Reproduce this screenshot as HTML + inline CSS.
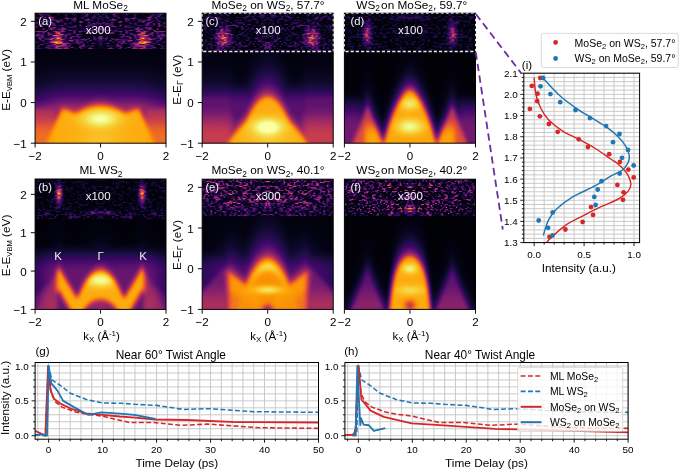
<!DOCTYPE html>
<html><head><meta charset="utf-8"><style>
html,body{margin:0;padding:0;background:#fff;}
#w{position:relative;width:685px;height:470px;overflow:hidden;background:#fff;}
#cv{position:absolute;left:0;top:0;width:685px;height:470px;}
#sv{position:absolute;left:0;top:0;}
text{font-family:"Liberation Sans",sans-serif;}
</style></head><body><div id="w">
<svg id="fb" width="685" height="470" viewBox="0 0 685 470" style="position:absolute;left:0;top:0">
<defs><filter id="fbb" x="-5%" y="-5%" width="110%" height="110%"><feGaussianBlur stdDeviation="2.2"/></filter>
<clipPath id="fca"><rect x="35.1" y="13.2" width="130.9" height="130.0"/></clipPath>
<clipPath id="fcc"><rect x="202.2" y="13.2" width="131.0" height="130.0"/></clipPath>
<clipPath id="fcd"><rect x="344.4" y="13.2" width="131.1" height="130.0"/></clipPath>
<clipPath id="fcb"><rect x="35.1" y="179.0" width="130.9" height="130.4"/></clipPath>
<clipPath id="fce"><rect x="202.2" y="179.2" width="131.0" height="130.2"/></clipPath>
<clipPath id="fcf"><rect x="344.4" y="179.2" width="131.1" height="130.2"/></clipPath>
</defs>
<g clip-path="url(#fca)"><g filter="url(#fbb)">
<rect x="32.1" y="10.2" width="11.5" height="11.4" fill="#16082f"/>
<rect x="43.3" y="10.2" width="8.5" height="11.4" fill="#280b45"/>
<rect x="51.5" y="10.2" width="8.5" height="11.4" fill="#230936"/>
<rect x="59.6" y="10.2" width="8.5" height="11.4" fill="#1c0832"/>
<rect x="67.8" y="10.2" width="8.5" height="11.4" fill="#220936"/>
<rect x="76.0" y="10.2" width="8.5" height="11.4" fill="#0d0522"/>
<rect x="84.2" y="10.2" width="8.5" height="11.4" fill="#280940"/>
<rect x="92.4" y="10.2" width="8.5" height="11.4" fill="#1a0937"/>
<rect x="100.6" y="10.2" width="8.5" height="11.4" fill="#1b0939"/>
<rect x="108.7" y="10.2" width="8.5" height="11.4" fill="#290940"/>
<rect x="116.9" y="10.2" width="8.5" height="11.4" fill="#0d0521"/>
<rect x="125.1" y="10.2" width="8.5" height="11.4" fill="#220836"/>
<rect x="133.3" y="10.2" width="8.5" height="11.4" fill="#1c0832"/>
<rect x="141.5" y="10.2" width="8.5" height="11.4" fill="#220935"/>
<rect x="149.6" y="10.2" width="8.5" height="11.4" fill="#280b46"/>
<rect x="157.8" y="10.2" width="11.5" height="11.4" fill="#15082e"/>
<rect x="32.1" y="21.3" width="11.5" height="8.4" fill="#250a36"/>
<rect x="43.3" y="21.3" width="8.5" height="8.4" fill="#1c0835"/>
<rect x="51.5" y="21.3" width="8.5" height="8.4" fill="#310c44"/>
<rect x="59.6" y="21.3" width="8.5" height="8.4" fill="#21093a"/>
<rect x="67.8" y="21.3" width="8.5" height="8.4" fill="#1a0935"/>
<rect x="76.0" y="21.3" width="8.5" height="8.4" fill="#1b0930"/>
<rect x="84.2" y="21.3" width="8.5" height="8.4" fill="#210a38"/>
<rect x="92.4" y="21.3" width="8.5" height="8.4" fill="#290a40"/>
<rect x="100.6" y="21.3" width="8.5" height="8.4" fill="#270a3d"/>
<rect x="108.7" y="21.3" width="8.5" height="8.4" fill="#210a38"/>
<rect x="116.9" y="21.3" width="8.5" height="8.4" fill="#1b092f"/>
<rect x="125.1" y="21.3" width="8.5" height="8.4" fill="#1a0936"/>
<rect x="133.3" y="21.3" width="8.5" height="8.4" fill="#20093a"/>
<rect x="141.5" y="21.3" width="8.5" height="8.4" fill="#310c44"/>
<rect x="149.6" y="21.3" width="8.5" height="8.4" fill="#1c0835"/>
<rect x="157.8" y="21.3" width="11.5" height="8.4" fill="#260a38"/>
<rect x="32.1" y="29.4" width="11.5" height="8.4" fill="#3e0e51"/>
<rect x="43.3" y="29.4" width="8.5" height="8.4" fill="#2e0c43"/>
<rect x="51.5" y="29.4" width="8.5" height="8.4" fill="#6a1f52"/>
<rect x="59.6" y="29.4" width="8.5" height="8.4" fill="#4c1355"/>
<rect x="67.8" y="29.4" width="8.5" height="8.4" fill="#280a41"/>
<rect x="76.0" y="29.4" width="8.5" height="8.4" fill="#200937"/>
<rect x="84.2" y="29.4" width="8.5" height="8.4" fill="#1c082e"/>
<rect x="92.4" y="29.4" width="8.5" height="8.4" fill="#200935"/>
<rect x="100.6" y="29.4" width="8.5" height="8.4" fill="#1d0832"/>
<rect x="108.7" y="29.4" width="8.5" height="8.4" fill="#1d082e"/>
<rect x="116.9" y="29.4" width="8.5" height="8.4" fill="#1f0936"/>
<rect x="125.1" y="29.4" width="8.5" height="8.4" fill="#280b42"/>
<rect x="133.3" y="29.4" width="8.5" height="8.4" fill="#4a1354"/>
<rect x="141.5" y="29.4" width="8.5" height="8.4" fill="#6b1f53"/>
<rect x="149.6" y="29.4" width="8.5" height="8.4" fill="#2e0c43"/>
<rect x="157.8" y="29.4" width="11.5" height="8.4" fill="#3c0e4e"/>
<rect x="32.1" y="37.6" width="11.5" height="8.4" fill="#200937"/>
<rect x="43.3" y="37.6" width="8.5" height="8.4" fill="#2c0c47"/>
<rect x="51.5" y="37.6" width="8.5" height="8.4" fill="#a03b50"/>
<rect x="59.6" y="37.6" width="8.5" height="8.4" fill="#6f2057"/>
<rect x="67.8" y="37.6" width="8.5" height="8.4" fill="#2d0c42"/>
<rect x="76.0" y="37.6" width="8.5" height="8.4" fill="#350c4d"/>
<rect x="84.2" y="37.6" width="8.5" height="8.4" fill="#1b0832"/>
<rect x="92.4" y="37.6" width="8.5" height="8.4" fill="#20093a"/>
<rect x="100.6" y="37.6" width="8.5" height="8.4" fill="#1c0936"/>
<rect x="108.7" y="37.6" width="8.5" height="8.4" fill="#1b0831"/>
<rect x="116.9" y="37.6" width="8.5" height="8.4" fill="#350c4d"/>
<rect x="125.1" y="37.6" width="8.5" height="8.4" fill="#2d0c42"/>
<rect x="133.3" y="37.6" width="8.5" height="8.4" fill="#6d2057"/>
<rect x="141.5" y="37.6" width="8.5" height="8.4" fill="#a03b50"/>
<rect x="149.6" y="37.6" width="8.5" height="8.4" fill="#2d0c47"/>
<rect x="157.8" y="37.6" width="11.5" height="8.4" fill="#1e0934"/>
<rect x="32.1" y="45.7" width="11.5" height="8.4" fill="#0b041d"/>
<rect x="43.3" y="45.7" width="8.5" height="8.4" fill="#130524"/>
<rect x="51.5" y="45.7" width="8.5" height="8.4" fill="#280a2d"/>
<rect x="59.6" y="45.7" width="8.5" height="8.4" fill="#2a0b31"/>
<rect x="67.8" y="45.7" width="8.5" height="8.4" fill="#0f051f"/>
<rect x="76.0" y="45.7" width="8.5" height="8.4" fill="#110522"/>
<rect x="84.2" y="45.7" width="8.5" height="8.4" fill="#100620"/>
<rect x="92.4" y="45.7" width="8.5" height="8.4" fill="#070317"/>
<rect x="100.6" y="45.7" width="8.5" height="8.4" fill="#070317"/>
<rect x="108.7" y="45.7" width="8.5" height="8.4" fill="#100620"/>
<rect x="116.9" y="45.7" width="8.5" height="8.4" fill="#120522"/>
<rect x="125.1" y="45.7" width="8.5" height="8.4" fill="#0e051f"/>
<rect x="133.3" y="45.7" width="8.5" height="8.4" fill="#2a0b31"/>
<rect x="141.5" y="45.7" width="8.5" height="8.4" fill="#280b2d"/>
<rect x="149.6" y="45.7" width="8.5" height="8.4" fill="#130625"/>
<rect x="157.8" y="45.7" width="11.5" height="8.4" fill="#0a041c"/>
<rect x="32.1" y="53.8" width="11.5" height="8.4" fill="#030210"/>
<rect x="43.3" y="53.8" width="8.5" height="8.4" fill="#030211"/>
<rect x="51.5" y="53.8" width="8.5" height="8.4" fill="#040312"/>
<rect x="59.6" y="53.8" width="8.5" height="8.4" fill="#040312"/>
<rect x="67.8" y="53.8" width="8.5" height="8.4" fill="#040312"/>
<rect x="76.0" y="53.8" width="8.5" height="8.4" fill="#040312"/>
<rect x="84.2" y="53.8" width="8.5" height="8.4" fill="#040312"/>
<rect x="92.4" y="53.8" width="8.5" height="8.4" fill="#040312"/>
<rect x="100.6" y="53.8" width="8.5" height="8.4" fill="#040312"/>
<rect x="108.7" y="53.8" width="8.5" height="8.4" fill="#040312"/>
<rect x="116.9" y="53.8" width="8.5" height="8.4" fill="#040312"/>
<rect x="125.1" y="53.8" width="8.5" height="8.4" fill="#040312"/>
<rect x="133.3" y="53.8" width="8.5" height="8.4" fill="#040312"/>
<rect x="141.5" y="53.8" width="8.5" height="8.4" fill="#040312"/>
<rect x="149.6" y="53.8" width="8.5" height="8.4" fill="#030211"/>
<rect x="157.8" y="53.8" width="11.5" height="8.4" fill="#030210"/>
<rect x="32.1" y="62.0" width="11.5" height="8.4" fill="#040315"/>
<rect x="43.3" y="62.0" width="8.5" height="8.4" fill="#050416"/>
<rect x="51.5" y="62.0" width="8.5" height="8.4" fill="#060418"/>
<rect x="59.6" y="62.0" width="8.5" height="8.4" fill="#06041a"/>
<rect x="67.8" y="62.0" width="8.5" height="8.4" fill="#06041a"/>
<rect x="76.0" y="62.0" width="8.5" height="8.4" fill="#06041a"/>
<rect x="84.2" y="62.0" width="8.5" height="8.4" fill="#06041a"/>
<rect x="92.4" y="62.0" width="8.5" height="8.4" fill="#06041a"/>
<rect x="100.6" y="62.0" width="8.5" height="8.4" fill="#06041a"/>
<rect x="108.7" y="62.0" width="8.5" height="8.4" fill="#06041a"/>
<rect x="116.9" y="62.0" width="8.5" height="8.4" fill="#06041a"/>
<rect x="125.1" y="62.0" width="8.5" height="8.4" fill="#06041a"/>
<rect x="133.3" y="62.0" width="8.5" height="8.4" fill="#06041a"/>
<rect x="141.5" y="62.0" width="8.5" height="8.4" fill="#060418"/>
<rect x="149.6" y="62.0" width="8.5" height="8.4" fill="#050416"/>
<rect x="157.8" y="62.0" width="11.5" height="8.4" fill="#040315"/>
<rect x="32.1" y="70.1" width="11.5" height="8.4" fill="#08051d"/>
<rect x="43.3" y="70.1" width="8.5" height="8.4" fill="#09061f"/>
<rect x="51.5" y="70.1" width="8.5" height="8.4" fill="#0a0723"/>
<rect x="59.6" y="70.1" width="8.5" height="8.4" fill="#0b0724"/>
<rect x="67.8" y="70.1" width="8.5" height="8.4" fill="#0b0724"/>
<rect x="76.0" y="70.1" width="8.5" height="8.4" fill="#0b0724"/>
<rect x="84.2" y="70.1" width="8.5" height="8.4" fill="#0b0724"/>
<rect x="92.4" y="70.1" width="8.5" height="8.4" fill="#0b0724"/>
<rect x="100.6" y="70.1" width="8.5" height="8.4" fill="#0b0724"/>
<rect x="108.7" y="70.1" width="8.5" height="8.4" fill="#0b0724"/>
<rect x="116.9" y="70.1" width="8.5" height="8.4" fill="#0b0724"/>
<rect x="125.1" y="70.1" width="8.5" height="8.4" fill="#0b0724"/>
<rect x="133.3" y="70.1" width="8.5" height="8.4" fill="#0b0724"/>
<rect x="141.5" y="70.1" width="8.5" height="8.4" fill="#0a0723"/>
<rect x="149.6" y="70.1" width="8.5" height="8.4" fill="#09061f"/>
<rect x="157.8" y="70.1" width="11.5" height="8.4" fill="#08051d"/>
<rect x="32.1" y="78.2" width="11.5" height="8.4" fill="#0f092b"/>
<rect x="43.3" y="78.2" width="8.5" height="8.4" fill="#110a2f"/>
<rect x="51.5" y="78.2" width="8.5" height="8.4" fill="#140b35"/>
<rect x="59.6" y="78.2" width="8.5" height="8.4" fill="#160b39"/>
<rect x="67.8" y="78.2" width="8.5" height="8.4" fill="#160b39"/>
<rect x="76.0" y="78.2" width="8.5" height="8.4" fill="#160b39"/>
<rect x="84.2" y="78.2" width="8.5" height="8.4" fill="#160b39"/>
<rect x="92.4" y="78.2" width="8.5" height="8.4" fill="#160b39"/>
<rect x="100.6" y="78.2" width="8.5" height="8.4" fill="#160b39"/>
<rect x="108.7" y="78.2" width="8.5" height="8.4" fill="#160b39"/>
<rect x="116.9" y="78.2" width="8.5" height="8.4" fill="#160b39"/>
<rect x="125.1" y="78.2" width="8.5" height="8.4" fill="#160b39"/>
<rect x="133.3" y="78.2" width="8.5" height="8.4" fill="#160b39"/>
<rect x="141.5" y="78.2" width="8.5" height="8.4" fill="#140b35"/>
<rect x="149.6" y="78.2" width="8.5" height="8.4" fill="#110a2f"/>
<rect x="157.8" y="78.2" width="11.5" height="8.4" fill="#0f092b"/>
<rect x="32.1" y="86.3" width="11.5" height="8.4" fill="#1d0c44"/>
<rect x="43.3" y="86.3" width="8.5" height="8.4" fill="#220c4b"/>
<rect x="51.5" y="86.3" width="8.5" height="8.4" fill="#290b53"/>
<rect x="59.6" y="86.3" width="8.5" height="8.4" fill="#2d0b58"/>
<rect x="67.8" y="86.3" width="8.5" height="8.4" fill="#2e0a58"/>
<rect x="76.0" y="86.3" width="8.5" height="8.4" fill="#2e0a58"/>
<rect x="84.2" y="86.3" width="8.5" height="8.4" fill="#2e0a58"/>
<rect x="92.4" y="86.3" width="8.5" height="8.4" fill="#2e0a59"/>
<rect x="100.6" y="86.3" width="8.5" height="8.4" fill="#2e0a59"/>
<rect x="108.7" y="86.3" width="8.5" height="8.4" fill="#2e0a58"/>
<rect x="116.9" y="86.3" width="8.5" height="8.4" fill="#2e0a58"/>
<rect x="125.1" y="86.3" width="8.5" height="8.4" fill="#2e0a58"/>
<rect x="133.3" y="86.3" width="8.5" height="8.4" fill="#2d0b58"/>
<rect x="141.5" y="86.3" width="8.5" height="8.4" fill="#290b53"/>
<rect x="149.6" y="86.3" width="8.5" height="8.4" fill="#220c4b"/>
<rect x="157.8" y="86.3" width="11.5" height="8.4" fill="#1d0c44"/>
<rect x="32.1" y="94.5" width="11.5" height="8.4" fill="#3d0b64"/>
<rect x="43.3" y="94.5" width="8.5" height="8.4" fill="#460c68"/>
<rect x="51.5" y="94.5" width="8.5" height="8.4" fill="#520f6b"/>
<rect x="59.6" y="94.5" width="8.5" height="8.4" fill="#59116c"/>
<rect x="67.8" y="94.5" width="8.5" height="8.4" fill="#59116c"/>
<rect x="76.0" y="94.5" width="8.5" height="8.4" fill="#5a116c"/>
<rect x="84.2" y="94.5" width="8.5" height="8.4" fill="#5e136c"/>
<rect x="92.4" y="94.5" width="8.5" height="8.4" fill="#6a176b"/>
<rect x="100.6" y="94.5" width="8.5" height="8.4" fill="#6a176b"/>
<rect x="108.7" y="94.5" width="8.5" height="8.4" fill="#5e136c"/>
<rect x="116.9" y="94.5" width="8.5" height="8.4" fill="#5a116c"/>
<rect x="125.1" y="94.5" width="8.5" height="8.4" fill="#59116c"/>
<rect x="133.3" y="94.5" width="8.5" height="8.4" fill="#59116c"/>
<rect x="141.5" y="94.5" width="8.5" height="8.4" fill="#520f6b"/>
<rect x="149.6" y="94.5" width="8.5" height="8.4" fill="#460c68"/>
<rect x="157.8" y="94.5" width="11.5" height="8.4" fill="#3d0b63"/>
<rect x="32.1" y="102.6" width="11.5" height="8.4" fill="#7b1d6b"/>
<rect x="43.3" y="102.6" width="8.5" height="8.4" fill="#811f6a"/>
<rect x="51.5" y="102.6" width="8.5" height="8.4" fill="#8b2369"/>
<rect x="59.6" y="102.6" width="8.5" height="8.4" fill="#b03854"/>
<rect x="67.8" y="102.6" width="8.5" height="8.4" fill="#a22d5e"/>
<rect x="76.0" y="102.6" width="8.5" height="8.4" fill="#ab3557"/>
<rect x="84.2" y="102.6" width="8.5" height="8.4" fill="#d46037"/>
<rect x="92.4" y="102.6" width="8.5" height="8.4" fill="#e9832b"/>
<rect x="100.6" y="102.6" width="8.5" height="8.4" fill="#e9822b"/>
<rect x="108.7" y="102.6" width="8.5" height="8.4" fill="#d46037"/>
<rect x="116.9" y="102.6" width="8.5" height="8.4" fill="#ac3557"/>
<rect x="125.1" y="102.6" width="8.5" height="8.4" fill="#a22d5e"/>
<rect x="133.3" y="102.6" width="8.5" height="8.4" fill="#b03854"/>
<rect x="141.5" y="102.6" width="8.5" height="8.4" fill="#8b2369"/>
<rect x="149.6" y="102.6" width="8.5" height="8.4" fill="#811f6a"/>
<rect x="157.8" y="102.6" width="11.5" height="8.4" fill="#7b1d6b"/>
<rect x="32.1" y="110.7" width="11.5" height="8.4" fill="#b83656"/>
<rect x="43.3" y="110.7" width="8.5" height="8.4" fill="#b83656"/>
<rect x="51.5" y="110.7" width="8.5" height="8.4" fill="#bf3e4e"/>
<rect x="59.6" y="110.7" width="8.5" height="8.4" fill="#fa9c10"/>
<rect x="67.8" y="110.7" width="8.5" height="8.4" fill="#f79816"/>
<rect x="76.0" y="110.7" width="8.5" height="8.4" fill="#f9ac20"/>
<rect x="84.2" y="110.7" width="8.5" height="8.4" fill="#f6d647"/>
<rect x="92.4" y="110.7" width="8.5" height="8.4" fill="#f5ed75"/>
<rect x="100.6" y="110.7" width="8.5" height="8.4" fill="#f5ec74"/>
<rect x="108.7" y="110.7" width="8.5" height="8.4" fill="#f6d748"/>
<rect x="116.9" y="110.7" width="8.5" height="8.4" fill="#f9ad20"/>
<rect x="125.1" y="110.7" width="8.5" height="8.4" fill="#f79816"/>
<rect x="133.3" y="110.7" width="8.5" height="8.4" fill="#fa9c0f"/>
<rect x="141.5" y="110.7" width="8.5" height="8.4" fill="#c03f4d"/>
<rect x="149.6" y="110.7" width="8.5" height="8.4" fill="#b83656"/>
<rect x="157.8" y="110.7" width="11.5" height="8.4" fill="#b83656"/>
<rect x="32.1" y="118.8" width="11.5" height="8.4" fill="#d54a40"/>
<rect x="43.3" y="118.8" width="8.5" height="8.4" fill="#d54a40"/>
<rect x="51.5" y="118.8" width="8.5" height="8.4" fill="#eb7423"/>
<rect x="59.6" y="118.8" width="8.5" height="8.4" fill="#fcac11"/>
<rect x="67.8" y="118.8" width="8.5" height="8.4" fill="#fcb216"/>
<rect x="76.0" y="118.8" width="8.5" height="8.4" fill="#fabf25"/>
<rect x="84.2" y="118.8" width="8.5" height="8.4" fill="#f6d748"/>
<rect x="92.4" y="118.8" width="8.5" height="8.4" fill="#f5ec72"/>
<rect x="100.6" y="118.8" width="8.5" height="8.4" fill="#f4eb71"/>
<rect x="108.7" y="118.8" width="8.5" height="8.4" fill="#f6d748"/>
<rect x="116.9" y="118.8" width="8.5" height="8.4" fill="#fac026"/>
<rect x="125.1" y="118.8" width="8.5" height="8.4" fill="#fcb216"/>
<rect x="133.3" y="118.8" width="8.5" height="8.4" fill="#fcac11"/>
<rect x="141.5" y="118.8" width="8.5" height="8.4" fill="#eb7522"/>
<rect x="149.6" y="118.8" width="8.5" height="8.4" fill="#d54a40"/>
<rect x="157.8" y="118.8" width="11.5" height="8.4" fill="#d54a40"/>
<rect x="32.1" y="127.0" width="11.5" height="8.4" fill="#ea6429"/>
<rect x="43.3" y="127.0" width="8.5" height="8.4" fill="#ec6826"/>
<rect x="51.5" y="127.0" width="8.5" height="8.4" fill="#fa9e0e"/>
<rect x="59.6" y="127.0" width="8.5" height="8.4" fill="#fcac11"/>
<rect x="67.8" y="127.0" width="8.5" height="8.4" fill="#fcaf13"/>
<rect x="76.0" y="127.0" width="8.5" height="8.4" fill="#fcb418"/>
<rect x="84.2" y="127.0" width="8.5" height="8.4" fill="#fbbc21"/>
<rect x="92.4" y="127.0" width="8.5" height="8.4" fill="#fac329"/>
<rect x="100.6" y="127.0" width="8.5" height="8.4" fill="#fac329"/>
<rect x="108.7" y="127.0" width="8.5" height="8.4" fill="#fbbc21"/>
<rect x="116.9" y="127.0" width="8.5" height="8.4" fill="#fcb418"/>
<rect x="125.1" y="127.0" width="8.5" height="8.4" fill="#fcaf13"/>
<rect x="133.3" y="127.0" width="8.5" height="8.4" fill="#fcac11"/>
<rect x="141.5" y="127.0" width="8.5" height="8.4" fill="#fa9e0e"/>
<rect x="149.6" y="127.0" width="8.5" height="8.4" fill="#ec6826"/>
<rect x="157.8" y="127.0" width="11.5" height="8.4" fill="#ea6429"/>
<rect x="32.1" y="135.1" width="11.5" height="11.4" fill="#ef6c23"/>
<rect x="43.3" y="135.1" width="8.5" height="11.4" fill="#f47e16"/>
<rect x="51.5" y="135.1" width="8.5" height="11.4" fill="#fca80e"/>
<rect x="59.6" y="135.1" width="8.5" height="11.4" fill="#fcac11"/>
<rect x="67.8" y="135.1" width="8.5" height="11.4" fill="#fcaf13"/>
<rect x="76.0" y="135.1" width="8.5" height="11.4" fill="#fcb317"/>
<rect x="84.2" y="135.1" width="8.5" height="11.4" fill="#fbb91e"/>
<rect x="92.4" y="135.1" width="8.5" height="11.4" fill="#fbbf24"/>
<rect x="100.6" y="135.1" width="8.5" height="11.4" fill="#fbbf24"/>
<rect x="108.7" y="135.1" width="8.5" height="11.4" fill="#fbba1e"/>
<rect x="116.9" y="135.1" width="8.5" height="11.4" fill="#fcb317"/>
<rect x="125.1" y="135.1" width="8.5" height="11.4" fill="#fcaf13"/>
<rect x="133.3" y="135.1" width="8.5" height="11.4" fill="#fcac11"/>
<rect x="141.5" y="135.1" width="8.5" height="11.4" fill="#fca80e"/>
<rect x="149.6" y="135.1" width="8.5" height="11.4" fill="#f57f15"/>
<rect x="157.8" y="135.1" width="11.5" height="11.4" fill="#ef6c23"/>
</g></g>
<g clip-path="url(#fcc)"><g filter="url(#fbb)">
<rect x="199.2" y="10.2" width="11.5" height="11.4" fill="#150831"/>
<rect x="210.4" y="10.2" width="8.5" height="11.4" fill="#1a0734"/>
<rect x="218.6" y="10.2" width="8.5" height="11.4" fill="#12062a"/>
<rect x="226.8" y="10.2" width="8.5" height="11.4" fill="#09051c"/>
<rect x="234.9" y="10.2" width="8.5" height="11.4" fill="#0c051f"/>
<rect x="243.1" y="10.2" width="8.5" height="11.4" fill="#160730"/>
<rect x="251.3" y="10.2" width="8.5" height="11.4" fill="#110629"/>
<rect x="259.5" y="10.2" width="8.5" height="11.4" fill="#1a0837"/>
<rect x="267.7" y="10.2" width="8.5" height="11.4" fill="#190735"/>
<rect x="275.9" y="10.2" width="8.5" height="11.4" fill="#11072a"/>
<rect x="284.1" y="10.2" width="8.5" height="11.4" fill="#160730"/>
<rect x="292.3" y="10.2" width="8.5" height="11.4" fill="#0c0520"/>
<rect x="300.4" y="10.2" width="8.5" height="11.4" fill="#0a051e"/>
<rect x="308.6" y="10.2" width="8.5" height="11.4" fill="#13062b"/>
<rect x="316.8" y="10.2" width="8.5" height="11.4" fill="#190733"/>
<rect x="325.0" y="10.2" width="11.5" height="11.4" fill="#14072f"/>
<rect x="199.2" y="21.3" width="11.5" height="8.4" fill="#100728"/>
<rect x="210.4" y="21.3" width="8.5" height="8.4" fill="#0d0522"/>
<rect x="218.6" y="21.3" width="8.5" height="8.4" fill="#210a41"/>
<rect x="226.8" y="21.3" width="8.5" height="8.4" fill="#1c0835"/>
<rect x="234.9" y="21.3" width="8.5" height="8.4" fill="#1b0835"/>
<rect x="243.1" y="21.3" width="8.5" height="8.4" fill="#0e0624"/>
<rect x="251.3" y="21.3" width="8.5" height="8.4" fill="#0b041d"/>
<rect x="259.5" y="21.3" width="8.5" height="8.4" fill="#0b0620"/>
<rect x="267.7" y="21.3" width="8.5" height="8.4" fill="#0b0620"/>
<rect x="275.9" y="21.3" width="8.5" height="8.4" fill="#0c051e"/>
<rect x="284.1" y="21.3" width="8.5" height="8.4" fill="#0e0522"/>
<rect x="292.3" y="21.3" width="8.5" height="8.4" fill="#1a0834"/>
<rect x="300.4" y="21.3" width="8.5" height="8.4" fill="#1e0938"/>
<rect x="308.6" y="21.3" width="8.5" height="8.4" fill="#1e0a3e"/>
<rect x="316.8" y="21.3" width="8.5" height="8.4" fill="#0d0522"/>
<rect x="325.0" y="21.3" width="11.5" height="8.4" fill="#0f0626"/>
<rect x="199.2" y="29.4" width="11.5" height="8.4" fill="#0a051f"/>
<rect x="210.4" y="29.4" width="8.5" height="8.4" fill="#260b3b"/>
<rect x="218.6" y="29.4" width="8.5" height="8.4" fill="#832460"/>
<rect x="226.8" y="29.4" width="8.5" height="8.4" fill="#340d48"/>
<rect x="234.9" y="29.4" width="8.5" height="8.4" fill="#0c0520"/>
<rect x="243.1" y="29.4" width="8.5" height="8.4" fill="#0d0624"/>
<rect x="251.3" y="29.4" width="8.5" height="8.4" fill="#120629"/>
<rect x="259.5" y="29.4" width="8.5" height="8.4" fill="#160830"/>
<rect x="267.7" y="29.4" width="8.5" height="8.4" fill="#15082f"/>
<rect x="275.9" y="29.4" width="8.5" height="8.4" fill="#13072b"/>
<rect x="284.1" y="29.4" width="8.5" height="8.4" fill="#0d0623"/>
<rect x="292.3" y="29.4" width="8.5" height="8.4" fill="#0d0521"/>
<rect x="300.4" y="29.4" width="8.5" height="8.4" fill="#370e47"/>
<rect x="308.6" y="29.4" width="8.5" height="8.4" fill="#822460"/>
<rect x="316.8" y="29.4" width="8.5" height="8.4" fill="#220a3a"/>
<rect x="325.0" y="29.4" width="11.5" height="8.4" fill="#0a051f"/>
<rect x="199.2" y="37.6" width="11.5" height="8.4" fill="#100626"/>
<rect x="210.4" y="37.6" width="8.5" height="8.4" fill="#2c0c45"/>
<rect x="218.6" y="37.6" width="8.5" height="8.4" fill="#8f295e"/>
<rect x="226.8" y="37.6" width="8.5" height="8.4" fill="#360c4d"/>
<rect x="234.9" y="37.6" width="8.5" height="8.4" fill="#15072d"/>
<rect x="243.1" y="37.6" width="8.5" height="8.4" fill="#0e0626"/>
<rect x="251.3" y="37.6" width="8.5" height="8.4" fill="#130627"/>
<rect x="259.5" y="37.6" width="8.5" height="8.4" fill="#1d0836"/>
<rect x="267.7" y="37.6" width="8.5" height="8.4" fill="#1e0838"/>
<rect x="275.9" y="37.6" width="8.5" height="8.4" fill="#120627"/>
<rect x="284.1" y="37.6" width="8.5" height="8.4" fill="#0f0627"/>
<rect x="292.3" y="37.6" width="8.5" height="8.4" fill="#14072c"/>
<rect x="300.4" y="37.6" width="8.5" height="8.4" fill="#390d4e"/>
<rect x="308.6" y="37.6" width="8.5" height="8.4" fill="#8e295d"/>
<rect x="316.8" y="37.6" width="8.5" height="8.4" fill="#280b43"/>
<rect x="325.0" y="37.6" width="11.5" height="8.4" fill="#100627"/>
<rect x="199.2" y="45.7" width="11.5" height="8.4" fill="#0a041c"/>
<rect x="210.4" y="45.7" width="8.5" height="8.4" fill="#17062d"/>
<rect x="218.6" y="45.7" width="8.5" height="8.4" fill="#1f0837"/>
<rect x="226.8" y="45.7" width="8.5" height="8.4" fill="#0e0624"/>
<rect x="234.9" y="45.7" width="8.5" height="8.4" fill="#0c051d"/>
<rect x="243.1" y="45.7" width="8.5" height="8.4" fill="#0c041c"/>
<rect x="251.3" y="45.7" width="8.5" height="8.4" fill="#0c041e"/>
<rect x="259.5" y="45.7" width="8.5" height="8.4" fill="#17072d"/>
<rect x="267.7" y="45.7" width="8.5" height="8.4" fill="#15072b"/>
<rect x="275.9" y="45.7" width="8.5" height="8.4" fill="#0c051e"/>
<rect x="284.1" y="45.7" width="8.5" height="8.4" fill="#0c041d"/>
<rect x="292.3" y="45.7" width="8.5" height="8.4" fill="#0c041d"/>
<rect x="300.4" y="45.7" width="8.5" height="8.4" fill="#0d0623"/>
<rect x="308.6" y="45.7" width="8.5" height="8.4" fill="#220839"/>
<rect x="316.8" y="45.7" width="8.5" height="8.4" fill="#16062c"/>
<rect x="325.0" y="45.7" width="11.5" height="8.4" fill="#09041b"/>
<rect x="199.2" y="53.8" width="11.5" height="8.4" fill="#030211"/>
<rect x="210.4" y="53.8" width="8.5" height="8.4" fill="#030211"/>
<rect x="218.6" y="53.8" width="8.5" height="8.4" fill="#030211"/>
<rect x="226.8" y="53.8" width="8.5" height="8.4" fill="#030210"/>
<rect x="234.9" y="53.8" width="8.5" height="8.4" fill="#02020e"/>
<rect x="243.1" y="53.8" width="8.5" height="8.4" fill="#030210"/>
<rect x="251.3" y="53.8" width="8.5" height="8.4" fill="#060418"/>
<rect x="259.5" y="53.8" width="8.5" height="8.4" fill="#090620"/>
<rect x="267.7" y="53.8" width="8.5" height="8.4" fill="#090620"/>
<rect x="275.9" y="53.8" width="8.5" height="8.4" fill="#060418"/>
<rect x="284.1" y="53.8" width="8.5" height="8.4" fill="#030210"/>
<rect x="292.3" y="53.8" width="8.5" height="8.4" fill="#02020d"/>
<rect x="300.4" y="53.8" width="8.5" height="8.4" fill="#030210"/>
<rect x="308.6" y="53.8" width="8.5" height="8.4" fill="#030211"/>
<rect x="316.8" y="53.8" width="8.5" height="8.4" fill="#030211"/>
<rect x="325.0" y="53.8" width="11.5" height="8.4" fill="#030211"/>
<rect x="199.2" y="62.0" width="11.5" height="8.4" fill="#050416"/>
<rect x="210.4" y="62.0" width="8.5" height="8.4" fill="#050416"/>
<rect x="218.6" y="62.0" width="8.5" height="8.4" fill="#050416"/>
<rect x="226.8" y="62.0" width="8.5" height="8.4" fill="#040314"/>
<rect x="234.9" y="62.0" width="8.5" height="8.4" fill="#030210"/>
<rect x="243.1" y="62.0" width="8.5" height="8.4" fill="#040314"/>
<rect x="251.3" y="62.0" width="8.5" height="8.4" fill="#0a0722"/>
<rect x="259.5" y="62.0" width="8.5" height="8.4" fill="#110a2f"/>
<rect x="267.7" y="62.0" width="8.5" height="8.4" fill="#10092f"/>
<rect x="275.9" y="62.0" width="8.5" height="8.4" fill="#0a0722"/>
<rect x="284.1" y="62.0" width="8.5" height="8.4" fill="#040314"/>
<rect x="292.3" y="62.0" width="8.5" height="8.4" fill="#030210"/>
<rect x="300.4" y="62.0" width="8.5" height="8.4" fill="#040314"/>
<rect x="308.6" y="62.0" width="8.5" height="8.4" fill="#050416"/>
<rect x="316.8" y="62.0" width="8.5" height="8.4" fill="#050416"/>
<rect x="325.0" y="62.0" width="11.5" height="8.4" fill="#050416"/>
<rect x="199.2" y="70.1" width="11.5" height="8.4" fill="#09061e"/>
<rect x="210.4" y="70.1" width="8.5" height="8.4" fill="#09061e"/>
<rect x="218.6" y="70.1" width="8.5" height="8.4" fill="#09061e"/>
<rect x="226.8" y="70.1" width="8.5" height="8.4" fill="#07051c"/>
<rect x="234.9" y="70.1" width="8.5" height="8.4" fill="#040314"/>
<rect x="243.1" y="70.1" width="8.5" height="8.4" fill="#07051b"/>
<rect x="251.3" y="70.1" width="8.5" height="8.4" fill="#130a33"/>
<rect x="259.5" y="70.1" width="8.5" height="8.4" fill="#210c49"/>
<rect x="267.7" y="70.1" width="8.5" height="8.4" fill="#200c48"/>
<rect x="275.9" y="70.1" width="8.5" height="8.4" fill="#120a32"/>
<rect x="284.1" y="70.1" width="8.5" height="8.4" fill="#07051c"/>
<rect x="292.3" y="70.1" width="8.5" height="8.4" fill="#040314"/>
<rect x="300.4" y="70.1" width="8.5" height="8.4" fill="#07051c"/>
<rect x="308.6" y="70.1" width="8.5" height="8.4" fill="#09061e"/>
<rect x="316.8" y="70.1" width="8.5" height="8.4" fill="#09061e"/>
<rect x="325.0" y="70.1" width="11.5" height="8.4" fill="#09061e"/>
<rect x="199.2" y="78.2" width="11.5" height="8.4" fill="#110a2f"/>
<rect x="210.4" y="78.2" width="8.5" height="8.4" fill="#110a2f"/>
<rect x="218.6" y="78.2" width="8.5" height="8.4" fill="#110a2f"/>
<rect x="226.8" y="78.2" width="8.5" height="8.4" fill="#0e082a"/>
<rect x="234.9" y="78.2" width="8.5" height="8.4" fill="#09061f"/>
<rect x="243.1" y="78.2" width="8.5" height="8.4" fill="#0d0828"/>
<rect x="251.3" y="78.2" width="8.5" height="8.4" fill="#250b4d"/>
<rect x="259.5" y="78.2" width="8.5" height="8.4" fill="#400b65"/>
<rect x="267.7" y="78.2" width="8.5" height="8.4" fill="#3e0b64"/>
<rect x="275.9" y="78.2" width="8.5" height="8.4" fill="#240b4d"/>
<rect x="284.1" y="78.2" width="8.5" height="8.4" fill="#0e0829"/>
<rect x="292.3" y="78.2" width="8.5" height="8.4" fill="#09061e"/>
<rect x="300.4" y="78.2" width="8.5" height="8.4" fill="#0e082a"/>
<rect x="308.6" y="78.2" width="8.5" height="8.4" fill="#110a2f"/>
<rect x="316.8" y="78.2" width="8.5" height="8.4" fill="#110a2f"/>
<rect x="325.0" y="78.2" width="11.5" height="8.4" fill="#110a2f"/>
<rect x="199.2" y="86.3" width="11.5" height="8.4" fill="#260b50"/>
<rect x="210.4" y="86.3" width="8.5" height="8.4" fill="#260b50"/>
<rect x="218.6" y="86.3" width="8.5" height="8.4" fill="#260b50"/>
<rect x="226.8" y="86.3" width="8.5" height="8.4" fill="#220b4a"/>
<rect x="234.9" y="86.3" width="8.5" height="8.4" fill="#1f0b46"/>
<rect x="243.1" y="86.3" width="8.5" height="8.4" fill="#220b49"/>
<rect x="251.3" y="86.3" width="8.5" height="8.4" fill="#460d65"/>
<rect x="259.5" y="86.3" width="8.5" height="8.4" fill="#771c6b"/>
<rect x="267.7" y="86.3" width="8.5" height="8.4" fill="#751b6c"/>
<rect x="275.9" y="86.3" width="8.5" height="8.4" fill="#460d66"/>
<rect x="284.1" y="86.3" width="8.5" height="8.4" fill="#220b4a"/>
<rect x="292.3" y="86.3" width="8.5" height="8.4" fill="#1f0b46"/>
<rect x="300.4" y="86.3" width="8.5" height="8.4" fill="#220b4b"/>
<rect x="308.6" y="86.3" width="8.5" height="8.4" fill="#260b50"/>
<rect x="316.8" y="86.3" width="8.5" height="8.4" fill="#260b50"/>
<rect x="325.0" y="86.3" width="11.5" height="8.4" fill="#260b50"/>
<rect x="199.2" y="94.5" width="11.5" height="8.4" fill="#520f6c"/>
<rect x="210.4" y="94.5" width="8.5" height="8.4" fill="#520f6c"/>
<rect x="218.6" y="94.5" width="8.5" height="8.4" fill="#520f6c"/>
<rect x="226.8" y="94.5" width="8.5" height="8.4" fill="#4b0c6a"/>
<rect x="234.9" y="94.5" width="8.5" height="8.4" fill="#450b68"/>
<rect x="243.1" y="94.5" width="8.5" height="8.4" fill="#480c69"/>
<rect x="251.3" y="94.5" width="8.5" height="8.4" fill="#8e285f"/>
<rect x="259.5" y="94.5" width="8.5" height="8.4" fill="#e26e29"/>
<rect x="267.7" y="94.5" width="8.5" height="8.4" fill="#e06a2c"/>
<rect x="275.9" y="94.5" width="8.5" height="8.4" fill="#8d2761"/>
<rect x="284.1" y="94.5" width="8.5" height="8.4" fill="#490c69"/>
<rect x="292.3" y="94.5" width="8.5" height="8.4" fill="#450b68"/>
<rect x="300.4" y="94.5" width="8.5" height="8.4" fill="#4b0c6a"/>
<rect x="308.6" y="94.5" width="8.5" height="8.4" fill="#520f6c"/>
<rect x="316.8" y="94.5" width="8.5" height="8.4" fill="#520f6c"/>
<rect x="325.0" y="94.5" width="11.5" height="8.4" fill="#520f6c"/>
<rect x="199.2" y="102.6" width="11.5" height="8.4" fill="#64156e"/>
<rect x="210.4" y="102.6" width="8.5" height="8.4" fill="#64156e"/>
<rect x="218.6" y="102.6" width="8.5" height="8.4" fill="#64156e"/>
<rect x="226.8" y="102.6" width="8.5" height="8.4" fill="#5c126e"/>
<rect x="234.9" y="102.6" width="8.5" height="8.4" fill="#58106e"/>
<rect x="243.1" y="102.6" width="8.5" height="8.4" fill="#6e196b"/>
<rect x="251.3" y="102.6" width="8.5" height="8.4" fill="#e67725"/>
<rect x="259.5" y="102.6" width="8.5" height="8.4" fill="#fcac10"/>
<rect x="267.7" y="102.6" width="8.5" height="8.4" fill="#fcab10"/>
<rect x="275.9" y="102.6" width="8.5" height="8.4" fill="#e77724"/>
<rect x="284.1" y="102.6" width="8.5" height="8.4" fill="#721a6a"/>
<rect x="292.3" y="102.6" width="8.5" height="8.4" fill="#58106e"/>
<rect x="300.4" y="102.6" width="8.5" height="8.4" fill="#5c126e"/>
<rect x="308.6" y="102.6" width="8.5" height="8.4" fill="#64156e"/>
<rect x="316.8" y="102.6" width="8.5" height="8.4" fill="#64156e"/>
<rect x="325.0" y="102.6" width="11.5" height="8.4" fill="#64156e"/>
<rect x="199.2" y="110.7" width="11.5" height="8.4" fill="#801f6c"/>
<rect x="210.4" y="110.7" width="8.5" height="8.4" fill="#801f6c"/>
<rect x="218.6" y="110.7" width="8.5" height="8.4" fill="#801f6c"/>
<rect x="226.8" y="110.7" width="8.5" height="8.4" fill="#70196d"/>
<rect x="234.9" y="110.7" width="8.5" height="8.4" fill="#61136e"/>
<rect x="243.1" y="110.7" width="8.5" height="8.4" fill="#b4424b"/>
<rect x="251.3" y="110.7" width="8.5" height="8.4" fill="#fbb019"/>
<rect x="259.5" y="110.7" width="8.5" height="8.4" fill="#fabd23"/>
<rect x="267.7" y="110.7" width="8.5" height="8.4" fill="#fabc23"/>
<rect x="275.9" y="110.7" width="8.5" height="8.4" fill="#fbb118"/>
<rect x="284.1" y="110.7" width="8.5" height="8.4" fill="#bb4847"/>
<rect x="292.3" y="110.7" width="8.5" height="8.4" fill="#62146e"/>
<rect x="300.4" y="110.7" width="8.5" height="8.4" fill="#70196d"/>
<rect x="308.6" y="110.7" width="8.5" height="8.4" fill="#801f6c"/>
<rect x="316.8" y="110.7" width="8.5" height="8.4" fill="#801f6c"/>
<rect x="325.0" y="110.7" width="11.5" height="8.4" fill="#801f6c"/>
<rect x="199.2" y="118.8" width="11.5" height="8.4" fill="#a52c60"/>
<rect x="210.4" y="118.8" width="8.5" height="8.4" fill="#a52c60"/>
<rect x="218.6" y="118.8" width="8.5" height="8.4" fill="#a52c60"/>
<rect x="226.8" y="118.8" width="8.5" height="8.4" fill="#902567"/>
<rect x="234.9" y="118.8" width="8.5" height="8.4" fill="#9d2e5d"/>
<rect x="243.1" y="118.8" width="8.5" height="8.4" fill="#f29a22"/>
<rect x="251.3" y="118.8" width="8.5" height="8.4" fill="#f5dd54"/>
<rect x="259.5" y="118.8" width="8.5" height="8.4" fill="#f8f58a"/>
<rect x="267.7" y="118.8" width="8.5" height="8.4" fill="#f7f589"/>
<rect x="275.9" y="118.8" width="8.5" height="8.4" fill="#f5dc52"/>
<rect x="284.1" y="118.8" width="8.5" height="8.4" fill="#f49f22"/>
<rect x="292.3" y="118.8" width="8.5" height="8.4" fill="#a2315a"/>
<rect x="300.4" y="118.8" width="8.5" height="8.4" fill="#912567"/>
<rect x="308.6" y="118.8" width="8.5" height="8.4" fill="#a52c60"/>
<rect x="316.8" y="118.8" width="8.5" height="8.4" fill="#a52c60"/>
<rect x="325.0" y="118.8" width="11.5" height="8.4" fill="#a52c60"/>
<rect x="199.2" y="127.0" width="11.5" height="8.4" fill="#be3852"/>
<rect x="210.4" y="127.0" width="8.5" height="8.4" fill="#be3852"/>
<rect x="218.6" y="127.0" width="8.5" height="8.4" fill="#be3952"/>
<rect x="226.8" y="127.0" width="8.5" height="8.4" fill="#b83755"/>
<rect x="234.9" y="127.0" width="8.5" height="8.4" fill="#ee841f"/>
<rect x="243.1" y="127.0" width="8.5" height="8.4" fill="#fabf25"/>
<rect x="251.3" y="127.0" width="8.5" height="8.4" fill="#f5e059"/>
<rect x="259.5" y="127.0" width="8.5" height="8.4" fill="#f8f891"/>
<rect x="267.7" y="127.0" width="8.5" height="8.4" fill="#f8f88f"/>
<rect x="275.9" y="127.0" width="8.5" height="8.4" fill="#f5e058"/>
<rect x="284.1" y="127.0" width="8.5" height="8.4" fill="#fac127"/>
<rect x="292.3" y="127.0" width="8.5" height="8.4" fill="#f0891d"/>
<rect x="300.4" y="127.0" width="8.5" height="8.4" fill="#ba3854"/>
<rect x="308.6" y="127.0" width="8.5" height="8.4" fill="#be3952"/>
<rect x="316.8" y="127.0" width="8.5" height="8.4" fill="#be3852"/>
<rect x="325.0" y="127.0" width="11.5" height="8.4" fill="#be3852"/>
<rect x="199.2" y="135.1" width="11.5" height="11.4" fill="#c43c4e"/>
<rect x="210.4" y="135.1" width="8.5" height="11.4" fill="#c43c4e"/>
<rect x="218.6" y="135.1" width="8.5" height="11.4" fill="#c53d4d"/>
<rect x="226.8" y="135.1" width="8.5" height="11.4" fill="#e66c28"/>
<rect x="234.9" y="135.1" width="8.5" height="11.4" fill="#fcaf14"/>
<rect x="243.1" y="135.1" width="8.5" height="11.4" fill="#fbb91e"/>
<rect x="251.3" y="135.1" width="8.5" height="11.4" fill="#fac52d"/>
<rect x="259.5" y="135.1" width="8.5" height="11.4" fill="#f7d03c"/>
<rect x="267.7" y="135.1" width="8.5" height="11.4" fill="#f7d03c"/>
<rect x="275.9" y="135.1" width="8.5" height="11.4" fill="#fac52d"/>
<rect x="284.1" y="135.1" width="8.5" height="11.4" fill="#fbba1e"/>
<rect x="292.3" y="135.1" width="8.5" height="11.4" fill="#fcb015"/>
<rect x="300.4" y="135.1" width="8.5" height="11.4" fill="#e56b29"/>
<rect x="308.6" y="135.1" width="8.5" height="11.4" fill="#c53c4e"/>
<rect x="316.8" y="135.1" width="8.5" height="11.4" fill="#c43c4e"/>
<rect x="325.0" y="135.1" width="11.5" height="11.4" fill="#c43c4e"/>
</g></g>
<g clip-path="url(#fcd)"><g filter="url(#fbb)">
<rect x="341.4" y="10.2" width="11.5" height="11.4" fill="#0c0621"/>
<rect x="352.6" y="10.2" width="8.5" height="11.4" fill="#080419"/>
<rect x="360.8" y="10.2" width="8.5" height="11.4" fill="#0f0728"/>
<rect x="369.0" y="10.2" width="8.5" height="11.4" fill="#0e0624"/>
<rect x="377.2" y="10.2" width="8.5" height="11.4" fill="#080418"/>
<rect x="385.4" y="10.2" width="8.5" height="11.4" fill="#0d0522"/>
<rect x="393.6" y="10.2" width="8.5" height="11.4" fill="#150935"/>
<rect x="401.8" y="10.2" width="8.5" height="11.4" fill="#180937"/>
<rect x="409.9" y="10.2" width="8.5" height="11.4" fill="#180937"/>
<rect x="418.1" y="10.2" width="8.5" height="11.4" fill="#150935"/>
<rect x="426.3" y="10.2" width="8.5" height="11.4" fill="#0d0522"/>
<rect x="434.5" y="10.2" width="8.5" height="11.4" fill="#080419"/>
<rect x="442.7" y="10.2" width="8.5" height="11.4" fill="#0e0625"/>
<rect x="450.9" y="10.2" width="8.5" height="11.4" fill="#0e0727"/>
<rect x="459.1" y="10.2" width="8.5" height="11.4" fill="#08041a"/>
<rect x="467.3" y="10.2" width="11.5" height="11.4" fill="#0c0622"/>
<rect x="341.4" y="21.3" width="11.5" height="8.4" fill="#050313"/>
<rect x="352.6" y="21.3" width="8.5" height="8.4" fill="#070418"/>
<rect x="360.8" y="21.3" width="8.5" height="8.4" fill="#300c4f"/>
<rect x="369.0" y="21.3" width="8.5" height="8.4" fill="#170832"/>
<rect x="377.2" y="21.3" width="8.5" height="8.4" fill="#050313"/>
<rect x="385.4" y="21.3" width="8.5" height="8.4" fill="#070418"/>
<rect x="393.6" y="21.3" width="8.5" height="8.4" fill="#08051a"/>
<rect x="401.8" y="21.3" width="8.5" height="8.4" fill="#050415"/>
<rect x="409.9" y="21.3" width="8.5" height="8.4" fill="#050415"/>
<rect x="418.1" y="21.3" width="8.5" height="8.4" fill="#08051a"/>
<rect x="426.3" y="21.3" width="8.5" height="8.4" fill="#070418"/>
<rect x="434.5" y="21.3" width="8.5" height="8.4" fill="#050313"/>
<rect x="442.7" y="21.3" width="8.5" height="8.4" fill="#180833"/>
<rect x="450.9" y="21.3" width="8.5" height="8.4" fill="#2f0c4e"/>
<rect x="459.1" y="21.3" width="8.5" height="8.4" fill="#070418"/>
<rect x="467.3" y="21.3" width="11.5" height="8.4" fill="#050313"/>
<rect x="341.4" y="29.4" width="11.5" height="8.4" fill="#070418"/>
<rect x="352.6" y="29.4" width="8.5" height="8.4" fill="#0e0726"/>
<rect x="360.8" y="29.4" width="8.5" height="8.4" fill="#661b5a"/>
<rect x="369.0" y="29.4" width="8.5" height="8.4" fill="#22093c"/>
<rect x="377.2" y="29.4" width="8.5" height="8.4" fill="#0a051d"/>
<rect x="385.4" y="29.4" width="8.5" height="8.4" fill="#09051c"/>
<rect x="393.6" y="29.4" width="8.5" height="8.4" fill="#0b0620"/>
<rect x="401.8" y="29.4" width="8.5" height="8.4" fill="#0b0620"/>
<rect x="409.9" y="29.4" width="8.5" height="8.4" fill="#0b0620"/>
<rect x="418.1" y="29.4" width="8.5" height="8.4" fill="#0b0620"/>
<rect x="426.3" y="29.4" width="8.5" height="8.4" fill="#09051c"/>
<rect x="434.5" y="29.4" width="8.5" height="8.4" fill="#0a051d"/>
<rect x="442.7" y="29.4" width="8.5" height="8.4" fill="#240a3d"/>
<rect x="450.9" y="29.4" width="8.5" height="8.4" fill="#651a59"/>
<rect x="459.1" y="29.4" width="8.5" height="8.4" fill="#0e0726"/>
<rect x="467.3" y="29.4" width="11.5" height="8.4" fill="#070418"/>
<rect x="341.4" y="37.6" width="11.5" height="8.4" fill="#09051c"/>
<rect x="352.6" y="37.6" width="8.5" height="8.4" fill="#060416"/>
<rect x="360.8" y="37.6" width="8.5" height="8.4" fill="#370d50"/>
<rect x="369.0" y="37.6" width="8.5" height="8.4" fill="#1d0939"/>
<rect x="377.2" y="37.6" width="8.5" height="8.4" fill="#070417"/>
<rect x="385.4" y="37.6" width="8.5" height="8.4" fill="#050314"/>
<rect x="393.6" y="37.6" width="8.5" height="8.4" fill="#09051d"/>
<rect x="401.8" y="37.6" width="8.5" height="8.4" fill="#070416"/>
<rect x="409.9" y="37.6" width="8.5" height="8.4" fill="#070416"/>
<rect x="418.1" y="37.6" width="8.5" height="8.4" fill="#09051d"/>
<rect x="426.3" y="37.6" width="8.5" height="8.4" fill="#050314"/>
<rect x="434.5" y="37.6" width="8.5" height="8.4" fill="#070417"/>
<rect x="442.7" y="37.6" width="8.5" height="8.4" fill="#1e093a"/>
<rect x="450.9" y="37.6" width="8.5" height="8.4" fill="#360d4f"/>
<rect x="459.1" y="37.6" width="8.5" height="8.4" fill="#060416"/>
<rect x="467.3" y="37.6" width="11.5" height="8.4" fill="#09051c"/>
<rect x="341.4" y="45.7" width="11.5" height="8.4" fill="#080419"/>
<rect x="352.6" y="45.7" width="8.5" height="8.4" fill="#070315"/>
<rect x="360.8" y="45.7" width="8.5" height="8.4" fill="#08041a"/>
<rect x="369.0" y="45.7" width="8.5" height="8.4" fill="#080418"/>
<rect x="377.2" y="45.7" width="8.5" height="8.4" fill="#070416"/>
<rect x="385.4" y="45.7" width="8.5" height="8.4" fill="#060313"/>
<rect x="393.6" y="45.7" width="8.5" height="8.4" fill="#060315"/>
<rect x="401.8" y="45.7" width="8.5" height="8.4" fill="#040312"/>
<rect x="409.9" y="45.7" width="8.5" height="8.4" fill="#040312"/>
<rect x="418.1" y="45.7" width="8.5" height="8.4" fill="#060315"/>
<rect x="426.3" y="45.7" width="8.5" height="8.4" fill="#060314"/>
<rect x="434.5" y="45.7" width="8.5" height="8.4" fill="#070416"/>
<rect x="442.7" y="45.7" width="8.5" height="8.4" fill="#080418"/>
<rect x="450.9" y="45.7" width="8.5" height="8.4" fill="#08041a"/>
<rect x="459.1" y="45.7" width="8.5" height="8.4" fill="#070416"/>
<rect x="467.3" y="45.7" width="11.5" height="8.4" fill="#080419"/>
<rect x="341.4" y="53.8" width="11.5" height="8.4" fill="#010108"/>
<rect x="352.6" y="53.8" width="8.5" height="8.4" fill="#010108"/>
<rect x="360.8" y="53.8" width="8.5" height="8.4" fill="#020109"/>
<rect x="369.0" y="53.8" width="8.5" height="8.4" fill="#010109"/>
<rect x="377.2" y="53.8" width="8.5" height="8.4" fill="#010108"/>
<rect x="385.4" y="53.8" width="8.5" height="8.4" fill="#010108"/>
<rect x="393.6" y="53.8" width="8.5" height="8.4" fill="#02010a"/>
<rect x="401.8" y="53.8" width="8.5" height="8.4" fill="#03020f"/>
<rect x="409.9" y="53.8" width="8.5" height="8.4" fill="#02020f"/>
<rect x="418.1" y="53.8" width="8.5" height="8.4" fill="#02010a"/>
<rect x="426.3" y="53.8" width="8.5" height="8.4" fill="#010108"/>
<rect x="434.5" y="53.8" width="8.5" height="8.4" fill="#010108"/>
<rect x="442.7" y="53.8" width="8.5" height="8.4" fill="#010109"/>
<rect x="450.9" y="53.8" width="8.5" height="8.4" fill="#020109"/>
<rect x="459.1" y="53.8" width="8.5" height="8.4" fill="#010108"/>
<rect x="467.3" y="53.8" width="11.5" height="8.4" fill="#010108"/>
<rect x="341.4" y="62.0" width="11.5" height="8.4" fill="#010108"/>
<rect x="352.6" y="62.0" width="8.5" height="8.4" fill="#010108"/>
<rect x="360.8" y="62.0" width="8.5" height="8.4" fill="#02010a"/>
<rect x="369.0" y="62.0" width="8.5" height="8.4" fill="#02010a"/>
<rect x="377.2" y="62.0" width="8.5" height="8.4" fill="#010108"/>
<rect x="385.4" y="62.0" width="8.5" height="8.4" fill="#010109"/>
<rect x="393.6" y="62.0" width="8.5" height="8.4" fill="#02020d"/>
<rect x="401.8" y="62.0" width="8.5" height="8.4" fill="#060417"/>
<rect x="409.9" y="62.0" width="8.5" height="8.4" fill="#060417"/>
<rect x="418.1" y="62.0" width="8.5" height="8.4" fill="#02020d"/>
<rect x="426.3" y="62.0" width="8.5" height="8.4" fill="#010109"/>
<rect x="434.5" y="62.0" width="8.5" height="8.4" fill="#010108"/>
<rect x="442.7" y="62.0" width="8.5" height="8.4" fill="#02010a"/>
<rect x="450.9" y="62.0" width="8.5" height="8.4" fill="#02010a"/>
<rect x="459.1" y="62.0" width="8.5" height="8.4" fill="#010108"/>
<rect x="467.3" y="62.0" width="11.5" height="8.4" fill="#010108"/>
<rect x="341.4" y="70.1" width="11.5" height="8.4" fill="#010108"/>
<rect x="352.6" y="70.1" width="8.5" height="8.4" fill="#020109"/>
<rect x="360.8" y="70.1" width="8.5" height="8.4" fill="#02020d"/>
<rect x="369.0" y="70.1" width="8.5" height="8.4" fill="#02010b"/>
<rect x="377.2" y="70.1" width="8.5" height="8.4" fill="#010108"/>
<rect x="385.4" y="70.1" width="8.5" height="8.4" fill="#02010a"/>
<rect x="393.6" y="70.1" width="8.5" height="8.4" fill="#040314"/>
<rect x="401.8" y="70.1" width="8.5" height="8.4" fill="#10092d"/>
<rect x="409.9" y="70.1" width="8.5" height="8.4" fill="#10092d"/>
<rect x="418.1" y="70.1" width="8.5" height="8.4" fill="#040314"/>
<rect x="426.3" y="70.1" width="8.5" height="8.4" fill="#02010a"/>
<rect x="434.5" y="70.1" width="8.5" height="8.4" fill="#010108"/>
<rect x="442.7" y="70.1" width="8.5" height="8.4" fill="#02020b"/>
<rect x="450.9" y="70.1" width="8.5" height="8.4" fill="#02020d"/>
<rect x="459.1" y="70.1" width="8.5" height="8.4" fill="#020109"/>
<rect x="467.3" y="70.1" width="11.5" height="8.4" fill="#010108"/>
<rect x="341.4" y="78.2" width="11.5" height="8.4" fill="#010108"/>
<rect x="352.6" y="78.2" width="8.5" height="8.4" fill="#02010a"/>
<rect x="360.8" y="78.2" width="8.5" height="8.4" fill="#040312"/>
<rect x="369.0" y="78.2" width="8.5" height="8.4" fill="#03020e"/>
<rect x="377.2" y="78.2" width="8.5" height="8.4" fill="#020109"/>
<rect x="385.4" y="78.2" width="8.5" height="8.4" fill="#02020c"/>
<rect x="393.6" y="78.2" width="8.5" height="8.4" fill="#0c0725"/>
<rect x="401.8" y="78.2" width="8.5" height="8.4" fill="#340c59"/>
<rect x="409.9" y="78.2" width="8.5" height="8.4" fill="#330c58"/>
<rect x="418.1" y="78.2" width="8.5" height="8.4" fill="#0c0725"/>
<rect x="426.3" y="78.2" width="8.5" height="8.4" fill="#02020c"/>
<rect x="434.5" y="78.2" width="8.5" height="8.4" fill="#020109"/>
<rect x="442.7" y="78.2" width="8.5" height="8.4" fill="#03020f"/>
<rect x="450.9" y="78.2" width="8.5" height="8.4" fill="#040312"/>
<rect x="459.1" y="78.2" width="8.5" height="8.4" fill="#02010a"/>
<rect x="467.3" y="78.2" width="11.5" height="8.4" fill="#010108"/>
<rect x="341.4" y="86.3" width="11.5" height="8.4" fill="#02010b"/>
<rect x="352.6" y="86.3" width="8.5" height="8.4" fill="#02020d"/>
<rect x="360.8" y="86.3" width="8.5" height="8.4" fill="#08051c"/>
<rect x="369.0" y="86.3" width="8.5" height="8.4" fill="#050416"/>
<rect x="377.2" y="86.3" width="8.5" height="8.4" fill="#02010b"/>
<rect x="385.4" y="86.3" width="8.5" height="8.4" fill="#040312"/>
<rect x="393.6" y="86.3" width="8.5" height="8.4" fill="#280b48"/>
<rect x="401.8" y="86.3" width="8.5" height="8.4" fill="#9d3257"/>
<rect x="409.9" y="86.3" width="8.5" height="8.4" fill="#9b3157"/>
<rect x="418.1" y="86.3" width="8.5" height="8.4" fill="#260b47"/>
<rect x="426.3" y="86.3" width="8.5" height="8.4" fill="#040312"/>
<rect x="434.5" y="86.3" width="8.5" height="8.4" fill="#02010b"/>
<rect x="442.7" y="86.3" width="8.5" height="8.4" fill="#050416"/>
<rect x="450.9" y="86.3" width="8.5" height="8.4" fill="#08051c"/>
<rect x="459.1" y="86.3" width="8.5" height="8.4" fill="#02020d"/>
<rect x="467.3" y="86.3" width="11.5" height="8.4" fill="#02010b"/>
<rect x="341.4" y="94.5" width="11.5" height="8.4" fill="#0d0726"/>
<rect x="352.6" y="94.5" width="8.5" height="8.4" fill="#0c0725"/>
<rect x="360.8" y="94.5" width="8.5" height="8.4" fill="#160a38"/>
<rect x="369.0" y="94.5" width="8.5" height="8.4" fill="#0d0727"/>
<rect x="377.2" y="94.5" width="8.5" height="8.4" fill="#02020e"/>
<rect x="385.4" y="94.5" width="8.5" height="8.4" fill="#0b0621"/>
<rect x="393.6" y="94.5" width="8.5" height="8.4" fill="#7e2856"/>
<rect x="401.8" y="94.5" width="8.5" height="8.4" fill="#f5ae2a"/>
<rect x="409.9" y="94.5" width="8.5" height="8.4" fill="#f5ad2a"/>
<rect x="418.1" y="94.5" width="8.5" height="8.4" fill="#7b2756"/>
<rect x="426.3" y="94.5" width="8.5" height="8.4" fill="#0b0621"/>
<rect x="434.5" y="94.5" width="8.5" height="8.4" fill="#02020e"/>
<rect x="442.7" y="94.5" width="8.5" height="8.4" fill="#0d0727"/>
<rect x="450.9" y="94.5" width="8.5" height="8.4" fill="#160a37"/>
<rect x="459.1" y="94.5" width="8.5" height="8.4" fill="#0c0725"/>
<rect x="467.3" y="94.5" width="11.5" height="8.4" fill="#0d0726"/>
<rect x="341.4" y="102.6" width="11.5" height="8.4" fill="#2e0b58"/>
<rect x="352.6" y="102.6" width="8.5" height="8.4" fill="#2b0b54"/>
<rect x="360.8" y="102.6" width="8.5" height="8.4" fill="#470f61"/>
<rect x="369.0" y="102.6" width="8.5" height="8.4" fill="#270b47"/>
<rect x="377.2" y="102.6" width="8.5" height="8.4" fill="#040314"/>
<rect x="385.4" y="102.6" width="8.5" height="8.4" fill="#250b3f"/>
<rect x="393.6" y="102.6" width="8.5" height="8.4" fill="#db722e"/>
<rect x="401.8" y="102.6" width="8.5" height="8.4" fill="#f8ce3b"/>
<rect x="409.9" y="102.6" width="8.5" height="8.4" fill="#f8ce3a"/>
<rect x="418.1" y="102.6" width="8.5" height="8.4" fill="#d9702f"/>
<rect x="426.3" y="102.6" width="8.5" height="8.4" fill="#240a3e"/>
<rect x="434.5" y="102.6" width="8.5" height="8.4" fill="#050315"/>
<rect x="442.7" y="102.6" width="8.5" height="8.4" fill="#290b48"/>
<rect x="450.9" y="102.6" width="8.5" height="8.4" fill="#470f61"/>
<rect x="459.1" y="102.6" width="8.5" height="8.4" fill="#2b0b54"/>
<rect x="467.3" y="102.6" width="11.5" height="8.4" fill="#2e0b58"/>
<rect x="341.4" y="110.7" width="11.5" height="8.4" fill="#530f6c"/>
<rect x="352.6" y="110.7" width="8.5" height="8.4" fill="#500e6c"/>
<rect x="360.8" y="110.7" width="8.5" height="8.4" fill="#912662"/>
<rect x="369.0" y="110.7" width="8.5" height="8.4" fill="#60185f"/>
<rect x="377.2" y="110.7" width="8.5" height="8.4" fill="#0b0724"/>
<rect x="385.4" y="110.7" width="8.5" height="8.4" fill="#611e4d"/>
<rect x="393.6" y="110.7" width="8.5" height="8.4" fill="#fa9f11"/>
<rect x="401.8" y="110.7" width="8.5" height="8.4" fill="#fcb318"/>
<rect x="409.9" y="110.7" width="8.5" height="8.4" fill="#fcb318"/>
<rect x="418.1" y="110.7" width="8.5" height="8.4" fill="#f99e12"/>
<rect x="426.3" y="110.7" width="8.5" height="8.4" fill="#5e1d4d"/>
<rect x="434.5" y="110.7" width="8.5" height="8.4" fill="#0b0724"/>
<rect x="442.7" y="110.7" width="8.5" height="8.4" fill="#62185f"/>
<rect x="450.9" y="110.7" width="8.5" height="8.4" fill="#8f2563"/>
<rect x="459.1" y="110.7" width="8.5" height="8.4" fill="#500e6c"/>
<rect x="467.3" y="110.7" width="11.5" height="8.4" fill="#530f6c"/>
<rect x="341.4" y="118.8" width="11.5" height="8.4" fill="#6a176e"/>
<rect x="352.6" y="118.8" width="8.5" height="8.4" fill="#741a6c"/>
<rect x="360.8" y="118.8" width="8.5" height="8.4" fill="#cb4546"/>
<rect x="369.0" y="118.8" width="8.5" height="8.4" fill="#b63c4d"/>
<rect x="377.2" y="118.8" width="8.5" height="8.4" fill="#270c4a"/>
<rect x="385.4" y="118.8" width="8.5" height="8.4" fill="#a94b40"/>
<rect x="393.6" y="118.8" width="8.5" height="8.4" fill="#f9c42c"/>
<rect x="401.8" y="118.8" width="8.5" height="8.4" fill="#f5e25d"/>
<rect x="409.9" y="118.8" width="8.5" height="8.4" fill="#f5e15c"/>
<rect x="418.1" y="118.8" width="8.5" height="8.4" fill="#f9c32b"/>
<rect x="426.3" y="118.8" width="8.5" height="8.4" fill="#a74a41"/>
<rect x="434.5" y="118.8" width="8.5" height="8.4" fill="#280c4a"/>
<rect x="442.7" y="118.8" width="8.5" height="8.4" fill="#b73d4d"/>
<rect x="450.9" y="118.8" width="8.5" height="8.4" fill="#ca4546"/>
<rect x="459.1" y="118.8" width="8.5" height="8.4" fill="#731a6c"/>
<rect x="467.3" y="118.8" width="11.5" height="8.4" fill="#6a176e"/>
<rect x="341.4" y="127.0" width="11.5" height="8.4" fill="#71196e"/>
<rect x="352.6" y="127.0" width="8.5" height="8.4" fill="#9d2c5f"/>
<rect x="360.8" y="127.0" width="8.5" height="8.4" fill="#ea6b25"/>
<rect x="369.0" y="127.0" width="8.5" height="8.4" fill="#f48214"/>
<rect x="377.2" y="127.0" width="8.5" height="8.4" fill="#781f61"/>
<rect x="385.4" y="127.0" width="8.5" height="8.4" fill="#dd772a"/>
<rect x="393.6" y="127.0" width="8.5" height="8.4" fill="#fac128"/>
<rect x="401.8" y="127.0" width="8.5" height="8.4" fill="#f5db52"/>
<rect x="409.9" y="127.0" width="8.5" height="8.4" fill="#f5db52"/>
<rect x="418.1" y="127.0" width="8.5" height="8.4" fill="#fac128"/>
<rect x="426.3" y="127.0" width="8.5" height="8.4" fill="#dc762b"/>
<rect x="434.5" y="127.0" width="8.5" height="8.4" fill="#792061"/>
<rect x="442.7" y="127.0" width="8.5" height="8.4" fill="#f48314"/>
<rect x="450.9" y="127.0" width="8.5" height="8.4" fill="#ea6a25"/>
<rect x="459.1" y="127.0" width="8.5" height="8.4" fill="#9c2b5f"/>
<rect x="467.3" y="127.0" width="11.5" height="8.4" fill="#71196e"/>
<rect x="341.4" y="135.1" width="11.5" height="11.4" fill="#751b6d"/>
<rect x="352.6" y="135.1" width="8.5" height="11.4" fill="#c33f4c"/>
<rect x="360.8" y="135.1" width="8.5" height="11.4" fill="#ef761d"/>
<rect x="369.0" y="135.1" width="8.5" height="11.4" fill="#fca008"/>
<rect x="377.2" y="135.1" width="8.5" height="11.4" fill="#d35838"/>
<rect x="385.4" y="135.1" width="8.5" height="11.4" fill="#f79312"/>
<rect x="393.6" y="135.1" width="8.5" height="11.4" fill="#fca90e"/>
<rect x="401.8" y="135.1" width="8.5" height="11.4" fill="#fcad12"/>
<rect x="409.9" y="135.1" width="8.5" height="11.4" fill="#fcad12"/>
<rect x="418.1" y="135.1" width="8.5" height="11.4" fill="#fca90e"/>
<rect x="426.3" y="135.1" width="8.5" height="11.4" fill="#f69213"/>
<rect x="434.5" y="135.1" width="8.5" height="11.4" fill="#d45937"/>
<rect x="442.7" y="135.1" width="8.5" height="11.4" fill="#fca008"/>
<rect x="450.9" y="135.1" width="8.5" height="11.4" fill="#ef751e"/>
<rect x="459.1" y="135.1" width="8.5" height="11.4" fill="#c23e4d"/>
<rect x="467.3" y="135.1" width="11.5" height="11.4" fill="#751b6d"/>
</g></g>
<g clip-path="url(#fcb)"><g filter="url(#fbb)">
<rect x="32.1" y="176.0" width="11.5" height="11.5" fill="#08051c"/>
<rect x="43.3" y="176.0" width="8.5" height="11.5" fill="#0a061f"/>
<rect x="51.5" y="176.0" width="8.5" height="11.5" fill="#1a0933"/>
<rect x="59.6" y="176.0" width="8.5" height="11.5" fill="#0f0625"/>
<rect x="67.8" y="176.0" width="8.5" height="11.5" fill="#040311"/>
<rect x="76.0" y="176.0" width="8.5" height="11.5" fill="#0a051e"/>
<rect x="84.2" y="176.0" width="8.5" height="11.5" fill="#050313"/>
<rect x="92.4" y="176.0" width="8.5" height="11.5" fill="#060315"/>
<rect x="100.6" y="176.0" width="8.5" height="11.5" fill="#050314"/>
<rect x="108.7" y="176.0" width="8.5" height="11.5" fill="#050313"/>
<rect x="116.9" y="176.0" width="8.5" height="11.5" fill="#0a061f"/>
<rect x="125.1" y="176.0" width="8.5" height="11.5" fill="#040311"/>
<rect x="133.3" y="176.0" width="8.5" height="11.5" fill="#0f0624"/>
<rect x="141.5" y="176.0" width="8.5" height="11.5" fill="#1a0933"/>
<rect x="149.6" y="176.0" width="8.5" height="11.5" fill="#09061e"/>
<rect x="157.8" y="176.0" width="11.5" height="11.5" fill="#09051c"/>
<rect x="32.1" y="187.2" width="11.5" height="8.5" fill="#09051b"/>
<rect x="43.3" y="187.2" width="8.5" height="8.5" fill="#050313"/>
<rect x="51.5" y="187.2" width="8.5" height="8.5" fill="#4e1d38"/>
<rect x="59.6" y="187.2" width="8.5" height="8.5" fill="#2d0e34"/>
<rect x="67.8" y="187.2" width="8.5" height="8.5" fill="#060416"/>
<rect x="76.0" y="187.2" width="8.5" height="8.5" fill="#050313"/>
<rect x="84.2" y="187.2" width="8.5" height="8.5" fill="#09051e"/>
<rect x="92.4" y="187.2" width="8.5" height="8.5" fill="#080419"/>
<rect x="100.6" y="187.2" width="8.5" height="8.5" fill="#08041a"/>
<rect x="108.7" y="187.2" width="8.5" height="8.5" fill="#09061e"/>
<rect x="116.9" y="187.2" width="8.5" height="8.5" fill="#050313"/>
<rect x="125.1" y="187.2" width="8.5" height="8.5" fill="#060416"/>
<rect x="133.3" y="187.2" width="8.5" height="8.5" fill="#2b0d33"/>
<rect x="141.5" y="187.2" width="8.5" height="8.5" fill="#501d39"/>
<rect x="149.6" y="187.2" width="8.5" height="8.5" fill="#050313"/>
<rect x="157.8" y="187.2" width="11.5" height="8.5" fill="#09051c"/>
<rect x="32.1" y="195.3" width="11.5" height="8.4" fill="#060415"/>
<rect x="43.3" y="195.3" width="8.5" height="8.4" fill="#050313"/>
<rect x="51.5" y="195.3" width="8.5" height="8.4" fill="#461447"/>
<rect x="59.6" y="195.3" width="8.5" height="8.4" fill="#200932"/>
<rect x="67.8" y="195.3" width="8.5" height="8.4" fill="#040310"/>
<rect x="76.0" y="195.3" width="8.5" height="8.4" fill="#070418"/>
<rect x="84.2" y="195.3" width="8.5" height="8.4" fill="#060416"/>
<rect x="92.4" y="195.3" width="8.5" height="8.4" fill="#040312"/>
<rect x="100.6" y="195.3" width="8.5" height="8.4" fill="#040312"/>
<rect x="108.7" y="195.3" width="8.5" height="8.4" fill="#060417"/>
<rect x="116.9" y="195.3" width="8.5" height="8.4" fill="#070418"/>
<rect x="125.1" y="195.3" width="8.5" height="8.4" fill="#040310"/>
<rect x="133.3" y="195.3" width="8.5" height="8.4" fill="#1f0931"/>
<rect x="141.5" y="195.3" width="8.5" height="8.4" fill="#481548"/>
<rect x="149.6" y="195.3" width="8.5" height="8.4" fill="#050313"/>
<rect x="157.8" y="195.3" width="11.5" height="8.4" fill="#060415"/>
<rect x="32.1" y="203.4" width="11.5" height="8.5" fill="#08041a"/>
<rect x="43.3" y="203.4" width="8.5" height="8.5" fill="#080419"/>
<rect x="51.5" y="203.4" width="8.5" height="8.5" fill="#15072f"/>
<rect x="59.6" y="203.4" width="8.5" height="8.5" fill="#0c0623"/>
<rect x="67.8" y="203.4" width="8.5" height="8.5" fill="#08051a"/>
<rect x="76.0" y="203.4" width="8.5" height="8.5" fill="#070417"/>
<rect x="84.2" y="203.4" width="8.5" height="8.5" fill="#09041a"/>
<rect x="92.4" y="203.4" width="8.5" height="8.5" fill="#0d0520"/>
<rect x="100.6" y="203.4" width="8.5" height="8.5" fill="#0e0521"/>
<rect x="108.7" y="203.4" width="8.5" height="8.5" fill="#09041b"/>
<rect x="116.9" y="203.4" width="8.5" height="8.5" fill="#070417"/>
<rect x="125.1" y="203.4" width="8.5" height="8.5" fill="#08051a"/>
<rect x="133.3" y="203.4" width="8.5" height="8.5" fill="#0c0622"/>
<rect x="141.5" y="203.4" width="8.5" height="8.5" fill="#15072f"/>
<rect x="149.6" y="203.4" width="8.5" height="8.5" fill="#08041a"/>
<rect x="157.8" y="203.4" width="11.5" height="8.5" fill="#080419"/>
<rect x="32.1" y="211.6" width="11.5" height="8.5" fill="#0e0624"/>
<rect x="43.3" y="211.6" width="8.5" height="8.5" fill="#130529"/>
<rect x="51.5" y="211.6" width="8.5" height="8.5" fill="#080418"/>
<rect x="59.6" y="211.6" width="8.5" height="8.5" fill="#070417"/>
<rect x="67.8" y="211.6" width="8.5" height="8.5" fill="#1a0837"/>
<rect x="76.0" y="211.6" width="8.5" height="8.5" fill="#0e0522"/>
<rect x="84.2" y="211.6" width="8.5" height="8.5" fill="#15072d"/>
<rect x="92.4" y="211.6" width="8.5" height="8.5" fill="#1a0830"/>
<rect x="100.6" y="211.6" width="8.5" height="8.5" fill="#1a0830"/>
<rect x="108.7" y="211.6" width="8.5" height="8.5" fill="#15072d"/>
<rect x="116.9" y="211.6" width="8.5" height="8.5" fill="#0e0522"/>
<rect x="125.1" y="211.6" width="8.5" height="8.5" fill="#1a0837"/>
<rect x="133.3" y="211.6" width="8.5" height="8.5" fill="#070417"/>
<rect x="141.5" y="211.6" width="8.5" height="8.5" fill="#080418"/>
<rect x="149.6" y="211.6" width="8.5" height="8.5" fill="#13052a"/>
<rect x="157.8" y="211.6" width="11.5" height="8.5" fill="#0d0521"/>
<rect x="32.1" y="219.8" width="11.5" height="8.4" fill="#02010a"/>
<rect x="43.3" y="219.8" width="8.5" height="8.4" fill="#02010a"/>
<rect x="51.5" y="219.8" width="8.5" height="8.4" fill="#02020c"/>
<rect x="59.6" y="219.8" width="8.5" height="8.4" fill="#02020c"/>
<rect x="67.8" y="219.8" width="8.5" height="8.4" fill="#02010a"/>
<rect x="76.0" y="219.8" width="8.5" height="8.4" fill="#02010a"/>
<rect x="84.2" y="219.8" width="8.5" height="8.4" fill="#02020b"/>
<rect x="92.4" y="219.8" width="8.5" height="8.4" fill="#02020c"/>
<rect x="100.6" y="219.8" width="8.5" height="8.4" fill="#02020c"/>
<rect x="108.7" y="219.8" width="8.5" height="8.4" fill="#02020b"/>
<rect x="116.9" y="219.8" width="8.5" height="8.4" fill="#02010a"/>
<rect x="125.1" y="219.8" width="8.5" height="8.4" fill="#02010a"/>
<rect x="133.3" y="219.8" width="8.5" height="8.4" fill="#02020b"/>
<rect x="141.5" y="219.8" width="8.5" height="8.4" fill="#02020c"/>
<rect x="149.6" y="219.8" width="8.5" height="8.4" fill="#02010a"/>
<rect x="157.8" y="219.8" width="11.5" height="8.4" fill="#02010a"/>
<rect x="32.1" y="227.9" width="11.5" height="8.5" fill="#02010a"/>
<rect x="43.3" y="227.9" width="8.5" height="8.5" fill="#02020c"/>
<rect x="51.5" y="227.9" width="8.5" height="8.5" fill="#02020e"/>
<rect x="59.6" y="227.9" width="8.5" height="8.5" fill="#02020e"/>
<rect x="67.8" y="227.9" width="8.5" height="8.5" fill="#02010b"/>
<rect x="76.0" y="227.9" width="8.5" height="8.5" fill="#02010a"/>
<rect x="84.2" y="227.9" width="8.5" height="8.5" fill="#02020d"/>
<rect x="92.4" y="227.9" width="8.5" height="8.5" fill="#030210"/>
<rect x="100.6" y="227.9" width="8.5" height="8.5" fill="#030210"/>
<rect x="108.7" y="227.9" width="8.5" height="8.5" fill="#02020d"/>
<rect x="116.9" y="227.9" width="8.5" height="8.5" fill="#02010a"/>
<rect x="125.1" y="227.9" width="8.5" height="8.5" fill="#02010b"/>
<rect x="133.3" y="227.9" width="8.5" height="8.5" fill="#02020d"/>
<rect x="141.5" y="227.9" width="8.5" height="8.5" fill="#02020e"/>
<rect x="149.6" y="227.9" width="8.5" height="8.5" fill="#02020c"/>
<rect x="157.8" y="227.9" width="11.5" height="8.5" fill="#02010a"/>
<rect x="32.1" y="236.0" width="11.5" height="8.5" fill="#02020c"/>
<rect x="43.3" y="236.0" width="8.5" height="8.5" fill="#02020d"/>
<rect x="51.5" y="236.0" width="8.5" height="8.5" fill="#040313"/>
<rect x="59.6" y="236.0" width="8.5" height="8.5" fill="#040312"/>
<rect x="67.8" y="236.0" width="8.5" height="8.5" fill="#02020d"/>
<rect x="76.0" y="236.0" width="8.5" height="8.5" fill="#02020c"/>
<rect x="84.2" y="236.0" width="8.5" height="8.5" fill="#030210"/>
<rect x="92.4" y="236.0" width="8.5" height="8.5" fill="#050417"/>
<rect x="100.6" y="236.0" width="8.5" height="8.5" fill="#050417"/>
<rect x="108.7" y="236.0" width="8.5" height="8.5" fill="#030211"/>
<rect x="116.9" y="236.0" width="8.5" height="8.5" fill="#02020c"/>
<rect x="125.1" y="236.0" width="8.5" height="8.5" fill="#02020d"/>
<rect x="133.3" y="236.0" width="8.5" height="8.5" fill="#040312"/>
<rect x="141.5" y="236.0" width="8.5" height="8.5" fill="#040313"/>
<rect x="149.6" y="236.0" width="8.5" height="8.5" fill="#02020d"/>
<rect x="157.8" y="236.0" width="11.5" height="8.5" fill="#02020b"/>
<rect x="32.1" y="244.2" width="11.5" height="8.5" fill="#060418"/>
<rect x="43.3" y="244.2" width="8.5" height="8.5" fill="#08051d"/>
<rect x="51.5" y="244.2" width="8.5" height="8.5" fill="#0b0724"/>
<rect x="59.6" y="244.2" width="8.5" height="8.5" fill="#0b0723"/>
<rect x="67.8" y="244.2" width="8.5" height="8.5" fill="#0a0621"/>
<rect x="76.0" y="244.2" width="8.5" height="8.5" fill="#0a0620"/>
<rect x="84.2" y="244.2" width="8.5" height="8.5" fill="#0a0622"/>
<rect x="92.4" y="244.2" width="8.5" height="8.5" fill="#0d0828"/>
<rect x="100.6" y="244.2" width="8.5" height="8.5" fill="#0d0827"/>
<rect x="108.7" y="244.2" width="8.5" height="8.5" fill="#0a0622"/>
<rect x="116.9" y="244.2" width="8.5" height="8.5" fill="#0a0620"/>
<rect x="125.1" y="244.2" width="8.5" height="8.5" fill="#0a0621"/>
<rect x="133.3" y="244.2" width="8.5" height="8.5" fill="#0b0723"/>
<rect x="141.5" y="244.2" width="8.5" height="8.5" fill="#0b0724"/>
<rect x="149.6" y="244.2" width="8.5" height="8.5" fill="#08051d"/>
<rect x="157.8" y="244.2" width="11.5" height="8.5" fill="#060418"/>
<rect x="32.1" y="252.3" width="11.5" height="8.5" fill="#170b3b"/>
<rect x="43.3" y="252.3" width="8.5" height="8.5" fill="#210b48"/>
<rect x="51.5" y="252.3" width="8.5" height="8.5" fill="#290b52"/>
<rect x="59.6" y="252.3" width="8.5" height="8.5" fill="#290b52"/>
<rect x="67.8" y="252.3" width="8.5" height="8.5" fill="#290b52"/>
<rect x="76.0" y="252.3" width="8.5" height="8.5" fill="#290b52"/>
<rect x="84.2" y="252.3" width="8.5" height="8.5" fill="#290b52"/>
<rect x="92.4" y="252.3" width="8.5" height="8.5" fill="#290b52"/>
<rect x="100.6" y="252.3" width="8.5" height="8.5" fill="#290b52"/>
<rect x="108.7" y="252.3" width="8.5" height="8.5" fill="#290b52"/>
<rect x="116.9" y="252.3" width="8.5" height="8.5" fill="#290b52"/>
<rect x="125.1" y="252.3" width="8.5" height="8.5" fill="#290b52"/>
<rect x="133.3" y="252.3" width="8.5" height="8.5" fill="#290b52"/>
<rect x="141.5" y="252.3" width="8.5" height="8.5" fill="#290b52"/>
<rect x="149.6" y="252.3" width="8.5" height="8.5" fill="#210b48"/>
<rect x="157.8" y="252.3" width="11.5" height="8.5" fill="#170b3a"/>
<rect x="32.1" y="260.5" width="11.5" height="8.4" fill="#320a5c"/>
<rect x="43.3" y="260.5" width="8.5" height="8.4" fill="#440b67"/>
<rect x="51.5" y="260.5" width="8.5" height="8.4" fill="#5d126b"/>
<rect x="59.6" y="260.5" width="8.5" height="8.4" fill="#58116c"/>
<rect x="67.8" y="260.5" width="8.5" height="8.4" fill="#510e6c"/>
<rect x="76.0" y="260.5" width="8.5" height="8.4" fill="#510e6c"/>
<rect x="84.2" y="260.5" width="8.5" height="8.4" fill="#520f6c"/>
<rect x="92.4" y="260.5" width="8.5" height="8.4" fill="#6a176a"/>
<rect x="100.6" y="260.5" width="8.5" height="8.4" fill="#69176a"/>
<rect x="108.7" y="260.5" width="8.5" height="8.4" fill="#520f6c"/>
<rect x="116.9" y="260.5" width="8.5" height="8.4" fill="#510e6c"/>
<rect x="125.1" y="260.5" width="8.5" height="8.4" fill="#510e6c"/>
<rect x="133.3" y="260.5" width="8.5" height="8.4" fill="#58116c"/>
<rect x="141.5" y="260.5" width="8.5" height="8.4" fill="#5d126b"/>
<rect x="149.6" y="260.5" width="8.5" height="8.4" fill="#440b67"/>
<rect x="157.8" y="260.5" width="11.5" height="8.4" fill="#310a5c"/>
<rect x="32.1" y="268.6" width="11.5" height="8.4" fill="#400a66"/>
<rect x="43.3" y="268.6" width="8.5" height="8.4" fill="#540f6d"/>
<rect x="51.5" y="268.6" width="8.5" height="8.4" fill="#a53753"/>
<rect x="59.6" y="268.6" width="8.5" height="8.4" fill="#a33556"/>
<rect x="67.8" y="268.6" width="8.5" height="8.4" fill="#64156e"/>
<rect x="76.0" y="268.6" width="8.5" height="8.4" fill="#65156e"/>
<rect x="84.2" y="268.6" width="8.5" height="8.4" fill="#922b5f"/>
<rect x="92.4" y="268.6" width="8.5" height="8.4" fill="#e88d34"/>
<rect x="100.6" y="268.6" width="8.5" height="8.4" fill="#e78b34"/>
<rect x="108.7" y="268.6" width="8.5" height="8.4" fill="#932c5e"/>
<rect x="116.9" y="268.6" width="8.5" height="8.4" fill="#65156e"/>
<rect x="125.1" y="268.6" width="8.5" height="8.4" fill="#64156e"/>
<rect x="133.3" y="268.6" width="8.5" height="8.4" fill="#a13457"/>
<rect x="141.5" y="268.6" width="8.5" height="8.4" fill="#a63852"/>
<rect x="149.6" y="268.6" width="8.5" height="8.4" fill="#540f6d"/>
<rect x="157.8" y="268.6" width="11.5" height="8.4" fill="#3f0a66"/>
<rect x="32.1" y="276.8" width="11.5" height="8.5" fill="#410a67"/>
<rect x="43.3" y="276.8" width="8.5" height="8.5" fill="#5d126d"/>
<rect x="51.5" y="276.8" width="8.5" height="8.5" fill="#c54f40"/>
<rect x="59.6" y="276.8" width="8.5" height="8.5" fill="#ea7d1f"/>
<rect x="67.8" y="276.8" width="8.5" height="8.5" fill="#791d6a"/>
<rect x="76.0" y="276.8" width="8.5" height="8.5" fill="#761c6b"/>
<rect x="84.2" y="276.8" width="8.5" height="8.5" fill="#e88f32"/>
<rect x="92.4" y="276.8" width="8.5" height="8.5" fill="#f3ef77"/>
<rect x="100.6" y="276.8" width="8.5" height="8.5" fill="#f3ee76"/>
<rect x="108.7" y="276.8" width="8.5" height="8.5" fill="#e89132"/>
<rect x="116.9" y="276.8" width="8.5" height="8.5" fill="#771c6b"/>
<rect x="125.1" y="276.8" width="8.5" height="8.5" fill="#781c6a"/>
<rect x="133.3" y="276.8" width="8.5" height="8.5" fill="#e97c20"/>
<rect x="141.5" y="276.8" width="8.5" height="8.5" fill="#c6503f"/>
<rect x="149.6" y="276.8" width="8.5" height="8.5" fill="#5e126d"/>
<rect x="157.8" y="276.8" width="11.5" height="8.5" fill="#400a66"/>
<rect x="32.1" y="284.9" width="11.5" height="8.4" fill="#4b0d6a"/>
<rect x="43.3" y="284.9" width="8.5" height="8.4" fill="#7d1e6b"/>
<rect x="51.5" y="284.9" width="8.5" height="8.4" fill="#c44647"/>
<rect x="59.6" y="284.9" width="8.5" height="8.4" fill="#fa9e0d"/>
<rect x="67.8" y="284.9" width="8.5" height="8.4" fill="#c04d43"/>
<rect x="76.0" y="284.9" width="8.5" height="8.4" fill="#af3f4e"/>
<rect x="84.2" y="284.9" width="8.5" height="8.4" fill="#fbae16"/>
<rect x="92.4" y="284.9" width="8.5" height="8.4" fill="#fabd24"/>
<rect x="100.6" y="284.9" width="8.5" height="8.4" fill="#fabd23"/>
<rect x="108.7" y="284.9" width="8.5" height="8.4" fill="#fbaf16"/>
<rect x="116.9" y="284.9" width="8.5" height="8.4" fill="#b1404d"/>
<rect x="125.1" y="284.9" width="8.5" height="8.4" fill="#be4b44"/>
<rect x="133.3" y="284.9" width="8.5" height="8.4" fill="#fa9e0d"/>
<rect x="141.5" y="284.9" width="8.5" height="8.4" fill="#c54647"/>
<rect x="149.6" y="284.9" width="8.5" height="8.4" fill="#7e1e6b"/>
<rect x="157.8" y="284.9" width="11.5" height="8.4" fill="#490c69"/>
<rect x="32.1" y="293.1" width="11.5" height="8.5" fill="#6e186d"/>
<rect x="43.3" y="293.1" width="8.5" height="8.5" fill="#972765"/>
<rect x="51.5" y="293.1" width="8.5" height="8.5" fill="#9a2864"/>
<rect x="59.6" y="293.1" width="8.5" height="8.5" fill="#da672f"/>
<rect x="67.8" y="293.1" width="8.5" height="8.5" fill="#f79612"/>
<rect x="76.0" y="293.1" width="8.5" height="8.5" fill="#f28a18"/>
<rect x="84.2" y="293.1" width="8.5" height="8.5" fill="#fca80f"/>
<rect x="92.4" y="293.1" width="8.5" height="8.5" fill="#f69015"/>
<rect x="100.6" y="293.1" width="8.5" height="8.5" fill="#f69015"/>
<rect x="108.7" y="293.1" width="8.5" height="8.5" fill="#fca80f"/>
<rect x="116.9" y="293.1" width="8.5" height="8.5" fill="#f28b17"/>
<rect x="125.1" y="293.1" width="8.5" height="8.5" fill="#f79513"/>
<rect x="133.3" y="293.1" width="8.5" height="8.5" fill="#db692e"/>
<rect x="141.5" y="293.1" width="8.5" height="8.5" fill="#992864"/>
<rect x="149.6" y="293.1" width="8.5" height="8.5" fill="#982765"/>
<rect x="157.8" y="293.1" width="11.5" height="8.5" fill="#6b176d"/>
<rect x="32.1" y="301.2" width="11.5" height="11.4" fill="#84206b"/>
<rect x="43.3" y="301.2" width="8.5" height="11.4" fill="#a12b62"/>
<rect x="51.5" y="301.2" width="8.5" height="11.4" fill="#952765"/>
<rect x="59.6" y="301.2" width="8.5" height="11.4" fill="#952b5f"/>
<rect x="67.8" y="301.2" width="8.5" height="11.4" fill="#f89911"/>
<rect x="76.0" y="301.2" width="8.5" height="11.4" fill="#fca90f"/>
<rect x="84.2" y="301.2" width="8.5" height="11.4" fill="#de672d"/>
<rect x="92.4" y="301.2" width="8.5" height="11.4" fill="#a52e5e"/>
<rect x="100.6" y="301.2" width="8.5" height="11.4" fill="#a62e5e"/>
<rect x="108.7" y="301.2" width="8.5" height="11.4" fill="#de662e"/>
<rect x="116.9" y="301.2" width="8.5" height="11.4" fill="#fca90f"/>
<rect x="125.1" y="301.2" width="8.5" height="11.4" fill="#f99a11"/>
<rect x="133.3" y="301.2" width="8.5" height="11.4" fill="#962b5e"/>
<rect x="141.5" y="301.2" width="8.5" height="11.4" fill="#942665"/>
<rect x="149.6" y="301.2" width="8.5" height="11.4" fill="#a12b62"/>
<rect x="157.8" y="301.2" width="11.5" height="11.4" fill="#811f6b"/>
</g></g>
<g clip-path="url(#fce)"><g filter="url(#fbb)">
<rect x="199.2" y="176.2" width="11.5" height="11.4" fill="#300e3d"/>
<rect x="210.4" y="176.2" width="8.5" height="11.4" fill="#3f1243"/>
<rect x="218.6" y="176.2" width="8.5" height="11.4" fill="#350d49"/>
<rect x="226.8" y="176.2" width="8.5" height="11.4" fill="#300f3b"/>
<rect x="234.9" y="176.2" width="8.5" height="11.4" fill="#441345"/>
<rect x="243.1" y="176.2" width="8.5" height="11.4" fill="#380f40"/>
<rect x="251.3" y="176.2" width="8.5" height="11.4" fill="#1f0a35"/>
<rect x="259.5" y="176.2" width="8.5" height="11.4" fill="#2f0d39"/>
<rect x="267.7" y="176.2" width="8.5" height="11.4" fill="#2e0e36"/>
<rect x="275.9" y="176.2" width="8.5" height="11.4" fill="#1b0933"/>
<rect x="284.1" y="176.2" width="8.5" height="11.4" fill="#3b1041"/>
<rect x="292.3" y="176.2" width="8.5" height="11.4" fill="#441345"/>
<rect x="300.4" y="176.2" width="8.5" height="11.4" fill="#300e3e"/>
<rect x="308.6" y="176.2" width="8.5" height="11.4" fill="#390e49"/>
<rect x="316.8" y="176.2" width="8.5" height="11.4" fill="#3c1241"/>
<rect x="325.0" y="176.2" width="11.5" height="11.4" fill="#2d0c3b"/>
<rect x="199.2" y="187.3" width="11.5" height="8.4" fill="#310d46"/>
<rect x="210.4" y="187.3" width="8.5" height="8.4" fill="#310c46"/>
<rect x="218.6" y="187.3" width="8.5" height="8.4" fill="#3f1049"/>
<rect x="226.8" y="187.3" width="8.5" height="8.4" fill="#361039"/>
<rect x="234.9" y="187.3" width="8.5" height="8.4" fill="#1c0933"/>
<rect x="243.1" y="187.3" width="8.5" height="8.4" fill="#481349"/>
<rect x="251.3" y="187.3" width="8.5" height="8.4" fill="#2f0d3f"/>
<rect x="259.5" y="187.3" width="8.5" height="8.4" fill="#230a37"/>
<rect x="267.7" y="187.3" width="8.5" height="8.4" fill="#230a37"/>
<rect x="275.9" y="187.3" width="8.5" height="8.4" fill="#2e0d3f"/>
<rect x="284.1" y="187.3" width="8.5" height="8.4" fill="#441347"/>
<rect x="292.3" y="187.3" width="8.5" height="8.4" fill="#1e0933"/>
<rect x="300.4" y="187.3" width="8.5" height="8.4" fill="#371039"/>
<rect x="308.6" y="187.3" width="8.5" height="8.4" fill="#3d1047"/>
<rect x="316.8" y="187.3" width="8.5" height="8.4" fill="#330d48"/>
<rect x="325.0" y="187.3" width="11.5" height="8.4" fill="#2f0d45"/>
<rect x="199.2" y="195.5" width="11.5" height="8.4" fill="#2f0c48"/>
<rect x="210.4" y="195.5" width="8.5" height="8.4" fill="#360d45"/>
<rect x="218.6" y="195.5" width="8.5" height="8.4" fill="#290b3a"/>
<rect x="226.8" y="195.5" width="8.5" height="8.4" fill="#36103e"/>
<rect x="234.9" y="195.5" width="8.5" height="8.4" fill="#360f44"/>
<rect x="243.1" y="195.5" width="8.5" height="8.4" fill="#380f44"/>
<rect x="251.3" y="195.5" width="8.5" height="8.4" fill="#451249"/>
<rect x="259.5" y="195.5" width="8.5" height="8.4" fill="#380f45"/>
<rect x="267.7" y="195.5" width="8.5" height="8.4" fill="#350e42"/>
<rect x="275.9" y="195.5" width="8.5" height="8.4" fill="#461249"/>
<rect x="284.1" y="195.5" width="8.5" height="8.4" fill="#390f46"/>
<rect x="292.3" y="195.5" width="8.5" height="8.4" fill="#370f44"/>
<rect x="300.4" y="195.5" width="8.5" height="8.4" fill="#350f3d"/>
<rect x="308.6" y="195.5" width="8.5" height="8.4" fill="#2b0b3c"/>
<rect x="316.8" y="195.5" width="8.5" height="8.4" fill="#390e46"/>
<rect x="325.0" y="195.5" width="11.5" height="8.4" fill="#2d0c45"/>
<rect x="199.2" y="203.6" width="11.5" height="8.4" fill="#160831"/>
<rect x="210.4" y="203.6" width="8.5" height="8.4" fill="#1b0934"/>
<rect x="218.6" y="203.6" width="8.5" height="8.4" fill="#2d0c43"/>
<rect x="226.8" y="203.6" width="8.5" height="8.4" fill="#300d43"/>
<rect x="234.9" y="203.6" width="8.5" height="8.4" fill="#2b0b42"/>
<rect x="243.1" y="203.6" width="8.5" height="8.4" fill="#23093a"/>
<rect x="251.3" y="203.6" width="8.5" height="8.4" fill="#270a44"/>
<rect x="259.5" y="203.6" width="8.5" height="8.4" fill="#2d0c44"/>
<rect x="267.7" y="203.6" width="8.5" height="8.4" fill="#2c0c43"/>
<rect x="275.9" y="203.6" width="8.5" height="8.4" fill="#2a0a47"/>
<rect x="284.1" y="203.6" width="8.5" height="8.4" fill="#210938"/>
<rect x="292.3" y="203.6" width="8.5" height="8.4" fill="#2b0b43"/>
<rect x="300.4" y="203.6" width="8.5" height="8.4" fill="#300d45"/>
<rect x="308.6" y="203.6" width="8.5" height="8.4" fill="#2c0c43"/>
<rect x="316.8" y="203.6" width="8.5" height="8.4" fill="#1a0832"/>
<rect x="325.0" y="203.6" width="11.5" height="8.4" fill="#170833"/>
<rect x="199.2" y="211.8" width="11.5" height="8.4" fill="#0c051d"/>
<rect x="210.4" y="211.8" width="8.5" height="8.4" fill="#0d051f"/>
<rect x="218.6" y="211.8" width="8.5" height="8.4" fill="#0d0521"/>
<rect x="226.8" y="211.8" width="8.5" height="8.4" fill="#120624"/>
<rect x="234.9" y="211.8" width="8.5" height="8.4" fill="#130626"/>
<rect x="243.1" y="211.8" width="8.5" height="8.4" fill="#19072d"/>
<rect x="251.3" y="211.8" width="8.5" height="8.4" fill="#0f0624"/>
<rect x="259.5" y="211.8" width="8.5" height="8.4" fill="#120728"/>
<rect x="267.7" y="211.8" width="8.5" height="8.4" fill="#120727"/>
<rect x="275.9" y="211.8" width="8.5" height="8.4" fill="#0e0624"/>
<rect x="284.1" y="211.8" width="8.5" height="8.4" fill="#19072d"/>
<rect x="292.3" y="211.8" width="8.5" height="8.4" fill="#120625"/>
<rect x="300.4" y="211.8" width="8.5" height="8.4" fill="#120624"/>
<rect x="308.6" y="211.8" width="8.5" height="8.4" fill="#0d0522"/>
<rect x="316.8" y="211.8" width="8.5" height="8.4" fill="#0e0520"/>
<rect x="325.0" y="211.8" width="11.5" height="8.4" fill="#0c051e"/>
<rect x="199.2" y="219.9" width="11.5" height="8.4" fill="#02020c"/>
<rect x="210.4" y="219.9" width="8.5" height="8.4" fill="#02020d"/>
<rect x="218.6" y="219.9" width="8.5" height="8.4" fill="#03020f"/>
<rect x="226.8" y="219.9" width="8.5" height="8.4" fill="#040312"/>
<rect x="234.9" y="219.9" width="8.5" height="8.4" fill="#030210"/>
<rect x="243.1" y="219.9" width="8.5" height="8.4" fill="#030311"/>
<rect x="251.3" y="219.9" width="8.5" height="8.4" fill="#08051c"/>
<rect x="259.5" y="219.9" width="8.5" height="8.4" fill="#0d0827"/>
<rect x="267.7" y="219.9" width="8.5" height="8.4" fill="#0c0827"/>
<rect x="275.9" y="219.9" width="8.5" height="8.4" fill="#08051c"/>
<rect x="284.1" y="219.9" width="8.5" height="8.4" fill="#030312"/>
<rect x="292.3" y="219.9" width="8.5" height="8.4" fill="#030210"/>
<rect x="300.4" y="219.9" width="8.5" height="8.4" fill="#040312"/>
<rect x="308.6" y="219.9" width="8.5" height="8.4" fill="#03020f"/>
<rect x="316.8" y="219.9" width="8.5" height="8.4" fill="#02020d"/>
<rect x="325.0" y="219.9" width="11.5" height="8.4" fill="#02020c"/>
<rect x="199.2" y="228.0" width="11.5" height="8.4" fill="#02020d"/>
<rect x="210.4" y="228.0" width="8.5" height="8.4" fill="#02020f"/>
<rect x="218.6" y="228.0" width="8.5" height="8.4" fill="#040313"/>
<rect x="226.8" y="228.0" width="8.5" height="8.4" fill="#060418"/>
<rect x="234.9" y="228.0" width="8.5" height="8.4" fill="#040315"/>
<rect x="243.1" y="228.0" width="8.5" height="8.4" fill="#050417"/>
<rect x="251.3" y="228.0" width="8.5" height="8.4" fill="#0e0829"/>
<rect x="259.5" y="228.0" width="8.5" height="8.4" fill="#180b3c"/>
<rect x="267.7" y="228.0" width="8.5" height="8.4" fill="#180b3b"/>
<rect x="275.9" y="228.0" width="8.5" height="8.4" fill="#0e0829"/>
<rect x="284.1" y="228.0" width="8.5" height="8.4" fill="#050417"/>
<rect x="292.3" y="228.0" width="8.5" height="8.4" fill="#040314"/>
<rect x="300.4" y="228.0" width="8.5" height="8.4" fill="#060418"/>
<rect x="308.6" y="228.0" width="8.5" height="8.4" fill="#040313"/>
<rect x="316.8" y="228.0" width="8.5" height="8.4" fill="#02020f"/>
<rect x="325.0" y="228.0" width="11.5" height="8.4" fill="#02020d"/>
<rect x="199.2" y="236.2" width="11.5" height="8.4" fill="#02020f"/>
<rect x="210.4" y="236.2" width="8.5" height="8.4" fill="#040312"/>
<rect x="218.6" y="236.2" width="8.5" height="8.4" fill="#07051a"/>
<rect x="226.8" y="236.2" width="8.5" height="8.4" fill="#0b0723"/>
<rect x="234.9" y="236.2" width="8.5" height="8.4" fill="#08051d"/>
<rect x="243.1" y="236.2" width="8.5" height="8.4" fill="#090620"/>
<rect x="251.3" y="236.2" width="8.5" height="8.4" fill="#1a0b3f"/>
<rect x="259.5" y="236.2" width="8.5" height="8.4" fill="#2f0a5a"/>
<rect x="267.7" y="236.2" width="8.5" height="8.4" fill="#2e0b59"/>
<rect x="275.9" y="236.2" width="8.5" height="8.4" fill="#1a0b3f"/>
<rect x="284.1" y="236.2" width="8.5" height="8.4" fill="#090620"/>
<rect x="292.3" y="236.2" width="8.5" height="8.4" fill="#08051c"/>
<rect x="300.4" y="236.2" width="8.5" height="8.4" fill="#0a0723"/>
<rect x="308.6" y="236.2" width="8.5" height="8.4" fill="#060419"/>
<rect x="316.8" y="236.2" width="8.5" height="8.4" fill="#040312"/>
<rect x="325.0" y="236.2" width="11.5" height="8.4" fill="#02020f"/>
<rect x="199.2" y="244.3" width="11.5" height="8.4" fill="#040313"/>
<rect x="210.4" y="244.3" width="8.5" height="8.4" fill="#060419"/>
<rect x="218.6" y="244.3" width="8.5" height="8.4" fill="#0c0726"/>
<rect x="226.8" y="244.3" width="8.5" height="8.4" fill="#140b35"/>
<rect x="234.9" y="244.3" width="8.5" height="8.4" fill="#0e092b"/>
<rect x="243.1" y="244.3" width="8.5" height="8.4" fill="#11092f"/>
<rect x="251.3" y="244.3" width="8.5" height="8.4" fill="#330b5b"/>
<rect x="259.5" y="244.3" width="8.5" height="8.4" fill="#59116c"/>
<rect x="267.7" y="244.3" width="8.5" height="8.4" fill="#57106c"/>
<rect x="275.9" y="244.3" width="8.5" height="8.4" fill="#330b5b"/>
<rect x="284.1" y="244.3" width="8.5" height="8.4" fill="#120930"/>
<rect x="292.3" y="244.3" width="8.5" height="8.4" fill="#0e082a"/>
<rect x="300.4" y="244.3" width="8.5" height="8.4" fill="#140b35"/>
<rect x="308.6" y="244.3" width="8.5" height="8.4" fill="#0b0724"/>
<rect x="316.8" y="244.3" width="8.5" height="8.4" fill="#060419"/>
<rect x="325.0" y="244.3" width="11.5" height="8.4" fill="#040313"/>
<rect x="199.2" y="252.4" width="11.5" height="8.4" fill="#11092f"/>
<rect x="210.4" y="252.4" width="8.5" height="8.4" fill="#150a36"/>
<rect x="218.6" y="252.4" width="8.5" height="8.4" fill="#1d0b42"/>
<rect x="226.8" y="252.4" width="8.5" height="8.4" fill="#2c0b56"/>
<rect x="234.9" y="252.4" width="8.5" height="8.4" fill="#1f0b47"/>
<rect x="243.1" y="252.4" width="8.5" height="8.4" fill="#240b4c"/>
<rect x="251.3" y="252.4" width="8.5" height="8.4" fill="#661669"/>
<rect x="259.5" y="252.4" width="8.5" height="8.4" fill="#b53d4f"/>
<rect x="267.7" y="252.4" width="8.5" height="8.4" fill="#b23b51"/>
<rect x="275.9" y="252.4" width="8.5" height="8.4" fill="#65166a"/>
<rect x="284.1" y="252.4" width="8.5" height="8.4" fill="#260b4e"/>
<rect x="292.3" y="252.4" width="8.5" height="8.4" fill="#1f0b46"/>
<rect x="300.4" y="252.4" width="8.5" height="8.4" fill="#2b0b55"/>
<rect x="308.6" y="252.4" width="8.5" height="8.4" fill="#1c0b41"/>
<rect x="316.8" y="252.4" width="8.5" height="8.4" fill="#150a36"/>
<rect x="325.0" y="252.4" width="11.5" height="8.4" fill="#11092f"/>
<rect x="199.2" y="260.6" width="11.5" height="8.4" fill="#280b53"/>
<rect x="210.4" y="260.6" width="8.5" height="8.4" fill="#320a5d"/>
<rect x="218.6" y="260.6" width="8.5" height="8.4" fill="#430c66"/>
<rect x="226.8" y="260.6" width="8.5" height="8.4" fill="#5c126c"/>
<rect x="234.9" y="260.6" width="8.5" height="8.4" fill="#430b67"/>
<rect x="243.1" y="260.6" width="8.5" height="8.4" fill="#4b0d68"/>
<rect x="251.3" y="260.6" width="8.5" height="8.4" fill="#c24f42"/>
<rect x="259.5" y="260.6" width="8.5" height="8.4" fill="#f9ba28"/>
<rect x="267.7" y="260.6" width="8.5" height="8.4" fill="#f8b627"/>
<rect x="275.9" y="260.6" width="8.5" height="8.4" fill="#c24d43"/>
<rect x="284.1" y="260.6" width="8.5" height="8.4" fill="#4e0e69"/>
<rect x="292.3" y="260.6" width="8.5" height="8.4" fill="#420b66"/>
<rect x="300.4" y="260.6" width="8.5" height="8.4" fill="#5b126c"/>
<rect x="308.6" y="260.6" width="8.5" height="8.4" fill="#410b65"/>
<rect x="316.8" y="260.6" width="8.5" height="8.4" fill="#320a5c"/>
<rect x="325.0" y="260.6" width="11.5" height="8.4" fill="#280b53"/>
<rect x="199.2" y="268.7" width="11.5" height="8.4" fill="#310a5d"/>
<rect x="210.4" y="268.7" width="8.5" height="8.4" fill="#420b67"/>
<rect x="218.6" y="268.7" width="8.5" height="8.4" fill="#751b6b"/>
<rect x="226.8" y="268.7" width="8.5" height="8.4" fill="#bc3e4e"/>
<rect x="234.9" y="268.7" width="8.5" height="8.4" fill="#7f1f68"/>
<rect x="243.1" y="268.7" width="8.5" height="8.4" fill="#852363"/>
<rect x="251.3" y="268.7" width="8.5" height="8.4" fill="#f69718"/>
<rect x="259.5" y="268.7" width="8.5" height="8.4" fill="#fbaa13"/>
<rect x="267.7" y="268.7" width="8.5" height="8.4" fill="#fbab14"/>
<rect x="275.9" y="268.7" width="8.5" height="8.4" fill="#f79816"/>
<rect x="284.1" y="268.7" width="8.5" height="8.4" fill="#8c2661"/>
<rect x="292.3" y="268.7" width="8.5" height="8.4" fill="#7b1e69"/>
<rect x="300.4" y="268.7" width="8.5" height="8.4" fill="#ba3c50"/>
<rect x="308.6" y="268.7" width="8.5" height="8.4" fill="#70196c"/>
<rect x="316.8" y="268.7" width="8.5" height="8.4" fill="#420a67"/>
<rect x="325.0" y="268.7" width="11.5" height="8.4" fill="#310a5d"/>
<rect x="199.2" y="276.8" width="11.5" height="8.4" fill="#3a0a62"/>
<rect x="210.4" y="276.8" width="8.5" height="8.4" fill="#61146d"/>
<rect x="218.6" y="276.8" width="8.5" height="8.4" fill="#852169"/>
<rect x="226.8" y="276.8" width="8.5" height="8.4" fill="#ee751d"/>
<rect x="234.9" y="276.8" width="8.5" height="8.4" fill="#e36928"/>
<rect x="243.1" y="276.8" width="8.5" height="8.4" fill="#da5f31"/>
<rect x="251.3" y="276.8" width="8.5" height="8.4" fill="#fb9b07"/>
<rect x="259.5" y="276.8" width="8.5" height="8.4" fill="#fa9407"/>
<rect x="267.7" y="276.8" width="8.5" height="8.4" fill="#fa9407"/>
<rect x="275.9" y="276.8" width="8.5" height="8.4" fill="#fb9c07"/>
<rect x="284.1" y="276.8" width="8.5" height="8.4" fill="#dd632e"/>
<rect x="292.3" y="276.8" width="8.5" height="8.4" fill="#e1662b"/>
<rect x="300.4" y="276.8" width="8.5" height="8.4" fill="#eb7121"/>
<rect x="308.6" y="276.8" width="8.5" height="8.4" fill="#801f6b"/>
<rect x="316.8" y="276.8" width="8.5" height="8.4" fill="#61146d"/>
<rect x="325.0" y="276.8" width="11.5" height="8.4" fill="#3a0a62"/>
<rect x="199.2" y="285.0" width="11.5" height="8.4" fill="#6e186c"/>
<rect x="210.4" y="285.0" width="8.5" height="8.4" fill="#801f6c"/>
<rect x="218.6" y="285.0" width="8.5" height="8.4" fill="#8c2368"/>
<rect x="226.8" y="285.0" width="8.5" height="8.4" fill="#eb7120"/>
<rect x="234.9" y="285.0" width="8.5" height="8.4" fill="#fb9706"/>
<rect x="243.1" y="285.0" width="8.5" height="8.4" fill="#fba00a"/>
<rect x="251.3" y="285.0" width="8.5" height="8.4" fill="#fbb319"/>
<rect x="259.5" y="285.0" width="8.5" height="8.4" fill="#f8ca35"/>
<rect x="267.7" y="285.0" width="8.5" height="8.4" fill="#f8c934"/>
<rect x="275.9" y="285.0" width="8.5" height="8.4" fill="#fbb318"/>
<rect x="284.1" y="285.0" width="8.5" height="8.4" fill="#fba10b"/>
<rect x="292.3" y="285.0" width="8.5" height="8.4" fill="#fb9706"/>
<rect x="300.4" y="285.0" width="8.5" height="8.4" fill="#e86f23"/>
<rect x="308.6" y="285.0" width="8.5" height="8.4" fill="#88226a"/>
<rect x="316.8" y="285.0" width="8.5" height="8.4" fill="#801f6c"/>
<rect x="325.0" y="285.0" width="11.5" height="8.4" fill="#6d186c"/>
<rect x="199.2" y="293.1" width="11.5" height="8.4" fill="#992865"/>
<rect x="210.4" y="293.1" width="8.5" height="8.4" fill="#9a2865"/>
<rect x="218.6" y="293.1" width="8.5" height="8.4" fill="#9d2964"/>
<rect x="226.8" y="293.1" width="8.5" height="8.4" fill="#e4622c"/>
<rect x="234.9" y="293.1" width="8.5" height="8.4" fill="#f88b0c"/>
<rect x="243.1" y="293.1" width="8.5" height="8.4" fill="#fb9906"/>
<rect x="251.3" y="293.1" width="8.5" height="8.4" fill="#fb9d08"/>
<rect x="259.5" y="293.1" width="8.5" height="8.4" fill="#fb9b0a"/>
<rect x="267.7" y="293.1" width="8.5" height="8.4" fill="#fb9c0a"/>
<rect x="275.9" y="293.1" width="8.5" height="8.4" fill="#fb9d08"/>
<rect x="284.1" y="293.1" width="8.5" height="8.4" fill="#fb9906"/>
<rect x="292.3" y="293.1" width="8.5" height="8.4" fill="#f98c0b"/>
<rect x="300.4" y="293.1" width="8.5" height="8.4" fill="#e2602e"/>
<rect x="308.6" y="293.1" width="8.5" height="8.4" fill="#9b2864"/>
<rect x="316.8" y="293.1" width="8.5" height="8.4" fill="#9a2865"/>
<rect x="325.0" y="293.1" width="11.5" height="8.4" fill="#992865"/>
<rect x="199.2" y="301.3" width="11.5" height="11.4" fill="#a82e5f"/>
<rect x="210.4" y="301.3" width="8.5" height="11.4" fill="#a82e5f"/>
<rect x="218.6" y="301.3" width="8.5" height="11.4" fill="#a82e5f"/>
<rect x="226.8" y="301.3" width="8.5" height="11.4" fill="#e35f2f"/>
<rect x="234.9" y="301.3" width="8.5" height="11.4" fill="#f78410"/>
<rect x="243.1" y="301.3" width="8.5" height="11.4" fill="#fa9108"/>
<rect x="251.3" y="301.3" width="8.5" height="11.4" fill="#fb9507"/>
<rect x="259.5" y="301.3" width="8.5" height="11.4" fill="#ed731e"/>
<rect x="267.7" y="301.3" width="8.5" height="11.4" fill="#ef771b"/>
<rect x="275.9" y="301.3" width="8.5" height="11.4" fill="#fb9507"/>
<rect x="284.1" y="301.3" width="8.5" height="11.4" fill="#fa9108"/>
<rect x="292.3" y="301.3" width="8.5" height="11.4" fill="#f7850f"/>
<rect x="300.4" y="301.3" width="8.5" height="11.4" fill="#e05d31"/>
<rect x="308.6" y="301.3" width="8.5" height="11.4" fill="#a72d5f"/>
<rect x="316.8" y="301.3" width="8.5" height="11.4" fill="#a82e5f"/>
<rect x="325.0" y="301.3" width="11.5" height="11.4" fill="#a82e5f"/>
</g></g>
<g clip-path="url(#fcf)"><g filter="url(#fbb)">
<rect x="341.4" y="176.2" width="11.5" height="11.4" fill="#24093a"/>
<rect x="352.6" y="176.2" width="8.5" height="11.4" fill="#250a3e"/>
<rect x="360.8" y="176.2" width="8.5" height="11.4" fill="#2c0c3d"/>
<rect x="369.0" y="176.2" width="8.5" height="11.4" fill="#210a32"/>
<rect x="377.2" y="176.2" width="8.5" height="11.4" fill="#290c3c"/>
<rect x="385.4" y="176.2" width="8.5" height="11.4" fill="#300e35"/>
<rect x="393.6" y="176.2" width="8.5" height="11.4" fill="#200930"/>
<rect x="401.8" y="176.2" width="8.5" height="11.4" fill="#210a37"/>
<rect x="409.9" y="176.2" width="8.5" height="11.4" fill="#200936"/>
<rect x="418.1" y="176.2" width="8.5" height="11.4" fill="#20092f"/>
<rect x="426.3" y="176.2" width="8.5" height="11.4" fill="#300e36"/>
<rect x="434.5" y="176.2" width="8.5" height="11.4" fill="#290b3b"/>
<rect x="442.7" y="176.2" width="8.5" height="11.4" fill="#210a33"/>
<rect x="450.9" y="176.2" width="8.5" height="11.4" fill="#2c0c3d"/>
<rect x="459.1" y="176.2" width="8.5" height="11.4" fill="#240a3e"/>
<rect x="467.3" y="176.2" width="11.5" height="11.4" fill="#230939"/>
<rect x="341.4" y="187.3" width="11.5" height="8.4" fill="#370e46"/>
<rect x="352.6" y="187.3" width="8.5" height="8.4" fill="#220a36"/>
<rect x="360.8" y="187.3" width="8.5" height="8.4" fill="#290c3c"/>
<rect x="369.0" y="187.3" width="8.5" height="8.4" fill="#1f0932"/>
<rect x="377.2" y="187.3" width="8.5" height="8.4" fill="#2b0d32"/>
<rect x="385.4" y="187.3" width="8.5" height="8.4" fill="#210a2d"/>
<rect x="393.6" y="187.3" width="8.5" height="8.4" fill="#270c33"/>
<rect x="401.8" y="187.3" width="8.5" height="8.4" fill="#2e0f32"/>
<rect x="409.9" y="187.3" width="8.5" height="8.4" fill="#2d0f31"/>
<rect x="418.1" y="187.3" width="8.5" height="8.4" fill="#270b34"/>
<rect x="426.3" y="187.3" width="8.5" height="8.4" fill="#210a2e"/>
<rect x="434.5" y="187.3" width="8.5" height="8.4" fill="#2a0c32"/>
<rect x="442.7" y="187.3" width="8.5" height="8.4" fill="#1f0832"/>
<rect x="450.9" y="187.3" width="8.5" height="8.4" fill="#290b3c"/>
<rect x="459.1" y="187.3" width="8.5" height="8.4" fill="#230a36"/>
<rect x="467.3" y="187.3" width="11.5" height="8.4" fill="#380e47"/>
<rect x="341.4" y="195.5" width="11.5" height="8.4" fill="#1e092d"/>
<rect x="352.6" y="195.5" width="8.5" height="8.4" fill="#160728"/>
<rect x="360.8" y="195.5" width="8.5" height="8.4" fill="#350e3f"/>
<rect x="369.0" y="195.5" width="8.5" height="8.4" fill="#2a0c37"/>
<rect x="377.2" y="195.5" width="8.5" height="8.4" fill="#2b0d39"/>
<rect x="385.4" y="195.5" width="8.5" height="8.4" fill="#220935"/>
<rect x="393.6" y="195.5" width="8.5" height="8.4" fill="#1d092c"/>
<rect x="401.8" y="195.5" width="8.5" height="8.4" fill="#260a3d"/>
<rect x="409.9" y="195.5" width="8.5" height="8.4" fill="#260a3e"/>
<rect x="418.1" y="195.5" width="8.5" height="8.4" fill="#1d092b"/>
<rect x="426.3" y="195.5" width="8.5" height="8.4" fill="#220936"/>
<rect x="434.5" y="195.5" width="8.5" height="8.4" fill="#2c0d39"/>
<rect x="442.7" y="195.5" width="8.5" height="8.4" fill="#290c37"/>
<rect x="450.9" y="195.5" width="8.5" height="8.4" fill="#350e3f"/>
<rect x="459.1" y="195.5" width="8.5" height="8.4" fill="#170728"/>
<rect x="467.3" y="195.5" width="11.5" height="8.4" fill="#1e0a2d"/>
<rect x="341.4" y="203.6" width="11.5" height="8.4" fill="#13072a"/>
<rect x="352.6" y="203.6" width="8.5" height="8.4" fill="#1b092b"/>
<rect x="360.8" y="203.6" width="8.5" height="8.4" fill="#1a082d"/>
<rect x="369.0" y="203.6" width="8.5" height="8.4" fill="#300d3d"/>
<rect x="377.2" y="203.6" width="8.5" height="8.4" fill="#1a092d"/>
<rect x="385.4" y="203.6" width="8.5" height="8.4" fill="#370f40"/>
<rect x="393.6" y="203.6" width="8.5" height="8.4" fill="#2e0f2d"/>
<rect x="401.8" y="203.6" width="8.5" height="8.4" fill="#57194e"/>
<rect x="409.9" y="203.6" width="8.5" height="8.4" fill="#56184e"/>
<rect x="418.1" y="203.6" width="8.5" height="8.4" fill="#2d0f2c"/>
<rect x="426.3" y="203.6" width="8.5" height="8.4" fill="#370f40"/>
<rect x="434.5" y="203.6" width="8.5" height="8.4" fill="#1a082e"/>
<rect x="442.7" y="203.6" width="8.5" height="8.4" fill="#300d3e"/>
<rect x="450.9" y="203.6" width="8.5" height="8.4" fill="#1b082d"/>
<rect x="459.1" y="203.6" width="8.5" height="8.4" fill="#1b092b"/>
<rect x="467.3" y="203.6" width="11.5" height="8.4" fill="#130729"/>
<rect x="341.4" y="211.8" width="11.5" height="8.4" fill="#070315"/>
<rect x="352.6" y="211.8" width="8.5" height="8.4" fill="#090417"/>
<rect x="360.8" y="211.8" width="8.5" height="8.4" fill="#0d0518"/>
<rect x="369.0" y="211.8" width="8.5" height="8.4" fill="#080310"/>
<rect x="377.2" y="211.8" width="8.5" height="8.4" fill="#0f051c"/>
<rect x="385.4" y="211.8" width="8.5" height="8.4" fill="#1f0926"/>
<rect x="393.6" y="211.8" width="8.5" height="8.4" fill="#140528"/>
<rect x="401.8" y="211.8" width="8.5" height="8.4" fill="#120527"/>
<rect x="409.9" y="211.8" width="8.5" height="8.4" fill="#120526"/>
<rect x="418.1" y="211.8" width="8.5" height="8.4" fill="#140528"/>
<rect x="426.3" y="211.8" width="8.5" height="8.4" fill="#1f0925"/>
<rect x="434.5" y="211.8" width="8.5" height="8.4" fill="#0f051b"/>
<rect x="442.7" y="211.8" width="8.5" height="8.4" fill="#070410"/>
<rect x="450.9" y="211.8" width="8.5" height="8.4" fill="#0e0518"/>
<rect x="459.1" y="211.8" width="8.5" height="8.4" fill="#090417"/>
<rect x="467.3" y="211.8" width="11.5" height="8.4" fill="#070315"/>
<rect x="341.4" y="219.9" width="11.5" height="8.4" fill="#010108"/>
<rect x="352.6" y="219.9" width="8.5" height="8.4" fill="#010108"/>
<rect x="360.8" y="219.9" width="8.5" height="8.4" fill="#020109"/>
<rect x="369.0" y="219.9" width="8.5" height="8.4" fill="#010109"/>
<rect x="377.2" y="219.9" width="8.5" height="8.4" fill="#010108"/>
<rect x="385.4" y="219.9" width="8.5" height="8.4" fill="#010108"/>
<rect x="393.6" y="219.9" width="8.5" height="8.4" fill="#02020c"/>
<rect x="401.8" y="219.9" width="8.5" height="8.4" fill="#040312"/>
<rect x="409.9" y="219.9" width="8.5" height="8.4" fill="#040312"/>
<rect x="418.1" y="219.9" width="8.5" height="8.4" fill="#02020c"/>
<rect x="426.3" y="219.9" width="8.5" height="8.4" fill="#010108"/>
<rect x="434.5" y="219.9" width="8.5" height="8.4" fill="#010108"/>
<rect x="442.7" y="219.9" width="8.5" height="8.4" fill="#010109"/>
<rect x="450.9" y="219.9" width="8.5" height="8.4" fill="#020109"/>
<rect x="459.1" y="219.9" width="8.5" height="8.4" fill="#010108"/>
<rect x="467.3" y="219.9" width="11.5" height="8.4" fill="#010108"/>
<rect x="341.4" y="228.0" width="11.5" height="8.4" fill="#010108"/>
<rect x="352.6" y="228.0" width="8.5" height="8.4" fill="#010108"/>
<rect x="360.8" y="228.0" width="8.5" height="8.4" fill="#02010a"/>
<rect x="369.0" y="228.0" width="8.5" height="8.4" fill="#020109"/>
<rect x="377.2" y="228.0" width="8.5" height="8.4" fill="#010108"/>
<rect x="385.4" y="228.0" width="8.5" height="8.4" fill="#010109"/>
<rect x="393.6" y="228.0" width="8.5" height="8.4" fill="#040312"/>
<rect x="401.8" y="228.0" width="8.5" height="8.4" fill="#08061e"/>
<rect x="409.9" y="228.0" width="8.5" height="8.4" fill="#08061e"/>
<rect x="418.1" y="228.0" width="8.5" height="8.4" fill="#030311"/>
<rect x="426.3" y="228.0" width="8.5" height="8.4" fill="#010109"/>
<rect x="434.5" y="228.0" width="8.5" height="8.4" fill="#010108"/>
<rect x="442.7" y="228.0" width="8.5" height="8.4" fill="#020109"/>
<rect x="450.9" y="228.0" width="8.5" height="8.4" fill="#02010a"/>
<rect x="459.1" y="228.0" width="8.5" height="8.4" fill="#010108"/>
<rect x="467.3" y="228.0" width="11.5" height="8.4" fill="#010108"/>
<rect x="341.4" y="236.2" width="11.5" height="8.4" fill="#010108"/>
<rect x="352.6" y="236.2" width="8.5" height="8.4" fill="#010109"/>
<rect x="360.8" y="236.2" width="8.5" height="8.4" fill="#02020c"/>
<rect x="369.0" y="236.2" width="8.5" height="8.4" fill="#02010b"/>
<rect x="377.2" y="236.2" width="8.5" height="8.4" fill="#010108"/>
<rect x="385.4" y="236.2" width="8.5" height="8.4" fill="#02010a"/>
<rect x="393.6" y="236.2" width="8.5" height="8.4" fill="#08051d"/>
<rect x="401.8" y="236.2" width="8.5" height="8.4" fill="#170b3a"/>
<rect x="409.9" y="236.2" width="8.5" height="8.4" fill="#170b3a"/>
<rect x="418.1" y="236.2" width="8.5" height="8.4" fill="#08051d"/>
<rect x="426.3" y="236.2" width="8.5" height="8.4" fill="#02010a"/>
<rect x="434.5" y="236.2" width="8.5" height="8.4" fill="#010108"/>
<rect x="442.7" y="236.2" width="8.5" height="8.4" fill="#02010b"/>
<rect x="450.9" y="236.2" width="8.5" height="8.4" fill="#02020c"/>
<rect x="459.1" y="236.2" width="8.5" height="8.4" fill="#010109"/>
<rect x="467.3" y="236.2" width="11.5" height="8.4" fill="#010108"/>
<rect x="341.4" y="244.3" width="11.5" height="8.4" fill="#010108"/>
<rect x="352.6" y="244.3" width="8.5" height="8.4" fill="#02010a"/>
<rect x="360.8" y="244.3" width="8.5" height="8.4" fill="#03020f"/>
<rect x="369.0" y="244.3" width="8.5" height="8.4" fill="#02020d"/>
<rect x="377.2" y="244.3" width="8.5" height="8.4" fill="#020109"/>
<rect x="385.4" y="244.3" width="8.5" height="8.4" fill="#02020c"/>
<rect x="393.6" y="244.3" width="8.5" height="8.4" fill="#160936"/>
<rect x="401.8" y="244.3" width="8.5" height="8.4" fill="#430d64"/>
<rect x="409.9" y="244.3" width="8.5" height="8.4" fill="#430d64"/>
<rect x="418.1" y="244.3" width="8.5" height="8.4" fill="#160936"/>
<rect x="426.3" y="244.3" width="8.5" height="8.4" fill="#02020b"/>
<rect x="434.5" y="244.3" width="8.5" height="8.4" fill="#020109"/>
<rect x="442.7" y="244.3" width="8.5" height="8.4" fill="#02020d"/>
<rect x="450.9" y="244.3" width="8.5" height="8.4" fill="#03020f"/>
<rect x="459.1" y="244.3" width="8.5" height="8.4" fill="#02010a"/>
<rect x="467.3" y="244.3" width="11.5" height="8.4" fill="#010108"/>
<rect x="341.4" y="252.4" width="11.5" height="8.4" fill="#010109"/>
<rect x="352.6" y="252.4" width="8.5" height="8.4" fill="#02020c"/>
<rect x="360.8" y="252.4" width="8.5" height="8.4" fill="#060418"/>
<rect x="369.0" y="252.4" width="8.5" height="8.4" fill="#040313"/>
<rect x="377.2" y="252.4" width="8.5" height="8.4" fill="#02010a"/>
<rect x="385.4" y="252.4" width="8.5" height="8.4" fill="#040311"/>
<rect x="393.6" y="252.4" width="8.5" height="8.4" fill="#461158"/>
<rect x="401.8" y="252.4" width="8.5" height="8.4" fill="#bd4a45"/>
<rect x="409.9" y="252.4" width="8.5" height="8.4" fill="#bc4945"/>
<rect x="418.1" y="252.4" width="8.5" height="8.4" fill="#441158"/>
<rect x="426.3" y="252.4" width="8.5" height="8.4" fill="#040310"/>
<rect x="434.5" y="252.4" width="8.5" height="8.4" fill="#02010a"/>
<rect x="442.7" y="252.4" width="8.5" height="8.4" fill="#040313"/>
<rect x="450.9" y="252.4" width="8.5" height="8.4" fill="#060418"/>
<rect x="459.1" y="252.4" width="8.5" height="8.4" fill="#02020c"/>
<rect x="467.3" y="252.4" width="11.5" height="8.4" fill="#010109"/>
<rect x="341.4" y="260.6" width="11.5" height="8.4" fill="#02010a"/>
<rect x="352.6" y="260.6" width="8.5" height="8.4" fill="#03020f"/>
<rect x="360.8" y="260.6" width="8.5" height="8.4" fill="#10082c"/>
<rect x="369.0" y="260.6" width="8.5" height="8.4" fill="#0a0620"/>
<rect x="377.2" y="260.6" width="8.5" height="8.4" fill="#02020c"/>
<rect x="385.4" y="260.6" width="8.5" height="8.4" fill="#0a051d"/>
<rect x="393.6" y="260.6" width="8.5" height="8.4" fill="#a84348"/>
<rect x="401.8" y="260.6" width="8.5" height="8.4" fill="#f8c331"/>
<rect x="409.9" y="260.6" width="8.5" height="8.4" fill="#f8c230"/>
<rect x="418.1" y="260.6" width="8.5" height="8.4" fill="#a64249"/>
<rect x="426.3" y="260.6" width="8.5" height="8.4" fill="#09041c"/>
<rect x="434.5" y="260.6" width="8.5" height="8.4" fill="#02020c"/>
<rect x="442.7" y="260.6" width="8.5" height="8.4" fill="#0a0620"/>
<rect x="450.9" y="260.6" width="8.5" height="8.4" fill="#0f082c"/>
<rect x="459.1" y="260.6" width="8.5" height="8.4" fill="#03020f"/>
<rect x="467.3" y="260.6" width="11.5" height="8.4" fill="#02010a"/>
<rect x="341.4" y="268.7" width="11.5" height="8.4" fill="#02010b"/>
<rect x="352.6" y="268.7" width="8.5" height="8.4" fill="#060417"/>
<rect x="360.8" y="268.7" width="8.5" height="8.4" fill="#2d0b51"/>
<rect x="369.0" y="268.7" width="8.5" height="8.4" fill="#1a093b"/>
<rect x="377.2" y="268.7" width="8.5" height="8.4" fill="#030210"/>
<rect x="385.4" y="268.7" width="8.5" height="8.4" fill="#1b082e"/>
<rect x="393.6" y="268.7" width="8.5" height="8.4" fill="#e57e25"/>
<rect x="401.8" y="268.7" width="8.5" height="8.4" fill="#f9c42f"/>
<rect x="409.9" y="268.7" width="8.5" height="8.4" fill="#f9c42e"/>
<rect x="418.1" y="268.7" width="8.5" height="8.4" fill="#e37c26"/>
<rect x="426.3" y="268.7" width="8.5" height="8.4" fill="#1a072d"/>
<rect x="434.5" y="268.7" width="8.5" height="8.4" fill="#030310"/>
<rect x="442.7" y="268.7" width="8.5" height="8.4" fill="#1b093c"/>
<rect x="450.9" y="268.7" width="8.5" height="8.4" fill="#2c0b51"/>
<rect x="459.1" y="268.7" width="8.5" height="8.4" fill="#050417"/>
<rect x="467.3" y="268.7" width="11.5" height="8.4" fill="#02010b"/>
<rect x="341.4" y="276.8" width="11.5" height="8.4" fill="#02020e"/>
<rect x="352.6" y="276.8" width="8.5" height="8.4" fill="#0e0729"/>
<rect x="360.8" y="276.8" width="8.5" height="8.4" fill="#4e0f69"/>
<rect x="369.0" y="276.8" width="8.5" height="8.4" fill="#380c59"/>
<rect x="377.2" y="276.8" width="8.5" height="8.4" fill="#070419"/>
<rect x="385.4" y="276.8" width="8.5" height="8.4" fill="#3a1139"/>
<rect x="393.6" y="276.8" width="8.5" height="8.4" fill="#f99b12"/>
<rect x="401.8" y="276.8" width="8.5" height="8.4" fill="#fcae12"/>
<rect x="409.9" y="276.8" width="8.5" height="8.4" fill="#fcae12"/>
<rect x="418.1" y="276.8" width="8.5" height="8.4" fill="#f89a13"/>
<rect x="426.3" y="276.8" width="8.5" height="8.4" fill="#381039"/>
<rect x="434.5" y="276.8" width="8.5" height="8.4" fill="#07051a"/>
<rect x="442.7" y="276.8" width="8.5" height="8.4" fill="#390c5a"/>
<rect x="450.9" y="276.8" width="8.5" height="8.4" fill="#4e0f68"/>
<rect x="459.1" y="276.8" width="8.5" height="8.4" fill="#0e0728"/>
<rect x="467.3" y="276.8" width="11.5" height="8.4" fill="#02020e"/>
<rect x="341.4" y="285.0" width="11.5" height="8.4" fill="#050315"/>
<rect x="352.6" y="285.0" width="8.5" height="8.4" fill="#290b4a"/>
<rect x="360.8" y="285.0" width="8.5" height="8.4" fill="#67166e"/>
<rect x="369.0" y="285.0" width="8.5" height="8.4" fill="#5c136c"/>
<rect x="377.2" y="285.0" width="8.5" height="8.4" fill="#140831"/>
<rect x="385.4" y="285.0" width="8.5" height="8.4" fill="#5e223b"/>
<rect x="393.6" y="285.0" width="8.5" height="8.4" fill="#fbb81f"/>
<rect x="401.8" y="285.0" width="8.5" height="8.4" fill="#f8cd37"/>
<rect x="409.9" y="285.0" width="8.5" height="8.4" fill="#f8cc37"/>
<rect x="418.1" y="285.0" width="8.5" height="8.4" fill="#fbb81f"/>
<rect x="426.3" y="285.0" width="8.5" height="8.4" fill="#5b213b"/>
<rect x="434.5" y="285.0" width="8.5" height="8.4" fill="#140832"/>
<rect x="442.7" y="285.0" width="8.5" height="8.4" fill="#5d136c"/>
<rect x="450.9" y="285.0" width="8.5" height="8.4" fill="#67166e"/>
<rect x="459.1" y="285.0" width="8.5" height="8.4" fill="#280b49"/>
<rect x="467.3" y="285.0" width="11.5" height="8.4" fill="#050315"/>
<rect x="341.4" y="293.1" width="11.5" height="8.4" fill="#0e0728"/>
<rect x="352.6" y="293.1" width="8.5" height="8.4" fill="#571366"/>
<rect x="360.8" y="293.1" width="8.5" height="8.4" fill="#7d1e6d"/>
<rect x="369.0" y="293.1" width="8.5" height="8.4" fill="#7a1d6d"/>
<rect x="377.2" y="293.1" width="8.5" height="8.4" fill="#380d55"/>
<rect x="385.4" y="293.1" width="8.5" height="8.4" fill="#7c343d"/>
<rect x="393.6" y="293.1" width="8.5" height="8.4" fill="#fcae13"/>
<rect x="401.8" y="293.1" width="8.5" height="8.4" fill="#fbac16"/>
<rect x="409.9" y="293.1" width="8.5" height="8.4" fill="#fbac16"/>
<rect x="418.1" y="293.1" width="8.5" height="8.4" fill="#fcae13"/>
<rect x="426.3" y="293.1" width="8.5" height="8.4" fill="#7a323e"/>
<rect x="434.5" y="293.1" width="8.5" height="8.4" fill="#390e56"/>
<rect x="442.7" y="293.1" width="8.5" height="8.4" fill="#7a1d6d"/>
<rect x="450.9" y="293.1" width="8.5" height="8.4" fill="#7d1e6d"/>
<rect x="459.1" y="293.1" width="8.5" height="8.4" fill="#561366"/>
<rect x="467.3" y="293.1" width="11.5" height="8.4" fill="#0d0727"/>
<rect x="341.4" y="301.3" width="11.5" height="11.4" fill="#250b47"/>
<rect x="352.6" y="301.3" width="8.5" height="11.4" fill="#7b1d6c"/>
<rect x="360.8" y="301.3" width="8.5" height="11.4" fill="#87216b"/>
<rect x="369.0" y="301.3" width="8.5" height="11.4" fill="#87216b"/>
<rect x="377.2" y="301.3" width="8.5" height="11.4" fill="#631669"/>
<rect x="385.4" y="301.3" width="8.5" height="11.4" fill="#994242"/>
<rect x="393.6" y="301.3" width="8.5" height="11.4" fill="#fca80d"/>
<rect x="401.8" y="301.3" width="8.5" height="11.4" fill="#ea6e23"/>
<rect x="409.9" y="301.3" width="8.5" height="11.4" fill="#eb6f23"/>
<rect x="418.1" y="301.3" width="8.5" height="11.4" fill="#fca80d"/>
<rect x="426.3" y="301.3" width="8.5" height="11.4" fill="#974142"/>
<rect x="434.5" y="301.3" width="8.5" height="11.4" fill="#65166a"/>
<rect x="442.7" y="301.3" width="8.5" height="11.4" fill="#87216b"/>
<rect x="450.9" y="301.3" width="8.5" height="11.4" fill="#87216b"/>
<rect x="459.1" y="301.3" width="8.5" height="11.4" fill="#7a1d6c"/>
<rect x="467.3" y="301.3" width="11.5" height="11.4" fill="#240a46"/>
</g></g>
</svg>
<canvas id="cv" width="685" height="470"></canvas>
<svg id="sv" width="685" height="470" viewBox="0 0 685 470" font-family="Liberation Sans, sans-serif">
<line x1="35.1" y1="143.2" x2="35.1" y2="147.5" stroke="#111" stroke-width="1"/>
<text x="35.1" y="159.9" text-anchor="middle" font-size="11.6" fill="#000" >−2</text>
<line x1="100.55" y1="143.2" x2="100.55" y2="147.5" stroke="#111" stroke-width="1"/>
<text x="100.55" y="159.9" text-anchor="middle" font-size="11.6" fill="#000" >0</text>
<line x1="166" y1="143.2" x2="166" y2="147.5" stroke="#111" stroke-width="1"/>
<text x="166" y="159.9" text-anchor="middle" font-size="11.6" fill="#000" >2</text>
<line x1="30.8" y1="143.2" x2="35.1" y2="143.2" stroke="#111" stroke-width="1"/>
<text x="26.7" y="147.7" text-anchor="end" font-size="11.6" fill="#000" >−1</text>
<line x1="30.8" y1="102.57" x2="35.1" y2="102.57" stroke="#111" stroke-width="1"/>
<text x="26.7" y="107.07" text-anchor="end" font-size="11.6" fill="#000" >0</text>
<line x1="30.8" y1="61.95" x2="35.1" y2="61.95" stroke="#111" stroke-width="1"/>
<text x="26.7" y="66.45" text-anchor="end" font-size="11.6" fill="#000" >1</text>
<line x1="30.8" y1="21.32" x2="35.1" y2="21.32" stroke="#111" stroke-width="1"/>
<text x="26.7" y="25.82" text-anchor="end" font-size="11.6" fill="#000" >2</text>
<rect x="35.1" y="13.2" width="130.9" height="130" fill="none" stroke="#000" stroke-width="1"/>
<line x1="202.2" y1="143.2" x2="202.2" y2="147.5" stroke="#111" stroke-width="1"/>
<text x="202.2" y="159.9" text-anchor="middle" font-size="11.6" fill="#000" >−2</text>
<line x1="267.7" y1="143.2" x2="267.7" y2="147.5" stroke="#111" stroke-width="1"/>
<text x="267.7" y="159.9" text-anchor="middle" font-size="11.6" fill="#000" >0</text>
<line x1="333.2" y1="143.2" x2="333.2" y2="147.5" stroke="#111" stroke-width="1"/>
<text x="333.2" y="159.9" text-anchor="middle" font-size="11.6" fill="#000" >2</text>
<line x1="197.9" y1="143.2" x2="202.2" y2="143.2" stroke="#111" stroke-width="1"/>
<text x="193.8" y="147.7" text-anchor="end" font-size="11.6" fill="#000" >−1</text>
<line x1="197.9" y1="102.57" x2="202.2" y2="102.57" stroke="#111" stroke-width="1"/>
<text x="193.8" y="107.07" text-anchor="end" font-size="11.6" fill="#000" >0</text>
<line x1="197.9" y1="61.95" x2="202.2" y2="61.95" stroke="#111" stroke-width="1"/>
<text x="193.8" y="66.45" text-anchor="end" font-size="11.6" fill="#000" >1</text>
<line x1="197.9" y1="21.32" x2="202.2" y2="21.32" stroke="#111" stroke-width="1"/>
<text x="193.8" y="25.82" text-anchor="end" font-size="11.6" fill="#000" >2</text>
<rect x="202.2" y="13.2" width="131" height="130" fill="none" stroke="#000" stroke-width="1"/>
<line x1="344.4" y1="143.2" x2="344.4" y2="147.5" stroke="#111" stroke-width="1"/>
<text x="344.4" y="159.9" text-anchor="middle" font-size="11.6" fill="#000" >−2</text>
<line x1="409.95" y1="143.2" x2="409.95" y2="147.5" stroke="#111" stroke-width="1"/>
<text x="409.95" y="159.9" text-anchor="middle" font-size="11.6" fill="#000" >0</text>
<line x1="475.5" y1="143.2" x2="475.5" y2="147.5" stroke="#111" stroke-width="1"/>
<text x="475.5" y="159.9" text-anchor="middle" font-size="11.6" fill="#000" >2</text>
<rect x="344.4" y="13.2" width="131.1" height="130" fill="none" stroke="#000" stroke-width="1"/>
<line x1="35.1" y1="309.4" x2="35.1" y2="313.7" stroke="#111" stroke-width="1"/>
<text x="35.1" y="326.1" text-anchor="middle" font-size="11.6" fill="#000" >−2</text>
<line x1="100.55" y1="309.4" x2="100.55" y2="313.7" stroke="#111" stroke-width="1"/>
<text x="100.55" y="326.1" text-anchor="middle" font-size="11.6" fill="#000" >0</text>
<line x1="166" y1="309.4" x2="166" y2="313.7" stroke="#111" stroke-width="1"/>
<text x="166" y="326.1" text-anchor="middle" font-size="11.6" fill="#000" >2</text>
<line x1="30.8" y1="309.4" x2="35.1" y2="309.4" stroke="#111" stroke-width="1"/>
<text x="26.7" y="313.9" text-anchor="end" font-size="11.6" fill="#000" >−1</text>
<line x1="30.8" y1="271.05" x2="35.1" y2="271.05" stroke="#111" stroke-width="1"/>
<text x="26.7" y="275.55" text-anchor="end" font-size="11.6" fill="#000" >0</text>
<line x1="30.8" y1="232.69" x2="35.1" y2="232.69" stroke="#111" stroke-width="1"/>
<text x="26.7" y="237.19" text-anchor="end" font-size="11.6" fill="#000" >1</text>
<line x1="30.8" y1="194.34" x2="35.1" y2="194.34" stroke="#111" stroke-width="1"/>
<text x="26.7" y="198.84" text-anchor="end" font-size="11.6" fill="#000" >2</text>
<rect x="35.1" y="179" width="130.9" height="130.4" fill="none" stroke="#000" stroke-width="1"/>
<line x1="202.2" y1="309.4" x2="202.2" y2="313.7" stroke="#111" stroke-width="1"/>
<text x="202.2" y="326.1" text-anchor="middle" font-size="11.6" fill="#000" >−2</text>
<line x1="267.7" y1="309.4" x2="267.7" y2="313.7" stroke="#111" stroke-width="1"/>
<text x="267.7" y="326.1" text-anchor="middle" font-size="11.6" fill="#000" >0</text>
<line x1="333.2" y1="309.4" x2="333.2" y2="313.7" stroke="#111" stroke-width="1"/>
<text x="333.2" y="326.1" text-anchor="middle" font-size="11.6" fill="#000" >2</text>
<line x1="197.9" y1="309.4" x2="202.2" y2="309.4" stroke="#111" stroke-width="1"/>
<text x="193.8" y="313.9" text-anchor="end" font-size="11.6" fill="#000" >−1</text>
<line x1="197.9" y1="268.71" x2="202.2" y2="268.71" stroke="#111" stroke-width="1"/>
<text x="193.8" y="273.21" text-anchor="end" font-size="11.6" fill="#000" >0</text>
<line x1="197.9" y1="228.02" x2="202.2" y2="228.02" stroke="#111" stroke-width="1"/>
<text x="193.8" y="232.52" text-anchor="end" font-size="11.6" fill="#000" >1</text>
<line x1="197.9" y1="187.34" x2="202.2" y2="187.34" stroke="#111" stroke-width="1"/>
<text x="193.8" y="191.84" text-anchor="end" font-size="11.6" fill="#000" >2</text>
<rect x="202.2" y="179.2" width="131" height="130.2" fill="none" stroke="#000" stroke-width="1"/>
<line x1="344.4" y1="309.4" x2="344.4" y2="313.7" stroke="#111" stroke-width="1"/>
<text x="344.4" y="326.1" text-anchor="middle" font-size="11.6" fill="#000" >−2</text>
<line x1="409.95" y1="309.4" x2="409.95" y2="313.7" stroke="#111" stroke-width="1"/>
<text x="409.95" y="326.1" text-anchor="middle" font-size="11.6" fill="#000" >0</text>
<line x1="475.5" y1="309.4" x2="475.5" y2="313.7" stroke="#111" stroke-width="1"/>
<text x="475.5" y="326.1" text-anchor="middle" font-size="11.6" fill="#000" >2</text>
<rect x="344.4" y="179.2" width="131.1" height="130.2" fill="none" stroke="#000" stroke-width="1"/>
<line x1="203.2" y1="51.5" x2="332.2" y2="51.5" stroke="#e8e8e8" stroke-width="1.5" stroke-dasharray="3.2 2"/>
<path d="M202.2,51.5 V13.2 H333.2 V51.5" fill="none" stroke="#fff" stroke-width="0.9" stroke-dasharray="2.4 2.6"/>
<line x1="345.4" y1="51.5" x2="474.5" y2="51.5" stroke="#e8e8e8" stroke-width="1.5" stroke-dasharray="3.2 2"/>
<path d="M344.4,51.5 V13.2 H475.5 V51.5" fill="none" stroke="#fff" stroke-width="0.9" stroke-dasharray="2.4 2.6"/>
<text x="38.3" y="25.4" text-anchor="start" font-size="11.2" fill="#f4f4f4" >(a)</text>
<text x="98.2" y="33.8" text-anchor="middle" font-size="11.5" fill="#f4f4f4" >x300</text>
<text x="205.4" y="25.4" text-anchor="start" font-size="11.2" fill="#f4f4f4" >(c)</text>
<text x="268.2" y="33.8" text-anchor="middle" font-size="11.5" fill="#f4f4f4" >x100</text>
<text x="350.5" y="25.4" text-anchor="start" font-size="11.2" fill="#f4f4f4" >(d)</text>
<text x="410.45" y="33.8" text-anchor="middle" font-size="11.5" fill="#f4f4f4" >x100</text>
<text x="38.3" y="191.2" text-anchor="start" font-size="11.2" fill="#f4f4f4" >(b)</text>
<text x="98.2" y="199.6" text-anchor="middle" font-size="11.5" fill="#f4f4f4" >x100</text>
<text x="205.4" y="191.4" text-anchor="start" font-size="11.2" fill="#f4f4f4" >(e)</text>
<text x="268.2" y="199.8" text-anchor="middle" font-size="11.5" fill="#f4f4f4" >x300</text>
<text x="350.5" y="191.4" text-anchor="start" font-size="11.2" fill="#f4f4f4" >(f)</text>
<text x="410.45" y="199.8" text-anchor="middle" font-size="11.5" fill="#f4f4f4" >x300</text>
<text x="58.01" y="259.5" text-anchor="middle" font-size="11.5" fill="#f0f0f0" >K</text>
<text x="100.55" y="259.5" text-anchor="middle" font-size="11.5" fill="#f0f0f0" >Γ</text>
<text x="143.09" y="259.5" text-anchor="middle" font-size="11.5" fill="#f0f0f0" >K</text>
<text x="100.5" y="8.9" text-anchor="middle" font-size="11.8" fill="#000" >ML MoSe<tspan font-size="8.4" dy="2.3">2</tspan><tspan dy="-2.3">​</tspan></text>
<text x="268" y="8.9" text-anchor="middle" font-size="11.8" fill="#000" >MoSe<tspan font-size="8.4" dy="2.3">2</tspan><tspan dy="-2.3">​</tspan> on WS<tspan font-size="8.4" dy="2.3">2</tspan><tspan dy="-2.3">​</tspan>, 57.7°</text>
<text x="411.8" y="8.9" text-anchor="middle" font-size="11.8" fill="#000" >WS<tspan font-size="8.4" dy="2.3">2</tspan><tspan dy="-2.3">​</tspan><tspan dx="-2.2"> on MoSe</tspan><tspan font-size="8.4" dy="2.3">2</tspan><tspan dy="-2.3">​</tspan>, 59.7°</text>
<text x="101" y="174.4" text-anchor="middle" font-size="11.8" fill="#000" >ML WS<tspan font-size="8.4" dy="2.3">2</tspan><tspan dy="-2.3">​</tspan></text>
<text x="268" y="174.4" text-anchor="middle" font-size="11.8" fill="#000" >MoSe<tspan font-size="8.4" dy="2.3">2</tspan><tspan dy="-2.3">​</tspan> on WS<tspan font-size="8.4" dy="2.3">2</tspan><tspan dy="-2.3">​</tspan>, 40.1°</text>
<text x="411.8" y="174.4" text-anchor="middle" font-size="11.8" fill="#000" >WS<tspan font-size="8.4" dy="2.3">2</tspan><tspan dy="-2.3">​</tspan><tspan dx="-2.2"> on MoSe</tspan><tspan font-size="8.4" dy="2.3">2</tspan><tspan dy="-2.3">​</tspan>, 40.2°</text>
<text x="101.55" y="340" text-anchor="middle" font-size="11.5" fill="#000" >k<tspan font-size="8.0" dy="2.2">X</tspan><tspan dy="-2.2">​</tspan> (Å<tspan font-size="8.0" dy="-4.0">-1</tspan><tspan dy="4.0">​</tspan>)</text>
<text x="268.7" y="340" text-anchor="middle" font-size="11.5" fill="#000" >k<tspan font-size="8.0" dy="2.2">X</tspan><tspan dy="-2.2">​</tspan> (Å<tspan font-size="8.0" dy="-4.0">-1</tspan><tspan dy="4.0">​</tspan>)</text>
<text x="410.95" y="340" text-anchor="middle" font-size="11.5" fill="#000" >k<tspan font-size="8.0" dy="2.2">X</tspan><tspan dy="-2.2">​</tspan> (Å<tspan font-size="8.0" dy="-4.0">-1</tspan><tspan dy="4.0">​</tspan>)</text>
<text transform="translate(10,80) rotate(-90)" text-anchor="middle" font-size="11.8" fill="#000">E-E<tspan font-size="7.6" dy="2.2">VBM</tspan><tspan dy="-2.2">​</tspan> (eV)</text>
<text transform="translate(10,245.5) rotate(-90)" text-anchor="middle" font-size="11.8" fill="#000">E-E<tspan font-size="7.6" dy="2.2">VBM</tspan><tspan dy="-2.2">​</tspan> (eV)</text>
<text transform="translate(180.6,79.7) rotate(-90)" text-anchor="middle" font-size="11.8" fill="#000">E-E<tspan font-size="8.6" dy="2.4">Γ</tspan><tspan dy="-2.4">​</tspan> (eV)</text>
<text transform="translate(180.6,245) rotate(-90)" text-anchor="middle" font-size="11.8" fill="#000">E-E<tspan font-size="8.6" dy="2.4">Γ</tspan><tspan dy="-2.4">​</tspan> (eV)</text>
<line x1="37.8" y1="362.5" x2="37.8" y2="439.2" stroke="#c4c4c4" stroke-width="0.9"/>
<line x1="48.6" y1="362.5" x2="48.6" y2="439.2" stroke="#c4c4c4" stroke-width="0.9"/>
<line x1="59.39" y1="362.5" x2="59.39" y2="439.2" stroke="#c4c4c4" stroke-width="0.9"/>
<line x1="70.19" y1="362.5" x2="70.19" y2="439.2" stroke="#c4c4c4" stroke-width="0.9"/>
<line x1="80.98" y1="362.5" x2="80.98" y2="439.2" stroke="#c4c4c4" stroke-width="0.9"/>
<line x1="91.78" y1="362.5" x2="91.78" y2="439.2" stroke="#c4c4c4" stroke-width="0.9"/>
<line x1="102.58" y1="362.5" x2="102.58" y2="439.2" stroke="#c4c4c4" stroke-width="0.9"/>
<line x1="113.37" y1="362.5" x2="113.37" y2="439.2" stroke="#c4c4c4" stroke-width="0.9"/>
<line x1="124.17" y1="362.5" x2="124.17" y2="439.2" stroke="#c4c4c4" stroke-width="0.9"/>
<line x1="134.96" y1="362.5" x2="134.96" y2="439.2" stroke="#c4c4c4" stroke-width="0.9"/>
<line x1="145.76" y1="362.5" x2="145.76" y2="439.2" stroke="#c4c4c4" stroke-width="0.9"/>
<line x1="156.56" y1="362.5" x2="156.56" y2="439.2" stroke="#c4c4c4" stroke-width="0.9"/>
<line x1="167.35" y1="362.5" x2="167.35" y2="439.2" stroke="#c4c4c4" stroke-width="0.9"/>
<line x1="178.15" y1="362.5" x2="178.15" y2="439.2" stroke="#c4c4c4" stroke-width="0.9"/>
<line x1="188.95" y1="362.5" x2="188.95" y2="439.2" stroke="#c4c4c4" stroke-width="0.9"/>
<line x1="199.74" y1="362.5" x2="199.74" y2="439.2" stroke="#c4c4c4" stroke-width="0.9"/>
<line x1="210.54" y1="362.5" x2="210.54" y2="439.2" stroke="#c4c4c4" stroke-width="0.9"/>
<line x1="221.33" y1="362.5" x2="221.33" y2="439.2" stroke="#c4c4c4" stroke-width="0.9"/>
<line x1="232.13" y1="362.5" x2="232.13" y2="439.2" stroke="#c4c4c4" stroke-width="0.9"/>
<line x1="242.93" y1="362.5" x2="242.93" y2="439.2" stroke="#c4c4c4" stroke-width="0.9"/>
<line x1="253.72" y1="362.5" x2="253.72" y2="439.2" stroke="#c4c4c4" stroke-width="0.9"/>
<line x1="264.52" y1="362.5" x2="264.52" y2="439.2" stroke="#c4c4c4" stroke-width="0.9"/>
<line x1="275.32" y1="362.5" x2="275.32" y2="439.2" stroke="#c4c4c4" stroke-width="0.9"/>
<line x1="286.11" y1="362.5" x2="286.11" y2="439.2" stroke="#c4c4c4" stroke-width="0.9"/>
<line x1="296.91" y1="362.5" x2="296.91" y2="439.2" stroke="#c4c4c4" stroke-width="0.9"/>
<line x1="307.7" y1="362.5" x2="307.7" y2="439.2" stroke="#c4c4c4" stroke-width="0.9"/>
<line x1="318.5" y1="362.5" x2="318.5" y2="439.2" stroke="#c4c4c4" stroke-width="0.9"/>
<line x1="35.1" y1="435.71" x2="318.5" y2="435.71" stroke="#c4c4c4" stroke-width="0.9"/>
<line x1="35.1" y1="428.74" x2="318.5" y2="428.74" stroke="#c4c4c4" stroke-width="0.9"/>
<line x1="35.1" y1="421.77" x2="318.5" y2="421.77" stroke="#c4c4c4" stroke-width="0.9"/>
<line x1="35.1" y1="414.8" x2="318.5" y2="414.8" stroke="#c4c4c4" stroke-width="0.9"/>
<line x1="35.1" y1="407.82" x2="318.5" y2="407.82" stroke="#c4c4c4" stroke-width="0.9"/>
<line x1="35.1" y1="400.85" x2="318.5" y2="400.85" stroke="#c4c4c4" stroke-width="0.9"/>
<line x1="35.1" y1="393.88" x2="318.5" y2="393.88" stroke="#c4c4c4" stroke-width="0.9"/>
<line x1="35.1" y1="386.9" x2="318.5" y2="386.9" stroke="#c4c4c4" stroke-width="0.9"/>
<line x1="35.1" y1="379.93" x2="318.5" y2="379.93" stroke="#c4c4c4" stroke-width="0.9"/>
<line x1="35.1" y1="372.96" x2="318.5" y2="372.96" stroke="#c4c4c4" stroke-width="0.9"/>
<line x1="35.1" y1="365.99" x2="318.5" y2="365.99" stroke="#c4c4c4" stroke-width="0.9"/>
<line x1="37.8" y1="439.2" x2="37.8" y2="441.2" stroke="#000" stroke-width="0.9"/>
<line x1="48.6" y1="439.2" x2="48.6" y2="442.7" stroke="#000" stroke-width="0.9"/>
<text x="48.6" y="452.7" text-anchor="middle" font-size="9.9" fill="#000" >0</text>
<line x1="59.39" y1="439.2" x2="59.39" y2="441.2" stroke="#000" stroke-width="0.9"/>
<line x1="70.19" y1="439.2" x2="70.19" y2="441.2" stroke="#000" stroke-width="0.9"/>
<line x1="80.98" y1="439.2" x2="80.98" y2="441.2" stroke="#000" stroke-width="0.9"/>
<line x1="91.78" y1="439.2" x2="91.78" y2="441.2" stroke="#000" stroke-width="0.9"/>
<line x1="102.58" y1="439.2" x2="102.58" y2="442.7" stroke="#000" stroke-width="0.9"/>
<text x="102.58" y="452.7" text-anchor="middle" font-size="9.9" fill="#000" >10</text>
<line x1="113.37" y1="439.2" x2="113.37" y2="441.2" stroke="#000" stroke-width="0.9"/>
<line x1="124.17" y1="439.2" x2="124.17" y2="441.2" stroke="#000" stroke-width="0.9"/>
<line x1="134.96" y1="439.2" x2="134.96" y2="441.2" stroke="#000" stroke-width="0.9"/>
<line x1="145.76" y1="439.2" x2="145.76" y2="441.2" stroke="#000" stroke-width="0.9"/>
<line x1="156.56" y1="439.2" x2="156.56" y2="442.7" stroke="#000" stroke-width="0.9"/>
<text x="156.56" y="452.7" text-anchor="middle" font-size="9.9" fill="#000" >20</text>
<line x1="167.35" y1="439.2" x2="167.35" y2="441.2" stroke="#000" stroke-width="0.9"/>
<line x1="178.15" y1="439.2" x2="178.15" y2="441.2" stroke="#000" stroke-width="0.9"/>
<line x1="188.95" y1="439.2" x2="188.95" y2="441.2" stroke="#000" stroke-width="0.9"/>
<line x1="199.74" y1="439.2" x2="199.74" y2="441.2" stroke="#000" stroke-width="0.9"/>
<line x1="210.54" y1="439.2" x2="210.54" y2="442.7" stroke="#000" stroke-width="0.9"/>
<text x="210.54" y="452.7" text-anchor="middle" font-size="9.9" fill="#000" >30</text>
<line x1="221.33" y1="439.2" x2="221.33" y2="441.2" stroke="#000" stroke-width="0.9"/>
<line x1="232.13" y1="439.2" x2="232.13" y2="441.2" stroke="#000" stroke-width="0.9"/>
<line x1="242.93" y1="439.2" x2="242.93" y2="441.2" stroke="#000" stroke-width="0.9"/>
<line x1="253.72" y1="439.2" x2="253.72" y2="441.2" stroke="#000" stroke-width="0.9"/>
<line x1="264.52" y1="439.2" x2="264.52" y2="442.7" stroke="#000" stroke-width="0.9"/>
<text x="264.52" y="452.7" text-anchor="middle" font-size="9.9" fill="#000" >40</text>
<line x1="275.32" y1="439.2" x2="275.32" y2="441.2" stroke="#000" stroke-width="0.9"/>
<line x1="286.11" y1="439.2" x2="286.11" y2="441.2" stroke="#000" stroke-width="0.9"/>
<line x1="296.91" y1="439.2" x2="296.91" y2="441.2" stroke="#000" stroke-width="0.9"/>
<line x1="307.7" y1="439.2" x2="307.7" y2="441.2" stroke="#000" stroke-width="0.9"/>
<line x1="318.5" y1="439.2" x2="318.5" y2="442.7" stroke="#000" stroke-width="0.9"/>
<text x="318.5" y="452.7" text-anchor="middle" font-size="9.9" fill="#000" >50</text>
<line x1="31.6" y1="435.71" x2="35.1" y2="435.71" stroke="#000" stroke-width="0.9"/>
<text x="28.7" y="439.26" text-anchor="end" font-size="9.9" fill="#000" >0.0</text>
<line x1="33.1" y1="428.74" x2="35.1" y2="428.74" stroke="#000" stroke-width="0.9"/>
<line x1="33.1" y1="421.77" x2="35.1" y2="421.77" stroke="#000" stroke-width="0.9"/>
<line x1="33.1" y1="414.8" x2="35.1" y2="414.8" stroke="#000" stroke-width="0.9"/>
<line x1="33.1" y1="407.82" x2="35.1" y2="407.82" stroke="#000" stroke-width="0.9"/>
<line x1="31.6" y1="400.85" x2="35.1" y2="400.85" stroke="#000" stroke-width="0.9"/>
<text x="28.7" y="404.4" text-anchor="end" font-size="9.9" fill="#000" >0.5</text>
<line x1="33.1" y1="393.88" x2="35.1" y2="393.88" stroke="#000" stroke-width="0.9"/>
<line x1="33.1" y1="386.9" x2="35.1" y2="386.9" stroke="#000" stroke-width="0.9"/>
<line x1="33.1" y1="379.93" x2="35.1" y2="379.93" stroke="#000" stroke-width="0.9"/>
<line x1="33.1" y1="372.96" x2="35.1" y2="372.96" stroke="#000" stroke-width="0.9"/>
<line x1="31.6" y1="365.99" x2="35.1" y2="365.99" stroke="#000" stroke-width="0.9"/>
<text x="28.7" y="369.54" text-anchor="end" font-size="9.9" fill="#000" >1.0</text>
<line x1="347.6" y1="362.5" x2="347.6" y2="439.2" stroke="#c4c4c4" stroke-width="0.9"/>
<line x1="358.39" y1="362.5" x2="358.39" y2="439.2" stroke="#c4c4c4" stroke-width="0.9"/>
<line x1="369.17" y1="362.5" x2="369.17" y2="439.2" stroke="#c4c4c4" stroke-width="0.9"/>
<line x1="379.96" y1="362.5" x2="379.96" y2="439.2" stroke="#c4c4c4" stroke-width="0.9"/>
<line x1="390.75" y1="362.5" x2="390.75" y2="439.2" stroke="#c4c4c4" stroke-width="0.9"/>
<line x1="401.54" y1="362.5" x2="401.54" y2="439.2" stroke="#c4c4c4" stroke-width="0.9"/>
<line x1="412.33" y1="362.5" x2="412.33" y2="439.2" stroke="#c4c4c4" stroke-width="0.9"/>
<line x1="423.12" y1="362.5" x2="423.12" y2="439.2" stroke="#c4c4c4" stroke-width="0.9"/>
<line x1="433.91" y1="362.5" x2="433.91" y2="439.2" stroke="#c4c4c4" stroke-width="0.9"/>
<line x1="444.69" y1="362.5" x2="444.69" y2="439.2" stroke="#c4c4c4" stroke-width="0.9"/>
<line x1="455.48" y1="362.5" x2="455.48" y2="439.2" stroke="#c4c4c4" stroke-width="0.9"/>
<line x1="466.27" y1="362.5" x2="466.27" y2="439.2" stroke="#c4c4c4" stroke-width="0.9"/>
<line x1="477.06" y1="362.5" x2="477.06" y2="439.2" stroke="#c4c4c4" stroke-width="0.9"/>
<line x1="487.85" y1="362.5" x2="487.85" y2="439.2" stroke="#c4c4c4" stroke-width="0.9"/>
<line x1="498.64" y1="362.5" x2="498.64" y2="439.2" stroke="#c4c4c4" stroke-width="0.9"/>
<line x1="509.43" y1="362.5" x2="509.43" y2="439.2" stroke="#c4c4c4" stroke-width="0.9"/>
<line x1="520.21" y1="362.5" x2="520.21" y2="439.2" stroke="#c4c4c4" stroke-width="0.9"/>
<line x1="531" y1="362.5" x2="531" y2="439.2" stroke="#c4c4c4" stroke-width="0.9"/>
<line x1="541.79" y1="362.5" x2="541.79" y2="439.2" stroke="#c4c4c4" stroke-width="0.9"/>
<line x1="552.58" y1="362.5" x2="552.58" y2="439.2" stroke="#c4c4c4" stroke-width="0.9"/>
<line x1="563.37" y1="362.5" x2="563.37" y2="439.2" stroke="#c4c4c4" stroke-width="0.9"/>
<line x1="574.16" y1="362.5" x2="574.16" y2="439.2" stroke="#c4c4c4" stroke-width="0.9"/>
<line x1="584.95" y1="362.5" x2="584.95" y2="439.2" stroke="#c4c4c4" stroke-width="0.9"/>
<line x1="595.73" y1="362.5" x2="595.73" y2="439.2" stroke="#c4c4c4" stroke-width="0.9"/>
<line x1="606.52" y1="362.5" x2="606.52" y2="439.2" stroke="#c4c4c4" stroke-width="0.9"/>
<line x1="617.31" y1="362.5" x2="617.31" y2="439.2" stroke="#c4c4c4" stroke-width="0.9"/>
<line x1="628.1" y1="362.5" x2="628.1" y2="439.2" stroke="#c4c4c4" stroke-width="0.9"/>
<line x1="344.9" y1="435.71" x2="628.1" y2="435.71" stroke="#c4c4c4" stroke-width="0.9"/>
<line x1="344.9" y1="428.74" x2="628.1" y2="428.74" stroke="#c4c4c4" stroke-width="0.9"/>
<line x1="344.9" y1="421.77" x2="628.1" y2="421.77" stroke="#c4c4c4" stroke-width="0.9"/>
<line x1="344.9" y1="414.8" x2="628.1" y2="414.8" stroke="#c4c4c4" stroke-width="0.9"/>
<line x1="344.9" y1="407.82" x2="628.1" y2="407.82" stroke="#c4c4c4" stroke-width="0.9"/>
<line x1="344.9" y1="400.85" x2="628.1" y2="400.85" stroke="#c4c4c4" stroke-width="0.9"/>
<line x1="344.9" y1="393.88" x2="628.1" y2="393.88" stroke="#c4c4c4" stroke-width="0.9"/>
<line x1="344.9" y1="386.9" x2="628.1" y2="386.9" stroke="#c4c4c4" stroke-width="0.9"/>
<line x1="344.9" y1="379.93" x2="628.1" y2="379.93" stroke="#c4c4c4" stroke-width="0.9"/>
<line x1="344.9" y1="372.96" x2="628.1" y2="372.96" stroke="#c4c4c4" stroke-width="0.9"/>
<line x1="344.9" y1="365.99" x2="628.1" y2="365.99" stroke="#c4c4c4" stroke-width="0.9"/>
<line x1="347.6" y1="439.2" x2="347.6" y2="441.2" stroke="#000" stroke-width="0.9"/>
<line x1="358.39" y1="439.2" x2="358.39" y2="442.7" stroke="#000" stroke-width="0.9"/>
<text x="358.39" y="452.7" text-anchor="middle" font-size="9.9" fill="#000" >0</text>
<line x1="369.17" y1="439.2" x2="369.17" y2="441.2" stroke="#000" stroke-width="0.9"/>
<line x1="379.96" y1="439.2" x2="379.96" y2="441.2" stroke="#000" stroke-width="0.9"/>
<line x1="390.75" y1="439.2" x2="390.75" y2="441.2" stroke="#000" stroke-width="0.9"/>
<line x1="401.54" y1="439.2" x2="401.54" y2="441.2" stroke="#000" stroke-width="0.9"/>
<line x1="412.33" y1="439.2" x2="412.33" y2="442.7" stroke="#000" stroke-width="0.9"/>
<text x="412.33" y="452.7" text-anchor="middle" font-size="9.9" fill="#000" >10</text>
<line x1="423.12" y1="439.2" x2="423.12" y2="441.2" stroke="#000" stroke-width="0.9"/>
<line x1="433.91" y1="439.2" x2="433.91" y2="441.2" stroke="#000" stroke-width="0.9"/>
<line x1="444.69" y1="439.2" x2="444.69" y2="441.2" stroke="#000" stroke-width="0.9"/>
<line x1="455.48" y1="439.2" x2="455.48" y2="441.2" stroke="#000" stroke-width="0.9"/>
<line x1="466.27" y1="439.2" x2="466.27" y2="442.7" stroke="#000" stroke-width="0.9"/>
<text x="466.27" y="452.7" text-anchor="middle" font-size="9.9" fill="#000" >20</text>
<line x1="477.06" y1="439.2" x2="477.06" y2="441.2" stroke="#000" stroke-width="0.9"/>
<line x1="487.85" y1="439.2" x2="487.85" y2="441.2" stroke="#000" stroke-width="0.9"/>
<line x1="498.64" y1="439.2" x2="498.64" y2="441.2" stroke="#000" stroke-width="0.9"/>
<line x1="509.43" y1="439.2" x2="509.43" y2="441.2" stroke="#000" stroke-width="0.9"/>
<line x1="520.21" y1="439.2" x2="520.21" y2="442.7" stroke="#000" stroke-width="0.9"/>
<text x="520.21" y="452.7" text-anchor="middle" font-size="9.9" fill="#000" >30</text>
<line x1="531" y1="439.2" x2="531" y2="441.2" stroke="#000" stroke-width="0.9"/>
<line x1="541.79" y1="439.2" x2="541.79" y2="441.2" stroke="#000" stroke-width="0.9"/>
<line x1="552.58" y1="439.2" x2="552.58" y2="441.2" stroke="#000" stroke-width="0.9"/>
<line x1="563.37" y1="439.2" x2="563.37" y2="441.2" stroke="#000" stroke-width="0.9"/>
<line x1="574.16" y1="439.2" x2="574.16" y2="442.7" stroke="#000" stroke-width="0.9"/>
<text x="574.16" y="452.7" text-anchor="middle" font-size="9.9" fill="#000" >40</text>
<line x1="584.95" y1="439.2" x2="584.95" y2="441.2" stroke="#000" stroke-width="0.9"/>
<line x1="595.73" y1="439.2" x2="595.73" y2="441.2" stroke="#000" stroke-width="0.9"/>
<line x1="606.52" y1="439.2" x2="606.52" y2="441.2" stroke="#000" stroke-width="0.9"/>
<line x1="617.31" y1="439.2" x2="617.31" y2="441.2" stroke="#000" stroke-width="0.9"/>
<line x1="628.1" y1="439.2" x2="628.1" y2="442.7" stroke="#000" stroke-width="0.9"/>
<text x="628.1" y="452.7" text-anchor="middle" font-size="9.9" fill="#000" >50</text>
<line x1="341.4" y1="435.71" x2="344.9" y2="435.71" stroke="#000" stroke-width="0.9"/>
<text x="338.5" y="439.26" text-anchor="end" font-size="9.9" fill="#000" >0.0</text>
<line x1="342.9" y1="428.74" x2="344.9" y2="428.74" stroke="#000" stroke-width="0.9"/>
<line x1="342.9" y1="421.77" x2="344.9" y2="421.77" stroke="#000" stroke-width="0.9"/>
<line x1="342.9" y1="414.8" x2="344.9" y2="414.8" stroke="#000" stroke-width="0.9"/>
<line x1="342.9" y1="407.82" x2="344.9" y2="407.82" stroke="#000" stroke-width="0.9"/>
<line x1="341.4" y1="400.85" x2="344.9" y2="400.85" stroke="#000" stroke-width="0.9"/>
<text x="338.5" y="404.4" text-anchor="end" font-size="9.9" fill="#000" >0.5</text>
<line x1="342.9" y1="393.88" x2="344.9" y2="393.88" stroke="#000" stroke-width="0.9"/>
<line x1="342.9" y1="386.9" x2="344.9" y2="386.9" stroke="#000" stroke-width="0.9"/>
<line x1="342.9" y1="379.93" x2="344.9" y2="379.93" stroke="#000" stroke-width="0.9"/>
<line x1="342.9" y1="372.96" x2="344.9" y2="372.96" stroke="#000" stroke-width="0.9"/>
<line x1="341.4" y1="365.99" x2="344.9" y2="365.99" stroke="#000" stroke-width="0.9"/>
<text x="338.5" y="369.54" text-anchor="end" font-size="9.9" fill="#000" >1.0</text>
<clipPath id="cg"><rect x="35.1" y="362.5" width="283.4" height="76.7"/></clipPath>
<clipPath id="ch"><rect x="344.9" y="362.5" width="283.2" height="76.7"/></clipPath>
<g clip-path="url(#cg)">
<polyline points="35.1,434.88 45.36,435.71 48.33,365.99 51.29,393.88 55.61,402.24 62.09,407.13 75.59,412.01 86.38,414.1 102.58,416.19 118.77,420.02 129.57,422.47 153.86,422.47 180.85,425.39 207.84,424.07 259.12,427.69 318.5,428.39" fill="none" stroke="#d62728" stroke-width="1.55" stroke-linejoin="round" stroke-dasharray="4.9 2.4"/>
<polyline points="35.1,435.02 46.98,435.02 48.6,365.99 51.83,379.93 60.47,385.51 70.19,393.18 86.38,399.46 102.58,402.94 121.47,403.29 134.96,404.34 156.56,405.38 183.55,409.43 207.84,408.66 253.72,411.66 318.5,412.36" fill="none" stroke="#1f77b4" stroke-width="1.55" stroke-linejoin="round" stroke-dasharray="4.9 2.4"/>
<polyline points="35.1,430.83 45.36,435.71 48.06,365.99 50.38,389.69 53.99,398.76 60.47,403.64 72.35,409.22 85.84,413.4 102.58,414.8 119.85,416.54 134.96,417.58 154.94,419.47 186.79,419.96 236.99,422.05 318.5,422.47" fill="none" stroke="#d62728" stroke-width="1.85" stroke-linejoin="round"/>
<polyline points="35.1,435.02 42.12,434.32 46.98,435.71 48.6,365.99 51.29,383.42 57.23,390.39 63.17,400.85 73.97,407.13 88,414.8 101.5,412.36 119.85,413.61 134.42,414.8 155.48,418.98" fill="none" stroke="#1f77b4" stroke-width="1.85" stroke-linejoin="round"/>
</g><g clip-path="url(#ch)">
<polyline points="344.9,434.88 355.15,435.71 358.12,365.99 361.08,393.88 365.4,402.24 371.87,407.13 385.36,412.01 396.15,414.1 412.33,416.19 428.51,420.02 439.3,422.47 463.57,422.47 490.55,425.39 517.52,424.07 568.76,427.69 628.1,428.39" fill="none" stroke="#d62728" stroke-width="1.55" stroke-linejoin="round" stroke-dasharray="4.9 2.4"/>
<polyline points="344.9,435.02 356.77,435.02 358.39,365.99 361.62,379.93 370.25,385.51 379.96,393.18 396.15,399.46 412.33,402.94 431.21,403.29 444.69,404.34 466.27,405.38 493.24,409.43 517.52,408.66 563.37,411.66 628.1,412.36" fill="none" stroke="#1f77b4" stroke-width="1.55" stroke-linejoin="round" stroke-dasharray="4.9 2.4"/>
<polyline points="344.9,434.81 353.53,435.02 355.69,428.74 358.6,365.99 361.41,399.46 370.58,410.61 383.74,416.89 411.79,423.37 439.84,425.05 495.4,428.81 628.1,432.44" fill="none" stroke="#d62728" stroke-width="1.85" stroke-linejoin="round"/>
<polyline points="352.45,433.62 354.07,435.02 355.69,433.62 357.31,365.99 360.27,425.25 361.08,418.28 363.56,424.56 368.85,425.25 373.87,430.83 385.36,428.04" fill="none" stroke="#1f77b4" stroke-width="1.85" stroke-linejoin="round"/>
</g>
<rect x="35.1" y="362.5" width="283.4" height="76.7" fill="none" stroke="#000" stroke-width="1"/>
<text x="176.8" y="467.2" text-anchor="middle" font-size="11.8" fill="#000" >Time Delay (ps)</text>
<rect x="344.9" y="362.5" width="283.2" height="76.7" fill="none" stroke="#000" stroke-width="1"/>
<text x="486.5" y="467.2" text-anchor="middle" font-size="11.8" fill="#000" >Time Delay (ps)</text>
<text x="170.8" y="358.6" text-anchor="middle" font-size="11.9" fill="#000" >Near 60° Twist Angle</text>
<text x="480" y="358.6" text-anchor="middle" font-size="11.9" fill="#000" >Near 40° Twist Angle</text>
<text x="35.4" y="355.3" text-anchor="start" font-size="11.6" fill="#000" >(g)</text>
<text x="344.2" y="355.3" text-anchor="start" font-size="11.6" fill="#000" >(h)</text>
<text transform="translate(9.2,398.0) rotate(-90)" text-anchor="middle" font-size="11.7" fill="#000">Intensity (a.u.)</text>
<rect x="517.7" y="367.3" width="105" height="64" rx="2" fill="#fff" fill-opacity="0.8" stroke="#d0d0d0" stroke-width="0.8"/>
<line x1="520.7" y1="376" x2="541.5" y2="376" stroke="#d62728" stroke-width="1.6" stroke-dasharray="4.9 2.4"/>
<text x="549.9" y="379.9" text-anchor="start" font-size="10.4" fill="#000" >ML MoSe<tspan font-size="7.6" dy="2.1">2</tspan><tspan dy="-2.1">​</tspan></text>
<line x1="520.7" y1="391.4" x2="541.5" y2="391.4" stroke="#1f77b4" stroke-width="1.6" stroke-dasharray="4.9 2.4"/>
<text x="549.9" y="395.3" text-anchor="start" font-size="10.4" fill="#000" >ML WS<tspan font-size="7.6" dy="2.1">2</tspan><tspan dy="-2.1">​</tspan></text>
<line x1="520.7" y1="406.8" x2="541.5" y2="406.8" stroke="#d62728" stroke-width="2.0"/>
<text x="549.9" y="410.7" text-anchor="start" font-size="10.4" fill="#000" >MoSe<tspan font-size="7.6" dy="2.1">2</tspan><tspan dy="-2.1">​</tspan> on WS<tspan font-size="7.6" dy="2.1">2</tspan><tspan dy="-2.1">​</tspan></text>
<line x1="520.7" y1="422.2" x2="541.5" y2="422.2" stroke="#1f77b4" stroke-width="2.0"/>
<text x="549.9" y="426.1" text-anchor="start" font-size="10.4" fill="#000" >WS<tspan font-size="7.6" dy="2.1">2</tspan><tspan dy="-2.1">​</tspan> on MoSe<tspan font-size="7.6" dy="2.1">2</tspan><tspan dy="-2.1">​</tspan></text>
<line x1="534.18" y1="73.2" x2="534.18" y2="242.6" stroke="#c4c4c4" stroke-width="0.9"/>
<line x1="544.16" y1="73.2" x2="544.16" y2="242.6" stroke="#c4c4c4" stroke-width="0.9"/>
<line x1="554.15" y1="73.2" x2="554.15" y2="242.6" stroke="#c4c4c4" stroke-width="0.9"/>
<line x1="564.13" y1="73.2" x2="564.13" y2="242.6" stroke="#c4c4c4" stroke-width="0.9"/>
<line x1="574.11" y1="73.2" x2="574.11" y2="242.6" stroke="#c4c4c4" stroke-width="0.9"/>
<line x1="584.1" y1="73.2" x2="584.1" y2="242.6" stroke="#c4c4c4" stroke-width="0.9"/>
<line x1="594.08" y1="73.2" x2="594.08" y2="242.6" stroke="#c4c4c4" stroke-width="0.9"/>
<line x1="604.06" y1="73.2" x2="604.06" y2="242.6" stroke="#c4c4c4" stroke-width="0.9"/>
<line x1="614.04" y1="73.2" x2="614.04" y2="242.6" stroke="#c4c4c4" stroke-width="0.9"/>
<line x1="624.03" y1="73.2" x2="624.03" y2="242.6" stroke="#c4c4c4" stroke-width="0.9"/>
<line x1="634.01" y1="73.2" x2="634.01" y2="242.6" stroke="#c4c4c4" stroke-width="0.9"/>
<line x1="523.8" y1="242.6" x2="639.6" y2="242.6" stroke="#c4c4c4" stroke-width="0.9"/>
<line x1="523.8" y1="238.36" x2="639.6" y2="238.36" stroke="#c4c4c4" stroke-width="0.9"/>
<line x1="523.8" y1="234.13" x2="639.6" y2="234.13" stroke="#c4c4c4" stroke-width="0.9"/>
<line x1="523.8" y1="229.89" x2="639.6" y2="229.89" stroke="#c4c4c4" stroke-width="0.9"/>
<line x1="523.8" y1="225.66" x2="639.6" y2="225.66" stroke="#c4c4c4" stroke-width="0.9"/>
<line x1="523.8" y1="221.42" x2="639.6" y2="221.42" stroke="#c4c4c4" stroke-width="0.9"/>
<line x1="523.8" y1="217.19" x2="639.6" y2="217.19" stroke="#c4c4c4" stroke-width="0.9"/>
<line x1="523.8" y1="212.95" x2="639.6" y2="212.95" stroke="#c4c4c4" stroke-width="0.9"/>
<line x1="523.8" y1="208.72" x2="639.6" y2="208.72" stroke="#c4c4c4" stroke-width="0.9"/>
<line x1="523.8" y1="204.49" x2="639.6" y2="204.49" stroke="#c4c4c4" stroke-width="0.9"/>
<line x1="523.8" y1="200.25" x2="639.6" y2="200.25" stroke="#c4c4c4" stroke-width="0.9"/>
<line x1="523.8" y1="196.01" x2="639.6" y2="196.01" stroke="#c4c4c4" stroke-width="0.9"/>
<line x1="523.8" y1="191.78" x2="639.6" y2="191.78" stroke="#c4c4c4" stroke-width="0.9"/>
<line x1="523.8" y1="187.55" x2="639.6" y2="187.55" stroke="#c4c4c4" stroke-width="0.9"/>
<line x1="523.8" y1="183.31" x2="639.6" y2="183.31" stroke="#c4c4c4" stroke-width="0.9"/>
<line x1="523.8" y1="179.07" x2="639.6" y2="179.07" stroke="#c4c4c4" stroke-width="0.9"/>
<line x1="523.8" y1="174.84" x2="639.6" y2="174.84" stroke="#c4c4c4" stroke-width="0.9"/>
<line x1="523.8" y1="170.6" x2="639.6" y2="170.6" stroke="#c4c4c4" stroke-width="0.9"/>
<line x1="523.8" y1="166.37" x2="639.6" y2="166.37" stroke="#c4c4c4" stroke-width="0.9"/>
<line x1="523.8" y1="162.13" x2="639.6" y2="162.13" stroke="#c4c4c4" stroke-width="0.9"/>
<line x1="523.8" y1="157.9" x2="639.6" y2="157.9" stroke="#c4c4c4" stroke-width="0.9"/>
<line x1="523.8" y1="153.67" x2="639.6" y2="153.67" stroke="#c4c4c4" stroke-width="0.9"/>
<line x1="523.8" y1="149.43" x2="639.6" y2="149.43" stroke="#c4c4c4" stroke-width="0.9"/>
<line x1="523.8" y1="145.19" x2="639.6" y2="145.19" stroke="#c4c4c4" stroke-width="0.9"/>
<line x1="523.8" y1="140.96" x2="639.6" y2="140.96" stroke="#c4c4c4" stroke-width="0.9"/>
<line x1="523.8" y1="136.72" x2="639.6" y2="136.72" stroke="#c4c4c4" stroke-width="0.9"/>
<line x1="523.8" y1="132.49" x2="639.6" y2="132.49" stroke="#c4c4c4" stroke-width="0.9"/>
<line x1="523.8" y1="128.25" x2="639.6" y2="128.25" stroke="#c4c4c4" stroke-width="0.9"/>
<line x1="523.8" y1="124.02" x2="639.6" y2="124.02" stroke="#c4c4c4" stroke-width="0.9"/>
<line x1="523.8" y1="119.79" x2="639.6" y2="119.79" stroke="#c4c4c4" stroke-width="0.9"/>
<line x1="523.8" y1="115.55" x2="639.6" y2="115.55" stroke="#c4c4c4" stroke-width="0.9"/>
<line x1="523.8" y1="111.32" x2="639.6" y2="111.32" stroke="#c4c4c4" stroke-width="0.9"/>
<line x1="523.8" y1="107.08" x2="639.6" y2="107.08" stroke="#c4c4c4" stroke-width="0.9"/>
<line x1="523.8" y1="102.85" x2="639.6" y2="102.85" stroke="#c4c4c4" stroke-width="0.9"/>
<line x1="523.8" y1="98.61" x2="639.6" y2="98.61" stroke="#c4c4c4" stroke-width="0.9"/>
<line x1="523.8" y1="94.38" x2="639.6" y2="94.38" stroke="#c4c4c4" stroke-width="0.9"/>
<line x1="523.8" y1="90.14" x2="639.6" y2="90.14" stroke="#c4c4c4" stroke-width="0.9"/>
<line x1="523.8" y1="85.91" x2="639.6" y2="85.91" stroke="#c4c4c4" stroke-width="0.9"/>
<line x1="523.8" y1="81.67" x2="639.6" y2="81.67" stroke="#c4c4c4" stroke-width="0.9"/>
<line x1="523.8" y1="77.44" x2="639.6" y2="77.44" stroke="#c4c4c4" stroke-width="0.9"/>
<line x1="523.8" y1="73.2" x2="639.6" y2="73.2" stroke="#c4c4c4" stroke-width="0.9"/>
<line x1="534.18" y1="242.6" x2="534.18" y2="246.1" stroke="#000" stroke-width="0.9"/>
<text x="534.18" y="257.6" text-anchor="middle" font-size="9.9" fill="#000" >0.0</text>
<line x1="544.16" y1="242.6" x2="544.16" y2="244.6" stroke="#000" stroke-width="0.9"/>
<line x1="554.15" y1="242.6" x2="554.15" y2="244.6" stroke="#000" stroke-width="0.9"/>
<line x1="564.13" y1="242.6" x2="564.13" y2="244.6" stroke="#000" stroke-width="0.9"/>
<line x1="574.11" y1="242.6" x2="574.11" y2="244.6" stroke="#000" stroke-width="0.9"/>
<line x1="584.1" y1="242.6" x2="584.1" y2="246.1" stroke="#000" stroke-width="0.9"/>
<text x="584.1" y="257.6" text-anchor="middle" font-size="9.9" fill="#000" >0.5</text>
<line x1="594.08" y1="242.6" x2="594.08" y2="244.6" stroke="#000" stroke-width="0.9"/>
<line x1="604.06" y1="242.6" x2="604.06" y2="244.6" stroke="#000" stroke-width="0.9"/>
<line x1="614.04" y1="242.6" x2="614.04" y2="244.6" stroke="#000" stroke-width="0.9"/>
<line x1="624.03" y1="242.6" x2="624.03" y2="244.6" stroke="#000" stroke-width="0.9"/>
<line x1="634.01" y1="242.6" x2="634.01" y2="246.1" stroke="#000" stroke-width="0.9"/>
<text x="634.01" y="257.6" text-anchor="middle" font-size="9.9" fill="#000" >1.0</text>
<line x1="520.3" y1="242.6" x2="523.8" y2="242.6" stroke="#000" stroke-width="0.9"/>
<text x="517.8" y="246.15" text-anchor="end" font-size="9.9" fill="#000" >1.3</text>
<line x1="521.8" y1="238.36" x2="523.8" y2="238.36" stroke="#000" stroke-width="0.9"/>
<line x1="521.8" y1="234.13" x2="523.8" y2="234.13" stroke="#000" stroke-width="0.9"/>
<line x1="521.8" y1="229.89" x2="523.8" y2="229.89" stroke="#000" stroke-width="0.9"/>
<line x1="521.8" y1="225.66" x2="523.8" y2="225.66" stroke="#000" stroke-width="0.9"/>
<line x1="520.3" y1="221.42" x2="523.8" y2="221.42" stroke="#000" stroke-width="0.9"/>
<text x="517.8" y="224.97" text-anchor="end" font-size="9.9" fill="#000" >1.4</text>
<line x1="521.8" y1="217.19" x2="523.8" y2="217.19" stroke="#000" stroke-width="0.9"/>
<line x1="521.8" y1="212.95" x2="523.8" y2="212.95" stroke="#000" stroke-width="0.9"/>
<line x1="521.8" y1="208.72" x2="523.8" y2="208.72" stroke="#000" stroke-width="0.9"/>
<line x1="521.8" y1="204.49" x2="523.8" y2="204.49" stroke="#000" stroke-width="0.9"/>
<line x1="520.3" y1="200.25" x2="523.8" y2="200.25" stroke="#000" stroke-width="0.9"/>
<text x="517.8" y="203.8" text-anchor="end" font-size="9.9" fill="#000" >1.5</text>
<line x1="521.8" y1="196.01" x2="523.8" y2="196.01" stroke="#000" stroke-width="0.9"/>
<line x1="521.8" y1="191.78" x2="523.8" y2="191.78" stroke="#000" stroke-width="0.9"/>
<line x1="521.8" y1="187.55" x2="523.8" y2="187.55" stroke="#000" stroke-width="0.9"/>
<line x1="521.8" y1="183.31" x2="523.8" y2="183.31" stroke="#000" stroke-width="0.9"/>
<line x1="520.3" y1="179.07" x2="523.8" y2="179.07" stroke="#000" stroke-width="0.9"/>
<text x="517.8" y="182.62" text-anchor="end" font-size="9.9" fill="#000" >1.6</text>
<line x1="521.8" y1="174.84" x2="523.8" y2="174.84" stroke="#000" stroke-width="0.9"/>
<line x1="521.8" y1="170.6" x2="523.8" y2="170.6" stroke="#000" stroke-width="0.9"/>
<line x1="521.8" y1="166.37" x2="523.8" y2="166.37" stroke="#000" stroke-width="0.9"/>
<line x1="521.8" y1="162.13" x2="523.8" y2="162.13" stroke="#000" stroke-width="0.9"/>
<line x1="520.3" y1="157.9" x2="523.8" y2="157.9" stroke="#000" stroke-width="0.9"/>
<text x="517.8" y="161.45" text-anchor="end" font-size="9.9" fill="#000" >1.7</text>
<line x1="521.8" y1="153.67" x2="523.8" y2="153.67" stroke="#000" stroke-width="0.9"/>
<line x1="521.8" y1="149.43" x2="523.8" y2="149.43" stroke="#000" stroke-width="0.9"/>
<line x1="521.8" y1="145.19" x2="523.8" y2="145.19" stroke="#000" stroke-width="0.9"/>
<line x1="521.8" y1="140.96" x2="523.8" y2="140.96" stroke="#000" stroke-width="0.9"/>
<line x1="520.3" y1="136.72" x2="523.8" y2="136.72" stroke="#000" stroke-width="0.9"/>
<text x="517.8" y="140.28" text-anchor="end" font-size="9.9" fill="#000" >1.8</text>
<line x1="521.8" y1="132.49" x2="523.8" y2="132.49" stroke="#000" stroke-width="0.9"/>
<line x1="521.8" y1="128.25" x2="523.8" y2="128.25" stroke="#000" stroke-width="0.9"/>
<line x1="521.8" y1="124.02" x2="523.8" y2="124.02" stroke="#000" stroke-width="0.9"/>
<line x1="521.8" y1="119.79" x2="523.8" y2="119.79" stroke="#000" stroke-width="0.9"/>
<line x1="520.3" y1="115.55" x2="523.8" y2="115.55" stroke="#000" stroke-width="0.9"/>
<text x="517.8" y="119.1" text-anchor="end" font-size="9.9" fill="#000" >1.9</text>
<line x1="521.8" y1="111.32" x2="523.8" y2="111.32" stroke="#000" stroke-width="0.9"/>
<line x1="521.8" y1="107.08" x2="523.8" y2="107.08" stroke="#000" stroke-width="0.9"/>
<line x1="521.8" y1="102.85" x2="523.8" y2="102.85" stroke="#000" stroke-width="0.9"/>
<line x1="521.8" y1="98.61" x2="523.8" y2="98.61" stroke="#000" stroke-width="0.9"/>
<line x1="520.3" y1="94.38" x2="523.8" y2="94.38" stroke="#000" stroke-width="0.9"/>
<text x="517.8" y="97.93" text-anchor="end" font-size="9.9" fill="#000" >2.0</text>
<line x1="521.8" y1="90.14" x2="523.8" y2="90.14" stroke="#000" stroke-width="0.9"/>
<line x1="521.8" y1="85.91" x2="523.8" y2="85.91" stroke="#000" stroke-width="0.9"/>
<line x1="521.8" y1="81.67" x2="523.8" y2="81.67" stroke="#000" stroke-width="0.9"/>
<line x1="521.8" y1="77.44" x2="523.8" y2="77.44" stroke="#000" stroke-width="0.9"/>
<line x1="520.3" y1="73.2" x2="523.8" y2="73.2" stroke="#000" stroke-width="0.9"/>
<text x="517.8" y="76.75" text-anchor="end" font-size="9.9" fill="#000" >2.1</text>
<clipPath id="ci"><rect x="523.8" y="73.2" width="115.8" height="169.4"/></clipPath><g clip-path="url(#ci)">
<path d="M534.1,77.7 C534.42,80.57 534.88,89.8 536,94.9 C537.12,100 538.72,104.15 540.8,108.3 C542.88,112.45 544.82,115.97 548.5,119.8 C552.18,123.63 557.95,128.12 562.9,131.3 C567.85,134.48 572.78,136.03 578.2,138.9 C583.62,141.77 589.98,145.15 595.4,148.5 C600.82,151.85 607.18,156.63 610.7,159 C614.22,161.37 613.95,160.5 616.5,162.7 C619.05,164.9 623.62,168.7 626,172.2 C628.38,175.7 630.47,180.5 630.8,183.7 C631.13,186.9 630.07,188.85 628,191.4 C625.93,193.95 622.87,196.45 618.4,199 C613.93,201.55 607.27,203.82 601.2,206.7 C595.13,209.58 588.07,213.12 582,216.3 C575.93,219.48 570.38,221.82 564.8,225.8 C559.22,229.78 551.72,237 548.5,240.2 C545.28,243.4 546,244.2 545.5,245" fill="none" stroke="#d62728" stroke-width="1.45"/>
<path d="M543.1,78 C544.48,79.53 548.42,84.07 551.4,87.2 C554.38,90.33 556.85,93.28 561,96.8 C565.15,100.32 571.2,104.78 576.3,108.3 C581.4,111.82 586.5,114.72 591.6,117.9 C596.7,121.08 602.43,124.22 606.9,127.4 C611.37,130.58 615.22,133.8 618.4,137 C621.58,140.2 624.18,143.43 626,146.6 C627.82,149.77 628.97,153.32 629.3,156 C629.63,158.68 629.18,160.32 628,162.7 C626.82,165.08 625.08,168.07 622.2,170.3 C619.32,172.53 615.17,173.55 610.7,176.1 C606.23,178.65 601.78,182.1 595.4,185.6 C589.02,189.1 578.78,193.27 572.4,197.1 C566.02,200.93 561.08,204.77 557.1,208.6 C553.12,212.43 550.8,215.63 548.5,220.1 C546.2,224.57 544.17,232.85 543.3,235.4" fill="none" stroke="#1f77b4" stroke-width="1.45"/>
<circle cx="540.3" cy="78.0" r="2.4" fill="#d62728"/>
<circle cx="531.8" cy="85.9" r="2.4" fill="#d62728"/>
<circle cx="537.6" cy="93.7" r="2.4" fill="#d62728"/>
<circle cx="537.2" cy="101.2" r="2.4" fill="#d62728"/>
<circle cx="529.9" cy="108.9" r="2.4" fill="#d62728"/>
<circle cx="539.9" cy="116.3" r="2.4" fill="#d62728"/>
<circle cx="548.9" cy="124.0" r="2.4" fill="#d62728"/>
<circle cx="557.7" cy="131.8" r="2.4" fill="#d62728"/>
<circle cx="578.8" cy="139.3" r="2.4" fill="#d62728"/>
<circle cx="587.9" cy="147.0" r="2.4" fill="#d62728"/>
<circle cx="609.2" cy="154.2" r="2.4" fill="#d62728"/>
<circle cx="619.9" cy="161.9" r="2.4" fill="#d62728"/>
<circle cx="628.3" cy="169.6" r="2.4" fill="#d62728"/>
<circle cx="633.7" cy="177.4" r="2.4" fill="#d62728"/>
<circle cx="617.4" cy="184.9" r="2.4" fill="#d62728"/>
<circle cx="623.6" cy="192.3" r="2.4" fill="#d62728"/>
<circle cx="623.0" cy="199.8" r="2.4" fill="#d62728"/>
<circle cx="591.0" cy="207.1" r="2.4" fill="#d62728"/>
<circle cx="593.1" cy="214.9" r="2.4" fill="#d62728"/>
<circle cx="582.6" cy="222.0" r="2.4" fill="#d62728"/>
<circle cx="565.4" cy="229.5" r="2.4" fill="#d62728"/>
<circle cx="549.5" cy="236.9" r="2.4" fill="#d62728"/>
<circle cx="543.1" cy="78.0" r="2.4" fill="#1f77b4"/>
<circle cx="540.5" cy="86.3" r="2.4" fill="#1f77b4"/>
<circle cx="550.4" cy="94.1" r="2.4" fill="#1f77b4"/>
<circle cx="560.2" cy="102.2" r="2.4" fill="#1f77b4"/>
<circle cx="575.5" cy="110.0" r="2.4" fill="#1f77b4"/>
<circle cx="589.9" cy="118.1" r="2.4" fill="#1f77b4"/>
<circle cx="606.1" cy="126.1" r="2.4" fill="#1f77b4"/>
<circle cx="619.5" cy="134.0" r="2.4" fill="#1f77b4"/>
<circle cx="613.0" cy="142.2" r="2.4" fill="#1f77b4"/>
<circle cx="628.0" cy="150.0" r="2.4" fill="#1f77b4"/>
<circle cx="622.0" cy="157.8" r="2.4" fill="#1f77b4"/>
<circle cx="633.7" cy="165.5" r="2.4" fill="#1f77b4"/>
<circle cx="619.7" cy="173.6" r="2.4" fill="#1f77b4"/>
<circle cx="601.5" cy="181.2" r="2.4" fill="#1f77b4"/>
<circle cx="597.7" cy="189.5" r="2.4" fill="#1f77b4"/>
<circle cx="594.3" cy="196.9" r="2.4" fill="#1f77b4"/>
<circle cx="595.6" cy="205.0" r="2.4" fill="#1f77b4"/>
<circle cx="552.7" cy="212.4" r="2.4" fill="#1f77b4"/>
<circle cx="538.7" cy="220.5" r="2.4" fill="#1f77b4"/>
<circle cx="548.1" cy="227.8" r="2.4" fill="#1f77b4"/>
<circle cx="552.5" cy="235.4" r="2.4" fill="#1f77b4"/>
</g>
<rect x="523.8" y="73.2" width="115.8" height="169.4" fill="none" stroke="#000" stroke-width="1"/>
<text x="578.8" y="272" text-anchor="middle" font-size="11.7" fill="#000" >Intensity (a.u.)</text>
<text x="521.8" y="68.5" text-anchor="start" font-size="11.5" fill="#000" >(i)</text>
<rect x="541.3" y="33.4" width="136.9" height="34.1" rx="2" fill="#fff" stroke="#d0d0d0" stroke-width="0.8"/>
<circle cx="555.6" cy="42.4" r="2.4" fill="#d62728"/><circle cx="555.6" cy="58.5" r="2.4" fill="#1f77b4"/>
<text x="574.6" y="46.8" text-anchor="start" font-size="10.5" fill="#000" >MoSe<tspan font-size="7.6" dy="2.1">2</tspan><tspan dy="-2.1">​</tspan> on WS<tspan font-size="7.6" dy="2.1">2</tspan><tspan dy="-2.1">​</tspan>, 57.7°</text>
<text x="574.6" y="62.2" text-anchor="start" font-size="10.5" fill="#000" >WS<tspan font-size="7.6" dy="2.1">2</tspan><tspan dy="-2.1">​</tspan> on MoSe<tspan font-size="7.6" dy="2.1">2</tspan><tspan dy="-2.1">​</tspan>, 59.7°</text>
<line x1="475.8" y1="14.0" x2="521.2" y2="73.2" stroke="#6e2da3" stroke-width="1.8" stroke-dasharray="7.4 4.3"/>
<line x1="475.8" y1="52.3" x2="502.8" y2="229.5" stroke="#6e2da3" stroke-width="1.8" stroke-dasharray="7.4 4.3"/>
</svg></div>
<script>
(function(){
var L="00000401000501010601010802010a02020c02020e03021004031204031405041706041907051b08051d09061f0a07220b07240c08260d08290e092b10092d110a30120a32140b34150b37160b39180c3c190c3e1b0c411c0c431e0c451f0c48210c4a230c4c240c4f260c51280b53290b552b0b572d0b592f0a5b310a5c320a5e340a5f3609613809623909633b09643d09653e0966400a67420a68440a68450a69470b6a490b6a4a0c6b4c0c6b4d0d6c4f0d6c510e6c520e6d540f6d550f6d57106e59106e5a116e5c126e5d126e5f136e61136e62146e64156e65156e67166e69166e6a176e6c186e6d186e6f196e71196e721a6e741a6e751b6e771c6d781c6d7a1d6d7c1d6d7d1e6d7f1e6c801f6c82206c84206b85216b87216b88226a8a226a8c23698d23698f24699025689225689326679526679727669827669a28659b29649d29649f2a63a02a63a22b62a32c61a52c60a62d60a82e5fa92e5eab2f5ead305dae305cb0315bb1325ab3325ab43359b63458b73557b93556ba3655bc3754bd3853bf3952c03a51c13a50c33b4fc43c4ec63d4dc73e4cc83f4bca404acb4149cc4248ce4347cf4446d04545d24644d34743d44842d54a41d74b3fd84c3ed94d3dda4e3cdb503bdd513ade5238df5337e05536e15635e25734e35933e45a31e55c30e65d2fe75e2ee8602de9612bea632aeb6429eb6628ec6726ed6925ee6a24ef6c23ef6e21f06f20f1711ff1731df2741cf3761bf37819f47918f57b17f57d15f67e14f68013f78212f78410f8850ff8870ef8890cf98b0bf98c0af98e09fa9008fa9207fa9407fb9606fb9706fb9906fb9b06fb9d07fc9f07fca108fca309fca50afca60cfca80dfcaa0ffcac11fcae12fcb014fcb216fcb418fbb61afbb81dfbba1ffbbc21fbbe23fac026fac228fac42afac62df9c72ff9c932f9cb35f8cd37f8cf3af7d13df7d340f6d543f6d746f5d949f5db4cf4dd4ff4df53f4e156f3e35af3e55df2e661f2e865f2ea69f1ec6df1ed71f1ef75f1f179f2f27df2f482f3f586f3f68af4f88ef5f992f6fa96f8fb9af9fc9dfafda1fcffa4";
var R=[],Gc=[],B=[];
for(var i=0;i<256;i++){R.push(parseInt(L.substr(i*6,2),16));Gc.push(parseInt(L.substr(i*6+2,2),16));B.push(parseInt(L.substr(i*6+4,2),16));}
function h2(i,j,s){var h=(Math.imul(i,374761393)+Math.imul(j,668265263)+Math.imul(s,1274126177))|0;h=Math.imul(h^(h>>>13),1274126177);h^=h>>>16;return (h>>>0)/4294967296;}
function g(x,s){return Math.exp(-x*x/(2*s*s));}
function sm(a,b,x){var t=Math.min(1,Math.max(0,(x-a)/(b-a)));return t*t*(3-2*t);}
function edge(d,w1,w2){if(d<=0)return 1;w1=w1||0.08;w2=w2||0.42;return 0.35*Math.exp(-d/w1)+0.65*Math.exp(-d/w2);}
function smax(a,b,t){t=t||0.04;var m=Math.max(a,b);return m+t*Math.log(Math.exp((a-m)/t)+Math.exp((b-m)/t));}
function pmax(a,b){return Math.max(a,b);}
// row-based speckle: rows ~1.33px tall, horizontally interpolated cells
function speck(px,py,s,cw,rh){
  cw=cw||2.2;rh=rh||1.32;var y=py/rh;var r=Math.floor(y),fy=y-r;
  function row(rr){var off=h2(rr,7,s+99)*cw;var x=(px+off)/cw;var c=Math.floor(x),f=x-c;var a=h2(c,rr,s),b=h2(c+1,rr,s);f=f*f*(3-2*f);return a+(b-a)*f;}
  var a=row(r),b=row(r+1);fy=sm(0.25,0.75,fy);return a+(b-a)*fy;}
var panels=[
 // a: ML MoSe2
 {x0:35.1,x1:166.0,y0:13.2,y1:143.2,E0:-1,E1:2.2,cut:1.32,seed:1,cw:2.6,rh:1.3,
  top:function(k,E,n){var ak=Math.abs(k);
     var s=g(ak-1.3,0.17)*g(E-1.55,0.12);
     var v=0.42*Math.pow(n,2.5)+0.015 + s*(0.2+0.36*n) + 0.25*g(k,0.06)*g(E-1.5,0.08)*n;
     return v;},
  f:function(k,E){
   var ak=Math.abs(k);
   var eg=-0.11-0.34*k*k;
   var ek=ak<1.18?(-0.2-0.73*(1.18-ak)*(1.18-ak)):(-0.2-1.7*(ak-1.18));
   var eb=smax(eg,ek,0.04);
   var pl=0.8+0.04*g(k,0.45)*sm(-0.5,-0.9,E)-0.08*sm(1.3,2.0,ak);
   var w1=0.07+0.1*sm(1.2,1.6,ak);
   var v=pl*edge(E-eb,w1,0.3);
   var vo=(0.46+0.2*sm(-0.2,-0.8,E))*edge(E+0.2,0.12,0.35)*sm(0.9,1.5,ak);
   v=Math.max(v,vo);
   v=Math.max(v,0.4*(1-0.3*sm(1.1,2,ak))*Math.exp(-Math.max(0,E+0.1)/0.38));
   v+=0.2*g(k,0.38)*g(E+0.4,0.14)*(E<eb?1:edge(E-eb));
   return v+0.015;}},
 // c: MoSe2 on WS2 57.7
 {x0:202.2,x1:333.2,y0:13.2,y1:143.2,E0:-1,E1:2.2,cut:1.26,seed:2,
  top:function(k,E,n){var ak=Math.abs(k);
     var s=g(ak-1.36,0.13)*g(E-1.6,0.15);
     return 0.28*Math.pow(n,2.7)+0.012 + s*(0.26+0.38*n)+0.15*g(k,0.12)*g(E-1.45,0.05)*n;},
  f:function(k,E){
   var ak=Math.abs(k);
   var eb=smax(0.1-1.4*k*k,-0.3-0.5*k*k,0.04);
   var v=0.8*edge(E-eb,0.08,0.4);
   var vs=(0.25+0.26*sm(0.0,-0.8,E))*edge(E-0.1,0.15,0.4)*sm(0.6,1.25,ak);
   v=Math.max(v,vs);
   v=Math.max(v,0.24*sm(0.65,-0.1,E));
   v+=0.21*g(k,0.3)*g(E+0.6,0.13)*(E<eb?1:edge(E-eb));
   v+=0.05*g(k,0.5)*sm(-0.2,-0.6,E);
   return v+0.015;}},
 // d: WS2 on MoSe2 59.7
 {x0:344.4,x1:475.5,y0:13.2,y1:143.2,E0:-1,E1:2.2,cut:1.26,seed:3,
  top:function(k,E,n){var ak=Math.abs(k);
     var s=g(ak-1.3,0.09)*g(E-1.7,0.18);
     return 0.17*n*n*n+0.012 + s*(0.22+0.35*n)+0.1*g(ak-0.25,0.15)*g(E-2.1,0.05);},
  f:function(k,E){
   var ak=Math.abs(k);
   var eb=smax(0.25-3.0*k*k,0.16-1.9*k*k,0.04);
   var v=0.79*edge(E-eb,0.07,0.24);
   var es=-0.14-1.98*Math.abs(ak-1.29);
   var vs=(0.5+sm(-0.3,-0.8,E)*(0.08+0.2*sm(1.45,1.3,ak)))*edge(E-es,0.07,0.28);
   var vb=0.3*sm(0.35,-0.6,E)*sm(1.1,1.65,ak);
   v=Math.max(v,Math.max(vs,vb));
   v+=0.16*g(k,0.2)*g(E+0.03,0.1)*(E<eb?1:edge(E-eb));
   v+=0.2*g(k,0.28)*g(E+0.59,0.12)*(E<eb?1:edge(E-eb));
   return v+0.012;}},
 // b: ML WS2
 {x0:35.1,x1:166.0,y0:179.0,y1:309.4,E0:-1,E1:2.4,cut:1.35,seed:4,
  top:function(k,E,n){var ak=Math.abs(k);
     var s=g(ak-1.27,0.065)*g(E-2.0,0.16);
     return 0.14*n*n*n+0.01 + s*(0.4+0.45*n)+0.3*g(k,0.2)*g(E-1.53,0.03)*n+0.12*sm(1.65,1.4,E)*n*n*n;},
  f:function(k,E){
   var ak=Math.abs(k);
   var eg=-0.02-1.5*k*k;
   var ek=ak<1.28?(0.03-1.43*(1.28-ak)):(0.03-1.6*(ak-1.28));
   var u=smax(eg,ek,0.06);
   var w=0.45+0.22*g(k,0.4);
   var pl=0.8-0.4*sm(1.25,1.45,ak);
   var v=pl*edge(E-u,0.08,0.28)*edge(u-w-E,0.1,0.3);
   var eo=0.0-1.0*(ak-1.28);
   var vo=(0.3+0.14*sm(-0.3,-0.8,E))*edge(E-eo,0.12,0.35)*sm(1.1,1.4,ak)*(1-0.4*sm(1.55,2.0,ak));
   v=Math.max(v,vo);
   var fl=(0.28+0.12*g(k,0.3)*sm(-0.6,-1,E))*sm(-0.1,-0.6,E-u+0.3);
   v=Math.max(v,fl);
   v=Math.max(v,0.27*sm(0.8,-0.05,E)*(1-0.4*sm(1.4,2,ak)));
   v+=0.2*g(k,0.3)*g(E+0.24,0.11)*(E<u?1:edge(E-u));
   return v+0.015;}},
 // e: MoSe2 on WS2 40.1
 {x0:202.2,x1:333.2,y0:179.2,y1:309.4,E0:-1,E1:2.2,cut:1.3,seed:5,cw:2.0,rh:1.32,
  top:function(k,E,n){var ak=Math.abs(k);
     return (0.5+0.15*g(ak-1.1,0.3)+0.2*g(k,0.06))*(0.65+0.35*sm(1.3,1.8,E))*Math.pow(n,2.7)+0.025;},
  f:function(k,E){
   var ak=Math.abs(k);
   var eb=0.21-1.45*k*k;
   var dd=eb-E;
   var v=(E>eb)?0.8*edge(E-eb,0.08,0.4):(0.74+0.18*g(dd-0.15,0.08)*g(k,0.32));
   var ei=-0.03-0.62*(1.33-ak);
   var vi=0.76*edge(E-ei,0.08,0.38)*(1-0.1*sm(0.25,0.55,ei-E))*sm(1.5,1.08,ak);
   var eo=-0.03-0.9*(ak-1.33);
   var vo=(0.3+0.14*sm(-0.3,-0.9,E))*edge(E-eo,0.1,0.4)*sm(1.1,1.35,ak);
   v=Math.max(v,Math.max(vi,vo));
   v=Math.max(v,0.2*sm(0.6,-0.05,E)*(1-0.3*sm(1.3,2,ak)));
   var ind=(E<eb?1:edge(E-eb,0.05,0.1));
   v+=0.22*g(k,0.33)*g(E+0.52,0.06)*ind;
   v-=0.4*g(k,0.1)*g(E+0.97,0.06);
   return v+0.015;}},
 // f: WS2 on MoSe2 40.2
 {x0:344.4,x1:475.5,y0:179.2,y1:309.4,E0:-1,E1:2.2,cut:1.3,seed:6,cw:1.7,rh:1.3,
  top:function(k,E,n){
     var arc=g(E-(1.47-1.5*k*k),0.018)*g(k,0.12)+g(E-(1.41-1.5*k*k),0.018)*g(k,0.1);
     return 0.5*Math.pow(n,4)+0.13*n*n+0.012+0.45*arc;},
  f:function(k,E){
   var ak=Math.abs(k);var k2=k*k;
   var eb=0.27-1.8*k2-10*k2*k2*k2;
   var v=0.8*edge(E-eb,0.06,0.26);
   var es=-0.08-2.0*Math.abs(ak-1.29);
   var vs=(0.26+0.1*sm(-0.3,-0.9,E))*edge(E-es,0.12,0.3);
   v=Math.max(v,vs);
   v+=0.2*g(k,0.14)*g(E-0.0,0.07)*(E<eb?1:0);
   v+=0.12*g(k,0.3)*g(E+0.53,0.07)*(E<eb?1:0);
   v-=0.4*g(k,0.1)*g(E+0.9,0.07);
   return v+0.012;}}
];
function blur(arr,w,h,sig){
  var r=Math.ceil(sig*3),ker=[],s=0;for(var i=-r;i<=r;i++){var q=Math.exp(-i*i/(2*sig*sig));ker.push(q);s+=q;}
  for(i=0;i<ker.length;i++)ker[i]/=s;
  var tmp=new Float32Array(w*h),out=new Float32Array(w*h);
  for(var y=0;y<h;y++)for(var x=0;x<w;x++){var a=0;for(var j=-r;j<=r;j++){var xx=Math.min(w-1,Math.max(0,x+j));a+=arr[y*w+xx]*ker[j+r];}tmp[y*w+x]=a;}
  for(y=0;y<h;y++)for(x=0;x<w;x++){var a2=0;for(j=-r;j<=r;j++){var yy=Math.min(h-1,Math.max(0,y+j));a2+=tmp[yy*w+x]*ker[j+r];}out[y*w+x]=a2;}
  return out;}
var cv=document.getElementById('cv');var ctx=cv.getContext('2d');
var W=cv.width,H=cv.height;var img=ctx.createImageData(W,H);var D=img.data;
for(var i=0;i<D.length;i+=4){D[i]=255;D[i+1]=255;D[i+2]=255;D[i+3]=255;}
panels.forEach(function(P){
  var xa=Math.floor(P.x0),xb=Math.ceil(P.x1),ya=Math.floor(P.y0),yb=Math.ceil(P.y1);
  var w=xb-xa,h=yb-ya;
  var ycut=P.y0+(P.E1-P.cut)*(P.y1-P.y0)/(P.E1-P.E0);
  var lowY=Math.round(ycut)-ya; // first row of lower region (relative)
  var lw=h-lowY;var low=new Float32Array(w*lw);
  for(var py=ya+lowY;py<yb;py++)for(var px=xa;px<xb;px++){
    var k=-2+4*(px+0.5-P.x0)/(P.x1-P.x0);var E=P.E1-(P.E1-P.E0)*(py+0.5-P.y0)/(P.y1-P.y0);
    low[(py-ya-lowY)*w+(px-xa)]=P.f(k,E);}
  low=blur(low,w,lw,1.9);
  for(py=ya;py<yb;py++){for(px=xa;px<xb;px++){
    var k2=-2+4*(px+0.5-P.x0)/(P.x1-P.x0);var E2=P.E1-(P.E1-P.E0)*(py+0.5-P.y0)/(P.y1-P.y0);
    var v;
    if(py-ya<lowY){var cxp=(P.x0+P.x1)/2;var pxs=Math.abs(px+0.5-cxp);var n=speck(pxs,py,P.seed,P.cw,P.rh);v=P.top(k2,E2,n);}else{v=low[(py-ya-lowY)*w+(px-xa)];}
    v=Math.max(0,Math.min(1,v));var ci=Math.round(v*255);
    var cov=Math.max(0,Math.min(1,Math.min(px+1,P.x1)-Math.max(px,P.x0)))*Math.max(0,Math.min(1,Math.min(py+1,P.y1)-Math.max(py,P.y0)));
    var o=(py*W+px)*4;
    D[o]=Math.round(R[ci]*cov+255*(1-cov));D[o+1]=Math.round(Gc[ci]*cov+255*(1-cov));D[o+2]=Math.round(B[ci]*cov+255*(1-cov));
  }}
});
ctx.putImageData(img,0,0);
})();

</script></body></html>
